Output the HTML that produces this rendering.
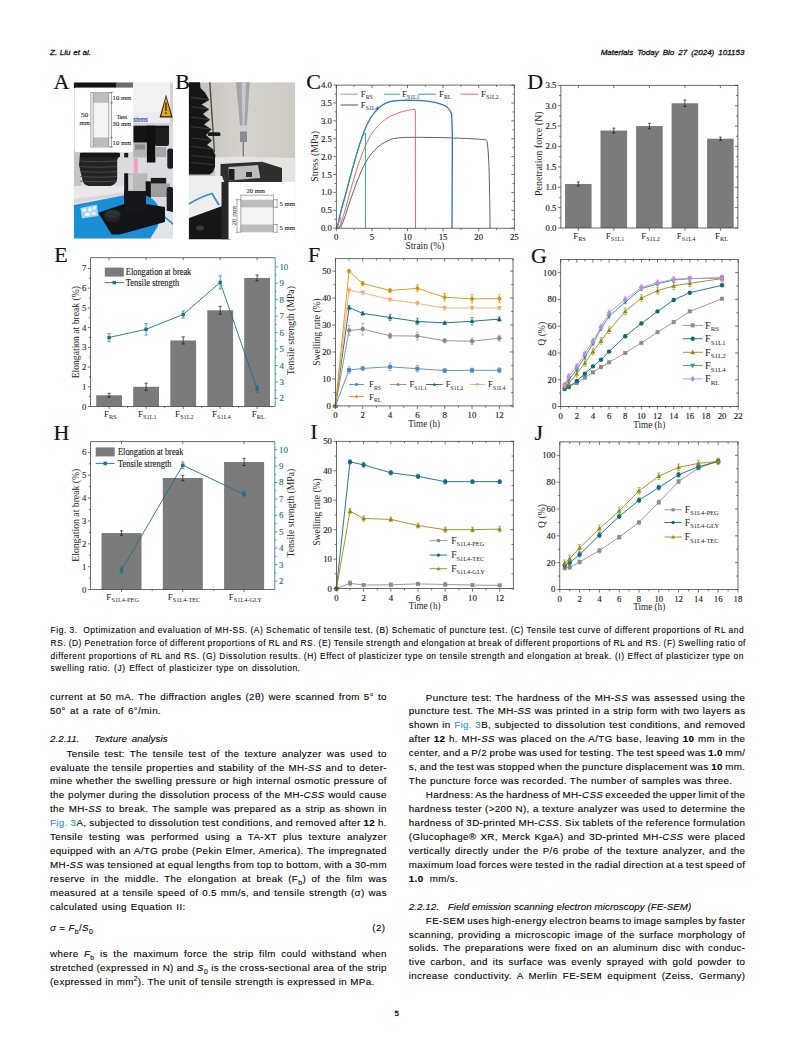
<!DOCTYPE html>
<html><head><meta charset="utf-8"><title>Materials Today Bio 27 (2024) 101153 - page 5</title>
<style>
html,body{margin:0;padding:0;background:#fff;}
body{width:794px;height:1058px;position:relative;overflow:hidden;}
.ln{position:absolute;white-space:nowrap;line-height:12.0px;font-family:"Liberation Sans", "DejaVu Sans", sans-serif;color:#000;-webkit-text-stroke-width:0.1px;}
.ln sub,.ln sup{font-size:70%;line-height:0;}
.ln b{font-weight:bold;}
.lk{color:#2f8fcf;}
.hd,.hdr,.pg{color:#111;-webkit-text-stroke-width:0.3px;}
.bt{letter-spacing:0.35px;}
.cap{letter-spacing:0.55px;}
.hh{letter-spacing:0.05px;}
svg.fig{position:absolute;left:0;top:0;}
</style></head><body>
<svg class="fig" width="794" height="615" viewBox="0 0 794 615">
<clipPath id="cpA"><rect x="73.9" y="82.5" width="99.1" height="155.9"/></clipPath>
<g clip-path="url(#cpA)">
<rect x="73.9" y="82.5" width="99.1" height="155.9" fill="#dcdbdf"/>
<rect x="73" y="150" width="8" height="40" fill="#c4c3c6"/>
<rect x="73" y="82" width="44" height="6" fill="#141414"/>
<rect x="116" y="82" width="18" height="6" fill="#6a6a6a"/>
<path d="M133 82 H173 V125 H133 Z" fill="#f2f0f3"/>
<path d="M133 112 H173 V125 H133 Z" fill="#eeebef"/>
<path d="M133 123 H173 V126 H133 Z" fill="#d4d0d6"/>
<path d="M170 82 H173 V125 H170 Z" fill="#d3d0d6"/>
<polygon points="166,94.5 159.6,117.5 172.6,117.5" fill="#222"/>
<polygon points="166,97 161.2,116.3 171,116.3" fill="#eaa816"/>
<rect x="165.35" y="102.5" width="1.3" height="8.5" fill="#222"/><rect x="165.35" y="112.3" width="1.3" height="1.6" fill="#222"/>
<text x="133.3" y="122.2" font-size="6.8" font-weight="bold" font-style="italic" fill="#2a4db0" font-family='"Liberation Sans", sans-serif' textLength="14.5" lengthAdjust="spacingAndGlyphs">stems</text>
<rect x="133.3" y="125.7" width="35.7" height="17" fill="#141414"/>
<rect x="155" y="128" width="14" height="18" rx="2" fill="#1e1e1e"/>
<rect x="133.3" y="142.7" width="13.6" height="14.7" fill="#b4b4b6"/>
<rect x="135" y="144.5" width="10" height="5" fill="#8c8c8e"/>
<rect x="146.9" y="125.7" width="8.5" height="36.8" fill="#101010"/>
<rect x="155.4" y="147" width="11" height="10" fill="#a6a6a8"/>
<rect x="167.3" y="148.4" width="6" height="20.4" rx="2.5" fill="#1c1c22"/>
<rect x="124.2" y="152.9" width="4" height="4.5" fill="#1a1a1a"/>
<path d="M80 154 Q80 152.8 83 152.8 H117 Q120 152.8 119 156 L117.2 160 V178 Q117 186.8 104 186.8 H95 Q83 186.8 82.5 180 L79 165 Z" fill="#242424"/>
<rect x="80" y="152.8" width="40" height="4.5" rx="1" fill="#161616"/>
<path d="M80.5 161 Q98 162.5 117 161" stroke="#4a4a4a" stroke-width="1.1" fill="none"/>
<path d="M80.5 166.5 Q98 168.0 117 166.5" stroke="#4a4a4a" stroke-width="1.1" fill="none"/>
<path d="M80.5 171.5 Q98 173.0 117 171.5" stroke="#4a4a4a" stroke-width="1.1" fill="none"/>
<path d="M80.5 176.5 Q98 178.0 117 176.5" stroke="#4a4a4a" stroke-width="1.1" fill="none"/>
<path d="M80.5 181 Q98 182.5 117 181" stroke="#4a4a4a" stroke-width="1.1" fill="none"/>
<polygon points="73,186 124,186 124,194.8 73,205.2" fill="#ebe7ea"/>
<polygon points="73,199 124,192.5 124,195 73,203.5" fill="#d9d6da"/>
<rect x="133.8" y="158" width="4" height="15.3" fill="#f0a0c0"/>
<rect x="124.2" y="173.3" width="4.2" height="37.5" fill="#141414"/>
<rect x="128.2" y="173.3" width="19.2" height="17.6" fill="#b9b9bb"/>
<rect x="129" y="175" width="4" height="15" fill="#cfcfd1"/>
<rect x="147" y="183.5" width="23" height="13.5" fill="#9d9d9f"/>
<rect x="145.7" y="181.3" width="5.1" height="31.7" fill="#121212"/>
<rect x="150.8" y="177.9" width="15.4" height="5.6" fill="#1a1a1a"/>
<rect x="166.7" y="187" width="6.3" height="27" rx="2" fill="#1c1c22"/>
<path d="M73 205.2 L127 194.8 L140 194 Q160 198 160 215 Q160 232 150 240 H73 Z" fill="#1b8fd6"/>
<polygon points="158,209 173,212 173,239 150,239 158,226" fill="#e2e4ea"/>
<path d="M157.6 210.8 L173.5 224.4" stroke="#1b8fd6" stroke-width="1.6"/>
<polygon points="80.4,208 97,204.5 98.3,216 82,218.4" fill="#a9d2ef"/>
<rect x="82.5" y="208.5" width="3.5" height="3" fill="#eef6fc"/><rect x="88.5" y="207.5" width="3" height="4" fill="#eef6fc"/><rect x="93" y="206.5" width="3" height="3" fill="#eef6fc"/><rect x="85" y="213" width="5" height="3" fill="#eef6fc"/><rect x="92" y="212" width="3.5" height="3" fill="#eef6fc"/>
<polygon points="98.3,212.7 124,204 146,204 165,207 165,222 120,234.5 111.6,234.5" fill="#121418"/>
<polygon points="124,190.9 146,190.9 146,212 124,212" fill="#15171b"/>
<ellipse cx="112.5" cy="216" rx="8.5" ry="6.2" fill="#202226"/>
<ellipse cx="112.5" cy="214" rx="7.5" ry="4.2" fill="#2e3034"/>
</g>
<rect x="75" y="87.6" width="58.2" height="64.5" fill="#ffffff"/>
<rect x="90.9" y="92.3" width="20.6" height="54.7" fill="#f4f4f6" stroke="#555" stroke-width="0.5"/>
<rect x="93.2" y="92.3" width="15.5" height="10.5" fill="#bdbdbd"/>
<rect x="93.2" y="137.4" width="15.5" height="9.6" fill="#bdbdbd"/>
<line x1="93.2" y1="92.3" x2="93.2" y2="147" stroke="#666" stroke-width="0.5"/><line x1="108.7" y1="92.3" x2="108.7" y2="147" stroke="#666" stroke-width="0.5"/>
<line x1="110" y1="92.3" x2="113" y2="92.3" stroke="#444" stroke-width="0.5"/>
<line x1="110" y1="102.8" x2="113" y2="102.8" stroke="#444" stroke-width="0.5"/>
<line x1="110" y1="137.4" x2="113" y2="137.4" stroke="#444" stroke-width="0.5"/>
<line x1="110" y1="147" x2="113" y2="147" stroke="#444" stroke-width="0.5"/>
<text x="112.6" y="99.8" font-size="6.6" fill="#333" stroke="#333" stroke-width="0.15" font-family='"Liberation Serif", "Times New Roman", serif' textLength="18.6" lengthAdjust="spacingAndGlyphs">10 mm</text>
<text x="116.4" y="118.8" font-size="6.6" fill="#333" stroke="#333" stroke-width="0.15" font-family='"Liberation Serif", "Times New Roman", serif' textLength="11" lengthAdjust="spacingAndGlyphs">Test</text>
<text x="112.6" y="126.4" font-size="6.6" fill="#333" stroke="#333" stroke-width="0.15" font-family='"Liberation Serif", "Times New Roman", serif' textLength="18.6" lengthAdjust="spacingAndGlyphs">30 mm</text>
<text x="112.6" y="145.4" font-size="6.6" fill="#333" stroke="#333" stroke-width="0.15" font-family='"Liberation Serif", "Times New Roman", serif' textLength="18.6" lengthAdjust="spacingAndGlyphs">10 mm</text>
<text x="80.8" y="116.7" font-size="6.6" fill="#333" stroke="#333" stroke-width="0.15" font-family='"Liberation Serif", "Times New Roman", serif' textLength="7.5" lengthAdjust="spacingAndGlyphs">50</text>
<text x="79.6" y="124.5" font-size="6.6" fill="#333" stroke="#333" stroke-width="0.15" font-family='"Liberation Serif", "Times New Roman", serif' textLength="10.2" lengthAdjust="spacingAndGlyphs">mm</text>
<text x="53.6" y="88.5" font-size="22" fill="#111" stroke="#111" stroke-width="0.15" font-family='"Liberation Serif", "Times New Roman", serif'>A</text>
<text x="175.2" y="88.5" font-size="22" fill="#111" stroke="#111" stroke-width="0.15" font-family='"Liberation Serif", "Times New Roman", serif'>B</text>
<clipPath id="cpB"><rect x="188.9" y="82.3" width="106.49999999999997" height="156.89999999999998"/></clipPath>
<g clip-path="url(#cpB)">
<linearGradient id="wallB" x1="0" y1="0" x2="1" y2="0"><stop offset="0" stop-color="#c2bfb8"/><stop offset="0.5" stop-color="#d6d3cd"/><stop offset="1" stop-color="#cdcac4"/></linearGradient>
<rect x="188.9" y="82.3" width="106.49999999999997" height="156.89999999999998" fill="url(#wallB)"/>
<line x1="209.8" y1="82" x2="214.4" y2="152" stroke="#4e4a45" stroke-width="1.4"/>
<polygon points="188,82 200,82 200.5,88 205,92.5 209.2,99.9 201.6,104.5 209.2,109.3 203,114 210,119.7 204,124.6 211.5,129.2 206,135 212,140.5 207,145 213,149 215.3,155 215.3,166 213,172 209.6,174.6 188,174.6" fill="#161616"/>
<path d="M191 97.4 Q200.1 98.4 207.7 99.6" stroke="#3a3a3a" stroke-width="1.1" fill="none"/>
<path d="M191 106.8 Q200.1 107.8 207.7 109" stroke="#3a3a3a" stroke-width="1.1" fill="none"/>
<path d="M191 117.2 Q200.5 118.2 208.5 119.4" stroke="#3a3a3a" stroke-width="1.1" fill="none"/>
<path d="M191 126.7 Q201.25 127.7 210 128.9" stroke="#3a3a3a" stroke-width="1.1" fill="none"/>
<path d="M191 138 Q201.5 139 210.5 140.2" stroke="#3a3a3a" stroke-width="1.1" fill="none"/>
<path d="M191 146.5 Q202 147.5 211.5 148.7" stroke="#3a3a3a" stroke-width="1.1" fill="none"/>
<path d="M191 155.5 Q203 156.5 213.5 157.7" stroke="#3a3a3a" stroke-width="1.1" fill="none"/>
<path d="M191 162.5 Q203 163.5 213.5 164.7" stroke="#3a3a3a" stroke-width="1.1" fill="none"/>
<rect x="207.7" y="132.3" width="12.8" height="3.6" rx="1.5" fill="#1a1a1a"/>
<polygon points="236,82 249.8,82 246.8,126 240,126" fill="#a3a3a8"/>
<polygon points="241.5,82 246,82 244.6,126 242.4,126" fill="#c6c6cb"/>
<rect x="238" y="125.5" width="11.5" height="6.5" rx="2.5" fill="#d0d0d4"/>
<rect x="240" y="131.5" width="7" height="10.5" fill="#8c8c90"/>
<rect x="242.6" y="142" width="1.3" height="20" fill="#77777b"/>
<polygon points="215,157.5 240,156.5 295,158 295,182 215,182" fill="#e6e4e0"/>
<polygon points="220.5,164 262,161.7 282,168 282,182 220.5,182" fill="#2e2e2e"/>
<polygon points="228.5,167 258,165 260.3,178 229,180.6" fill="#bdbdbf"/>
<rect x="229" y="169" width="5.5" height="11" fill="#1e1e1e"/>
<rect x="246" y="172" width="6" height="5" fill="#333"/>
<polygon points="188,176 222,176 225,184 225,206 188,218" fill="#efeded"/>
<path d="M188 204.5 Q200 197 212 193.5 L219 205" fill="none" stroke="#2a8ed0" stroke-width="1.8"/>
<polygon points="188,218.5 225,205 231,206 231,240 188,240" fill="#161616"/>
<rect x="221.5" y="182" width="8" height="58" fill="#262626"/>
<ellipse cx="200" cy="228" rx="4" ry="2.5" fill="#3a3a3a"/>
</g>
<rect x="228.5" y="182" width="66.9" height="57.2" fill="#ffffff"/>
<rect x="240.8" y="199.7" width="32.6" height="32.6" fill="#f4f4f6"/>
<rect x="240.8" y="199.7" width="32.6" height="7.7" fill="#bdbdbd"/>
<rect x="240.8" y="224.5" width="32.6" height="7.8" fill="#bdbdbd"/>
<line x1="240.8" y1="194.5" x2="240.8" y2="232.3" stroke="#555" stroke-width="0.5"/>
<line x1="273.4" y1="194.5" x2="273.4" y2="232.3" stroke="#555" stroke-width="0.5"/>
<line x1="240.8" y1="195.2" x2="273.4" y2="195.2" stroke="#555" stroke-width="0.5"/>
<line x1="237" y1="199.7" x2="237" y2="232.3" stroke="#555" stroke-width="0.5"/>
<line x1="235.5" y1="199.7" x2="240.8" y2="199.7" stroke="#555" stroke-width="0.5"/><line x1="235.5" y1="232.3" x2="240.8" y2="232.3" stroke="#555" stroke-width="0.5"/>
<line x1="273.4" y1="199.7" x2="278" y2="199.7" stroke="#555" stroke-width="0.5"/>
<line x1="273.4" y1="207.4" x2="278" y2="207.4" stroke="#555" stroke-width="0.5"/>
<line x1="273.4" y1="224.5" x2="278" y2="224.5" stroke="#555" stroke-width="0.5"/>
<line x1="273.4" y1="232.3" x2="278" y2="232.3" stroke="#555" stroke-width="0.5"/>
<line x1="277" y1="199.7" x2="277" y2="207.4" stroke="#555" stroke-width="0.5"/><line x1="277" y1="224.5" x2="277" y2="232.3" stroke="#555" stroke-width="0.5"/>
<text x="246.5" y="193.3" font-size="6.8" fill="#333" stroke="#333" stroke-width="0.15" font-family='"Liberation Serif", "Times New Roman", serif' textLength="18.5" lengthAdjust="spacingAndGlyphs">20 mm</text>
<text x="279.5" y="206.2" font-size="6.8" fill="#333" stroke="#333" stroke-width="0.15" font-family='"Liberation Serif", "Times New Roman", serif' textLength="15.5" lengthAdjust="spacingAndGlyphs">5 mm</text>
<text x="279.5" y="230.2" font-size="6.8" fill="#333" stroke="#333" stroke-width="0.15" font-family='"Liberation Serif", "Times New Roman", serif' textLength="15.5" lengthAdjust="spacingAndGlyphs">5 mm</text>
<text x="0" y="0" font-size="6.8" fill="#333" font-family='"Liberation Serif", "Times New Roman", serif' transform="translate(235.8,225.5) rotate(-90)" textLength="19.5" lengthAdjust="spacingAndGlyphs">20 mm</text>
<text x="306.2" y="88.9" font-size="22" fill="#111" stroke="#111" stroke-width="0.15" font-family='"Liberation Serif", "Times New Roman", serif'>C</text>
<polyline points="336.3,228.2 339.15,227.84 342,224.62 345.56,214.61 349.12,203.87 352.68,193.5 356.24,183.48 359.8,174.54 363.36,166.67 366.92,160.23 370.48,154.86 374.18,150.57 377.88,146.99 381.58,144.13 385.29,141.98 388.99,140.19 392.69,138.76 400.1,137.69 407.5,137.33 421.74,137.33 435.98,137.51 450.22,137.87 464.46,138.4 478.7,139.12 485.82,139.84 487.24,141.62 488.31,153.07 489.02,167.38 489.74,199.58 490.09,228.2" fill="none" stroke="#3c3c3c" stroke-width="0.8" stroke-linejoin="round"/>
<polyline points="336.3,228.2 339.15,227.13 340.86,224.62 343.42,215.68 346.27,206.02 349.12,195.29 352.68,182.77 356.24,170.96 359.8,160.23 363.36,150.57 366.92,142.34 370.48,135.54 374.18,130.18 377.88,125.88 381.58,122.31 385.29,119.44 388.99,116.94 392.69,115.15 396.39,113.72 400.1,112.29 403.8,111.22 407.5,110.5 411.06,109.78 414.98,109.43 415.33,110.14 415.47,228.2" fill="none" stroke="#e8574f" stroke-width="0.9" stroke-linejoin="round"/>
<polyline points="336.3,228.2 337.9,224.62 339.5,217.47 341.64,208.52 345.2,196 348.76,182.41 352.32,169.17 355.88,156.65 359.44,144.84 363,134.47 366.56,125.53 370.32,118.37 374.08,113 377.83,108.71 381.59,105.49 385.35,103.35 389.11,101.91 392.86,101.02 400.38,100.3 407.5,100.13 414.62,100.3 421.74,100.66 428.86,101.38 435.98,102.63 443.1,104.78 447.37,107.28 450.22,110.86 451.64,114.44 452.36,135.19 452,228.2" fill="none" stroke="#2b78c8" stroke-width="1.3" stroke-linejoin="round"/>
<polyline points="336.3,228.2 337.9,224.62 339.5,217.47 341.64,208.52 345.2,196 348.76,182.41 352.32,169.17 355.88,156.65 359.44,144.84 363,135.19 365.63,133.04 365.35,145.92 365.49,228.2" fill="none" stroke="#27a07e" stroke-width="0.9" stroke-linejoin="round"/>
<polyline points="336.3,228.2 337.72,226.41 339.15,221.04 340.57,216.75 341.28,224.62 341.64,228.2" fill="none" stroke="#b27ad8" stroke-width="0.9" stroke-linejoin="round"/>
<rect x="336.3" y="85.1" width="178" height="143.1" fill="none" stroke="#3a3a3a" stroke-width="0.75"/>
<line x1="336.3" y1="228.2" x2="333.3" y2="228.2" stroke="#3a3a3a" stroke-width="0.7"/>
<text x="331.9" y="231.19" font-size="8.8" fill="#222" stroke="#222" stroke-width="0.15" font-family='"Liberation Serif", "Times New Roman", serif' text-anchor="end">0.0</text>
<line x1="336.3" y1="210.31" x2="333.3" y2="210.31" stroke="#3a3a3a" stroke-width="0.7"/>
<text x="331.9" y="213.3" font-size="8.8" fill="#222" stroke="#222" stroke-width="0.15" font-family='"Liberation Serif", "Times New Roman", serif' text-anchor="end">0.5</text>
<line x1="336.3" y1="192.42" x2="333.3" y2="192.42" stroke="#3a3a3a" stroke-width="0.7"/>
<text x="331.9" y="195.42" font-size="8.8" fill="#222" stroke="#222" stroke-width="0.15" font-family='"Liberation Serif", "Times New Roman", serif' text-anchor="end">1.0</text>
<line x1="336.3" y1="174.54" x2="333.3" y2="174.54" stroke="#3a3a3a" stroke-width="0.7"/>
<text x="331.9" y="177.53" font-size="8.8" fill="#222" stroke="#222" stroke-width="0.15" font-family='"Liberation Serif", "Times New Roman", serif' text-anchor="end">1.5</text>
<line x1="336.3" y1="156.65" x2="333.3" y2="156.65" stroke="#3a3a3a" stroke-width="0.7"/>
<text x="331.9" y="159.64" font-size="8.8" fill="#222" stroke="#222" stroke-width="0.15" font-family='"Liberation Serif", "Times New Roman", serif' text-anchor="end">2.0</text>
<line x1="336.3" y1="138.76" x2="333.3" y2="138.76" stroke="#3a3a3a" stroke-width="0.7"/>
<text x="331.9" y="141.75" font-size="8.8" fill="#222" stroke="#222" stroke-width="0.15" font-family='"Liberation Serif", "Times New Roman", serif' text-anchor="end">2.5</text>
<line x1="336.3" y1="120.88" x2="333.3" y2="120.88" stroke="#3a3a3a" stroke-width="0.7"/>
<text x="331.9" y="123.87" font-size="8.8" fill="#222" stroke="#222" stroke-width="0.15" font-family='"Liberation Serif", "Times New Roman", serif' text-anchor="end">3.0</text>
<line x1="336.3" y1="102.99" x2="333.3" y2="102.99" stroke="#3a3a3a" stroke-width="0.7"/>
<text x="331.9" y="105.98" font-size="8.8" fill="#222" stroke="#222" stroke-width="0.15" font-family='"Liberation Serif", "Times New Roman", serif' text-anchor="end">3.5</text>
<line x1="336.3" y1="85.1" x2="333.3" y2="85.1" stroke="#3a3a3a" stroke-width="0.7"/>
<text x="331.9" y="88.09" font-size="8.8" fill="#222" stroke="#222" stroke-width="0.15" font-family='"Liberation Serif", "Times New Roman", serif' text-anchor="end">4.0</text>
<line x1="336.3" y1="219.26" x2="334.5" y2="219.26" stroke="#3a3a3a" stroke-width="0.7"/>
<line x1="336.3" y1="201.37" x2="334.5" y2="201.37" stroke="#3a3a3a" stroke-width="0.7"/>
<line x1="336.3" y1="183.48" x2="334.5" y2="183.48" stroke="#3a3a3a" stroke-width="0.7"/>
<line x1="336.3" y1="165.59" x2="334.5" y2="165.59" stroke="#3a3a3a" stroke-width="0.7"/>
<line x1="336.3" y1="147.71" x2="334.5" y2="147.71" stroke="#3a3a3a" stroke-width="0.7"/>
<line x1="336.3" y1="129.82" x2="334.5" y2="129.82" stroke="#3a3a3a" stroke-width="0.7"/>
<line x1="336.3" y1="111.93" x2="334.5" y2="111.93" stroke="#3a3a3a" stroke-width="0.7"/>
<line x1="336.3" y1="94.04" x2="334.5" y2="94.04" stroke="#3a3a3a" stroke-width="0.7"/>
<line x1="514.3" y1="228.2" x2="511.3" y2="228.2" stroke="#3a3a3a" stroke-width="0.7"/>
<line x1="514.3" y1="210.31" x2="511.3" y2="210.31" stroke="#3a3a3a" stroke-width="0.7"/>
<line x1="514.3" y1="192.42" x2="511.3" y2="192.42" stroke="#3a3a3a" stroke-width="0.7"/>
<line x1="514.3" y1="174.54" x2="511.3" y2="174.54" stroke="#3a3a3a" stroke-width="0.7"/>
<line x1="514.3" y1="156.65" x2="511.3" y2="156.65" stroke="#3a3a3a" stroke-width="0.7"/>
<line x1="514.3" y1="138.76" x2="511.3" y2="138.76" stroke="#3a3a3a" stroke-width="0.7"/>
<line x1="514.3" y1="120.88" x2="511.3" y2="120.88" stroke="#3a3a3a" stroke-width="0.7"/>
<line x1="514.3" y1="102.99" x2="511.3" y2="102.99" stroke="#3a3a3a" stroke-width="0.7"/>
<line x1="514.3" y1="85.1" x2="511.3" y2="85.1" stroke="#3a3a3a" stroke-width="0.7"/>
<line x1="514.3" y1="219.26" x2="512.5" y2="219.26" stroke="#3a3a3a" stroke-width="0.7"/>
<line x1="514.3" y1="201.37" x2="512.5" y2="201.37" stroke="#3a3a3a" stroke-width="0.7"/>
<line x1="514.3" y1="183.48" x2="512.5" y2="183.48" stroke="#3a3a3a" stroke-width="0.7"/>
<line x1="514.3" y1="165.59" x2="512.5" y2="165.59" stroke="#3a3a3a" stroke-width="0.7"/>
<line x1="514.3" y1="147.71" x2="512.5" y2="147.71" stroke="#3a3a3a" stroke-width="0.7"/>
<line x1="514.3" y1="129.82" x2="512.5" y2="129.82" stroke="#3a3a3a" stroke-width="0.7"/>
<line x1="514.3" y1="111.93" x2="512.5" y2="111.93" stroke="#3a3a3a" stroke-width="0.7"/>
<line x1="514.3" y1="94.04" x2="512.5" y2="94.04" stroke="#3a3a3a" stroke-width="0.7"/>
<line x1="336.3" y1="228.2" x2="336.3" y2="231.2" stroke="#3a3a3a" stroke-width="0.7"/>
<text x="336.3" y="239.8" font-size="8.8" fill="#222" stroke="#222" stroke-width="0.15" font-family='"Liberation Serif", "Times New Roman", serif' text-anchor="middle">0</text>
<line x1="371.9" y1="228.2" x2="371.9" y2="231.2" stroke="#3a3a3a" stroke-width="0.7"/>
<text x="371.9" y="239.8" font-size="8.8" fill="#222" stroke="#222" stroke-width="0.15" font-family='"Liberation Serif", "Times New Roman", serif' text-anchor="middle">5</text>
<line x1="407.5" y1="228.2" x2="407.5" y2="231.2" stroke="#3a3a3a" stroke-width="0.7"/>
<text x="407.5" y="239.8" font-size="8.8" fill="#222" stroke="#222" stroke-width="0.15" font-family='"Liberation Serif", "Times New Roman", serif' text-anchor="middle">10</text>
<line x1="443.1" y1="228.2" x2="443.1" y2="231.2" stroke="#3a3a3a" stroke-width="0.7"/>
<text x="443.1" y="239.8" font-size="8.8" fill="#222" stroke="#222" stroke-width="0.15" font-family='"Liberation Serif", "Times New Roman", serif' text-anchor="middle">15</text>
<line x1="478.7" y1="228.2" x2="478.7" y2="231.2" stroke="#3a3a3a" stroke-width="0.7"/>
<text x="478.7" y="239.8" font-size="8.8" fill="#222" stroke="#222" stroke-width="0.15" font-family='"Liberation Serif", "Times New Roman", serif' text-anchor="middle">20</text>
<line x1="514.3" y1="228.2" x2="514.3" y2="231.2" stroke="#3a3a3a" stroke-width="0.7"/>
<text x="514.3" y="239.8" font-size="8.8" fill="#222" stroke="#222" stroke-width="0.15" font-family='"Liberation Serif", "Times New Roman", serif' text-anchor="middle">25</text>
<line x1="354.1" y1="228.2" x2="354.1" y2="230" stroke="#3a3a3a" stroke-width="0.7"/>
<line x1="389.7" y1="228.2" x2="389.7" y2="230" stroke="#3a3a3a" stroke-width="0.7"/>
<line x1="425.3" y1="228.2" x2="425.3" y2="230" stroke="#3a3a3a" stroke-width="0.7"/>
<line x1="460.9" y1="228.2" x2="460.9" y2="230" stroke="#3a3a3a" stroke-width="0.7"/>
<line x1="496.5" y1="228.2" x2="496.5" y2="230" stroke="#3a3a3a" stroke-width="0.7"/>
<line x1="336.3" y1="85.1" x2="336.3" y2="88.1" stroke="#3a3a3a" stroke-width="0.7"/>
<line x1="371.9" y1="85.1" x2="371.9" y2="88.1" stroke="#3a3a3a" stroke-width="0.7"/>
<line x1="407.5" y1="85.1" x2="407.5" y2="88.1" stroke="#3a3a3a" stroke-width="0.7"/>
<line x1="443.1" y1="85.1" x2="443.1" y2="88.1" stroke="#3a3a3a" stroke-width="0.7"/>
<line x1="478.7" y1="85.1" x2="478.7" y2="88.1" stroke="#3a3a3a" stroke-width="0.7"/>
<line x1="514.3" y1="85.1" x2="514.3" y2="88.1" stroke="#3a3a3a" stroke-width="0.7"/>
<line x1="354.1" y1="85.1" x2="354.1" y2="86.9" stroke="#3a3a3a" stroke-width="0.7"/>
<line x1="389.7" y1="85.1" x2="389.7" y2="86.9" stroke="#3a3a3a" stroke-width="0.7"/>
<line x1="425.3" y1="85.1" x2="425.3" y2="86.9" stroke="#3a3a3a" stroke-width="0.7"/>
<line x1="460.9" y1="85.1" x2="460.9" y2="86.9" stroke="#3a3a3a" stroke-width="0.7"/>
<line x1="496.5" y1="85.1" x2="496.5" y2="86.9" stroke="#3a3a3a" stroke-width="0.7"/>
<text x="424.9" y="248.8" font-size="9.6" fill="#222" font-family='"Liberation Serif", "Times New Roman", serif' text-anchor="middle" textLength="38.8" lengthAdjust="spacingAndGlyphs">Strain (%)</text>
<text x="0" y="0" font-size="9.6" fill="#222" font-family='"Liberation Serif", "Times New Roman", serif' text-anchor="middle" textLength="50.7" lengthAdjust="spacingAndGlyphs" transform="translate(318.2,156.4) rotate(-90)">Stress (MPa)</text>
<line x1="340.5" y1="94.2" x2="358" y2="94.2" stroke="#b27ad8" stroke-width="0.9"/><text x="360.8" y="97.1" font-size="8.8" fill="#222" font-family='"Liberation Serif", "Times New Roman", serif'>F<tspan font-size="5.81" dy="2.2">RS</tspan></text>
<line x1="384" y1="94.2" x2="400" y2="94.2" stroke="#27a07e" stroke-width="0.9"/><text x="402" y="97.1" font-size="8.8" fill="#222" font-family='"Liberation Serif", "Times New Roman", serif'>F<tspan font-size="5.81" dy="2.2">S1L1</tspan></text>
<line x1="418.5" y1="94.2" x2="436" y2="94.2" stroke="#2b78c8" stroke-width="0.9"/><text x="439" y="97.1" font-size="8.8" fill="#222" font-family='"Liberation Serif", "Times New Roman", serif'>F<tspan font-size="5.81" dy="2.2">RL</tspan></text>
<line x1="460.8" y1="94.2" x2="478" y2="94.2" stroke="#e8574f" stroke-width="0.9"/><text x="481" y="97.1" font-size="8.8" fill="#222" font-family='"Liberation Serif", "Times New Roman", serif'>F<tspan font-size="5.81" dy="2.2">S1L2</tspan></text>
<line x1="340.5" y1="105" x2="358" y2="105" stroke="#3c3c3c" stroke-width="0.9"/><text x="360.8" y="107.9" font-size="8.8" fill="#222" font-family='"Liberation Serif", "Times New Roman", serif'>F<tspan font-size="5.81" dy="2.2">S1L4</tspan></text>
<text x="527.2" y="88.7" font-size="22" fill="#111" stroke="#111" stroke-width="0.15" font-family='"Liberation Serif", "Times New Roman", serif'>D</text>
<rect x="565" y="183.97" width="26.6" height="44.03" fill="#7b7b7b"/>
<line x1="578.3" y1="181.93" x2="578.3" y2="186.01" stroke="#111" stroke-width="0.7"/><line x1="576.9" y1="181.93" x2="579.7" y2="181.93" stroke="#111" stroke-width="0.7"/><line x1="576.9" y1="186.01" x2="579.7" y2="186.01" stroke="#111" stroke-width="0.7"/>
<rect x="600.5" y="130.56" width="26.6" height="97.44" fill="#7b7b7b"/>
<line x1="613.8" y1="128.11" x2="613.8" y2="133" stroke="#111" stroke-width="0.7"/><line x1="612.4" y1="128.11" x2="615.2" y2="128.11" stroke="#111" stroke-width="0.7"/><line x1="612.4" y1="133" x2="615.2" y2="133" stroke="#111" stroke-width="0.7"/>
<rect x="636.1" y="126.07" width="26.6" height="101.93" fill="#7b7b7b"/>
<line x1="649.4" y1="123.22" x2="649.4" y2="128.93" stroke="#111" stroke-width="0.7"/><line x1="648" y1="123.22" x2="650.8" y2="123.22" stroke="#111" stroke-width="0.7"/><line x1="648" y1="128.93" x2="650.8" y2="128.93" stroke="#111" stroke-width="0.7"/>
<rect x="671.6" y="103.24" width="26.6" height="124.76" fill="#7b7b7b"/>
<line x1="684.9" y1="99.98" x2="684.9" y2="106.5" stroke="#111" stroke-width="0.7"/><line x1="683.5" y1="99.98" x2="686.3" y2="99.98" stroke="#111" stroke-width="0.7"/><line x1="683.5" y1="106.5" x2="686.3" y2="106.5" stroke="#111" stroke-width="0.7"/>
<rect x="707.1" y="138.71" width="26.6" height="89.29" fill="#7b7b7b"/>
<line x1="720.4" y1="137.08" x2="720.4" y2="140.34" stroke="#111" stroke-width="0.7"/><line x1="719" y1="137.08" x2="721.8" y2="137.08" stroke="#111" stroke-width="0.7"/><line x1="719" y1="140.34" x2="721.8" y2="140.34" stroke="#111" stroke-width="0.7"/>
<rect x="560.9" y="85.3" width="177" height="142.7" fill="none" stroke="#3a3a3a" stroke-width="0.75"/>
<line x1="560.9" y1="228" x2="557.9" y2="228" stroke="#3a3a3a" stroke-width="0.7"/>
<text x="556.5" y="230.99" font-size="8.8" fill="#222" stroke="#222" stroke-width="0.15" font-family='"Liberation Serif", "Times New Roman", serif' text-anchor="end">0.0</text>
<line x1="560.9" y1="207.61" x2="557.9" y2="207.61" stroke="#3a3a3a" stroke-width="0.7"/>
<text x="556.5" y="210.61" font-size="8.8" fill="#222" stroke="#222" stroke-width="0.15" font-family='"Liberation Serif", "Times New Roman", serif' text-anchor="end">0.5</text>
<line x1="560.9" y1="187.23" x2="557.9" y2="187.23" stroke="#3a3a3a" stroke-width="0.7"/>
<text x="556.5" y="190.22" font-size="8.8" fill="#222" stroke="#222" stroke-width="0.15" font-family='"Liberation Serif", "Times New Roman", serif' text-anchor="end">1.0</text>
<line x1="560.9" y1="166.84" x2="557.9" y2="166.84" stroke="#3a3a3a" stroke-width="0.7"/>
<text x="556.5" y="169.83" font-size="8.8" fill="#222" stroke="#222" stroke-width="0.15" font-family='"Liberation Serif", "Times New Roman", serif' text-anchor="end">1.5</text>
<line x1="560.9" y1="146.46" x2="557.9" y2="146.46" stroke="#3a3a3a" stroke-width="0.7"/>
<text x="556.5" y="149.45" font-size="8.8" fill="#222" stroke="#222" stroke-width="0.15" font-family='"Liberation Serif", "Times New Roman", serif' text-anchor="end">2.0</text>
<line x1="560.9" y1="126.07" x2="557.9" y2="126.07" stroke="#3a3a3a" stroke-width="0.7"/>
<text x="556.5" y="129.06" font-size="8.8" fill="#222" stroke="#222" stroke-width="0.15" font-family='"Liberation Serif", "Times New Roman", serif' text-anchor="end">2.5</text>
<line x1="560.9" y1="105.69" x2="557.9" y2="105.69" stroke="#3a3a3a" stroke-width="0.7"/>
<text x="556.5" y="108.68" font-size="8.8" fill="#222" stroke="#222" stroke-width="0.15" font-family='"Liberation Serif", "Times New Roman", serif' text-anchor="end">3.0</text>
<line x1="560.9" y1="85.3" x2="557.9" y2="85.3" stroke="#3a3a3a" stroke-width="0.7"/>
<text x="556.5" y="88.29" font-size="8.8" fill="#222" stroke="#222" stroke-width="0.15" font-family='"Liberation Serif", "Times New Roman", serif' text-anchor="end">3.5</text>
<line x1="560.9" y1="217.81" x2="559.1" y2="217.81" stroke="#3a3a3a" stroke-width="0.7"/>
<line x1="560.9" y1="197.42" x2="559.1" y2="197.42" stroke="#3a3a3a" stroke-width="0.7"/>
<line x1="560.9" y1="177.04" x2="559.1" y2="177.04" stroke="#3a3a3a" stroke-width="0.7"/>
<line x1="560.9" y1="156.65" x2="559.1" y2="156.65" stroke="#3a3a3a" stroke-width="0.7"/>
<line x1="560.9" y1="136.26" x2="559.1" y2="136.26" stroke="#3a3a3a" stroke-width="0.7"/>
<line x1="560.9" y1="115.88" x2="559.1" y2="115.88" stroke="#3a3a3a" stroke-width="0.7"/>
<line x1="560.9" y1="95.49" x2="559.1" y2="95.49" stroke="#3a3a3a" stroke-width="0.7"/>
<line x1="737.9" y1="228" x2="734.9" y2="228" stroke="#3a3a3a" stroke-width="0.7"/>
<line x1="737.9" y1="207.61" x2="734.9" y2="207.61" stroke="#3a3a3a" stroke-width="0.7"/>
<line x1="737.9" y1="187.23" x2="734.9" y2="187.23" stroke="#3a3a3a" stroke-width="0.7"/>
<line x1="737.9" y1="166.84" x2="734.9" y2="166.84" stroke="#3a3a3a" stroke-width="0.7"/>
<line x1="737.9" y1="146.46" x2="734.9" y2="146.46" stroke="#3a3a3a" stroke-width="0.7"/>
<line x1="737.9" y1="126.07" x2="734.9" y2="126.07" stroke="#3a3a3a" stroke-width="0.7"/>
<line x1="737.9" y1="105.69" x2="734.9" y2="105.69" stroke="#3a3a3a" stroke-width="0.7"/>
<line x1="737.9" y1="85.3" x2="734.9" y2="85.3" stroke="#3a3a3a" stroke-width="0.7"/>
<line x1="737.9" y1="217.81" x2="736.1" y2="217.81" stroke="#3a3a3a" stroke-width="0.7"/>
<line x1="737.9" y1="197.42" x2="736.1" y2="197.42" stroke="#3a3a3a" stroke-width="0.7"/>
<line x1="737.9" y1="177.04" x2="736.1" y2="177.04" stroke="#3a3a3a" stroke-width="0.7"/>
<line x1="737.9" y1="156.65" x2="736.1" y2="156.65" stroke="#3a3a3a" stroke-width="0.7"/>
<line x1="737.9" y1="136.26" x2="736.1" y2="136.26" stroke="#3a3a3a" stroke-width="0.7"/>
<line x1="737.9" y1="115.88" x2="736.1" y2="115.88" stroke="#3a3a3a" stroke-width="0.7"/>
<line x1="737.9" y1="95.49" x2="736.1" y2="95.49" stroke="#3a3a3a" stroke-width="0.7"/>
<line x1="578.3" y1="228" x2="578.3" y2="230.8" stroke="#3a3a3a" stroke-width="0.7"/>
<line x1="578.3" y1="85.3" x2="578.3" y2="88.1" stroke="#3a3a3a" stroke-width="0.7"/>
<line x1="613.8" y1="228" x2="613.8" y2="230.8" stroke="#3a3a3a" stroke-width="0.7"/>
<line x1="613.8" y1="85.3" x2="613.8" y2="88.1" stroke="#3a3a3a" stroke-width="0.7"/>
<line x1="649.4" y1="228" x2="649.4" y2="230.8" stroke="#3a3a3a" stroke-width="0.7"/>
<line x1="649.4" y1="85.3" x2="649.4" y2="88.1" stroke="#3a3a3a" stroke-width="0.7"/>
<line x1="684.9" y1="228" x2="684.9" y2="230.8" stroke="#3a3a3a" stroke-width="0.7"/>
<line x1="684.9" y1="85.3" x2="684.9" y2="88.1" stroke="#3a3a3a" stroke-width="0.7"/>
<line x1="720.4" y1="228" x2="720.4" y2="230.8" stroke="#3a3a3a" stroke-width="0.7"/>
<line x1="720.4" y1="85.3" x2="720.4" y2="88.1" stroke="#3a3a3a" stroke-width="0.7"/>
<text x="579.5" y="238.6" font-size="9" fill="#222" font-family='"Liberation Serif", "Times New Roman", serif' text-anchor="middle">F<tspan font-size="6.3" dy="2.3">RS</tspan></text>
<text x="615" y="238.6" font-size="9" fill="#222" font-family='"Liberation Serif", "Times New Roman", serif' text-anchor="middle">F<tspan font-size="6.3" dy="2.3">S1L1</tspan></text>
<text x="650.6" y="238.6" font-size="9" fill="#222" font-family='"Liberation Serif", "Times New Roman", serif' text-anchor="middle">F<tspan font-size="6.3" dy="2.3">S1L2</tspan></text>
<text x="686.1" y="238.6" font-size="9" fill="#222" font-family='"Liberation Serif", "Times New Roman", serif' text-anchor="middle">F<tspan font-size="6.3" dy="2.3">S1L4</tspan></text>
<text x="721.6" y="238.6" font-size="9" fill="#222" font-family='"Liberation Serif", "Times New Roman", serif' text-anchor="middle">F<tspan font-size="6.3" dy="2.3">RL</tspan></text>
<text x="0" y="0" font-size="9.6" fill="#222" font-family='"Liberation Serif", "Times New Roman", serif' text-anchor="middle" textLength="84.6" lengthAdjust="spacingAndGlyphs" transform="translate(542.3,153.7) rotate(-90)">Penetration force (N)</text>
<text x="54.2" y="262.3" font-size="22" fill="#111" stroke="#111" stroke-width="0.15" font-family='"Liberation Serif", "Times New Roman", serif'>E</text>
<rect x="96.2" y="395.26" width="25.8" height="11.24" fill="#7b7b7b"/>
<line x1="109.1" y1="393.29" x2="109.1" y2="397.23" stroke="#111" stroke-width="0.7"/><line x1="107.5" y1="393.29" x2="110.7" y2="393.29" stroke="#111" stroke-width="0.7"/><line x1="107.5" y1="397.23" x2="110.7" y2="397.23" stroke="#111" stroke-width="0.7"/>
<rect x="133.2" y="386.78" width="25.8" height="19.72" fill="#7b7b7b"/>
<line x1="146.1" y1="383.23" x2="146.1" y2="390.33" stroke="#111" stroke-width="0.7"/><line x1="144.5" y1="383.23" x2="147.7" y2="383.23" stroke="#111" stroke-width="0.7"/><line x1="144.5" y1="390.33" x2="147.7" y2="390.33" stroke="#111" stroke-width="0.7"/>
<rect x="170.3" y="340.44" width="25.8" height="66.06" fill="#7b7b7b"/>
<line x1="183.2" y1="336.89" x2="183.2" y2="343.99" stroke="#111" stroke-width="0.7"/><line x1="181.6" y1="336.89" x2="184.8" y2="336.89" stroke="#111" stroke-width="0.7"/><line x1="181.6" y1="343.99" x2="184.8" y2="343.99" stroke="#111" stroke-width="0.7"/>
<rect x="207.3" y="310.27" width="25.8" height="96.23" fill="#7b7b7b"/>
<line x1="220.2" y1="306.32" x2="220.2" y2="314.21" stroke="#111" stroke-width="0.7"/><line x1="218.6" y1="306.32" x2="221.8" y2="306.32" stroke="#111" stroke-width="0.7"/><line x1="218.6" y1="314.21" x2="221.8" y2="314.21" stroke="#111" stroke-width="0.7"/>
<rect x="244.2" y="277.93" width="25.8" height="128.57" fill="#7b7b7b"/>
<line x1="257.1" y1="274.97" x2="257.1" y2="280.88" stroke="#111" stroke-width="0.7"/><line x1="255.5" y1="274.97" x2="258.7" y2="274.97" stroke="#111" stroke-width="0.7"/><line x1="255.5" y1="280.88" x2="258.7" y2="280.88" stroke="#111" stroke-width="0.7"/>
<polyline points="109.1,337.53 146.1,329.31 183.2,314.5 220.2,282.43 257.1,389.02" fill="none" stroke="#17728a" stroke-width="0.9" stroke-linejoin="round"/>
<line x1="109.1" y1="333.42" x2="109.1" y2="341.65" stroke="#17728a" stroke-width="0.7"/><line x1="107.5" y1="333.42" x2="110.7" y2="333.42" stroke="#17728a" stroke-width="0.7"/><line x1="107.5" y1="341.65" x2="110.7" y2="341.65" stroke="#17728a" stroke-width="0.7"/>
<rect x="107.39" y="335.82" width="3.42" height="3.42" fill="#17728a"/>
<line x1="146.1" y1="323.55" x2="146.1" y2="335.07" stroke="#17728a" stroke-width="0.7"/><line x1="144.5" y1="323.55" x2="147.7" y2="323.55" stroke="#17728a" stroke-width="0.7"/><line x1="144.5" y1="335.07" x2="147.7" y2="335.07" stroke="#17728a" stroke-width="0.7"/>
<rect x="144.39" y="327.6" width="3.42" height="3.42" fill="#17728a"/>
<line x1="183.2" y1="310.89" x2="183.2" y2="318.12" stroke="#17728a" stroke-width="0.7"/><line x1="181.6" y1="310.89" x2="184.8" y2="310.89" stroke="#17728a" stroke-width="0.7"/><line x1="181.6" y1="318.12" x2="184.8" y2="318.12" stroke="#17728a" stroke-width="0.7"/>
<rect x="181.49" y="312.8" width="3.42" height="3.42" fill="#17728a"/>
<line x1="220.2" y1="275.85" x2="220.2" y2="289.01" stroke="#17728a" stroke-width="0.7"/><line x1="218.6" y1="275.85" x2="221.8" y2="275.85" stroke="#17728a" stroke-width="0.7"/><line x1="218.6" y1="289.01" x2="221.8" y2="289.01" stroke="#17728a" stroke-width="0.7"/>
<rect x="218.49" y="280.72" width="3.42" height="3.42" fill="#17728a"/>
<line x1="257.1" y1="385.73" x2="257.1" y2="392.31" stroke="#17728a" stroke-width="0.7"/><line x1="255.5" y1="385.73" x2="258.7" y2="385.73" stroke="#17728a" stroke-width="0.7"/><line x1="255.5" y1="392.31" x2="258.7" y2="392.31" stroke="#17728a" stroke-width="0.7"/>
<rect x="255.39" y="387.31" width="3.42" height="3.42" fill="#17728a"/>
<line x1="90.5" y1="257.7" x2="275.2" y2="257.7" stroke="#3a3a3a" stroke-width="0.75"/>
<line x1="90.5" y1="257.7" x2="90.5" y2="406.5" stroke="#3a3a3a" stroke-width="0.75"/>
<line x1="90.5" y1="406.5" x2="275.2" y2="406.5" stroke="#3a3a3a" stroke-width="0.75"/>
<line x1="275.2" y1="257.7" x2="275.2" y2="406.5" stroke="#17728a" stroke-width="0.75"/>
<line x1="87.9" y1="406.5" x2="90.5" y2="406.5" stroke="#3a3a3a" stroke-width="0.7"/>
<text x="86.5" y="409.5" font-size="8.8" fill="#333" stroke="#333" stroke-width="0.15" font-family='"Liberation Serif", "Times New Roman", serif' text-anchor="end">0</text>
<line x1="87.9" y1="386.78" x2="90.5" y2="386.78" stroke="#3a3a3a" stroke-width="0.7"/>
<text x="86.5" y="389.78" font-size="8.8" fill="#333" stroke="#333" stroke-width="0.15" font-family='"Liberation Serif", "Times New Roman", serif' text-anchor="end">1</text>
<line x1="87.9" y1="367.06" x2="90.5" y2="367.06" stroke="#3a3a3a" stroke-width="0.7"/>
<text x="86.5" y="370.06" font-size="8.8" fill="#333" stroke="#333" stroke-width="0.15" font-family='"Liberation Serif", "Times New Roman", serif' text-anchor="end">2</text>
<line x1="87.9" y1="347.34" x2="90.5" y2="347.34" stroke="#3a3a3a" stroke-width="0.7"/>
<text x="86.5" y="350.34" font-size="8.8" fill="#333" stroke="#333" stroke-width="0.15" font-family='"Liberation Serif", "Times New Roman", serif' text-anchor="end">3</text>
<line x1="87.9" y1="327.62" x2="90.5" y2="327.62" stroke="#3a3a3a" stroke-width="0.7"/>
<text x="86.5" y="330.62" font-size="8.8" fill="#333" stroke="#333" stroke-width="0.15" font-family='"Liberation Serif", "Times New Roman", serif' text-anchor="end">4</text>
<line x1="87.9" y1="307.9" x2="90.5" y2="307.9" stroke="#3a3a3a" stroke-width="0.7"/>
<text x="86.5" y="310.9" font-size="8.8" fill="#333" stroke="#333" stroke-width="0.15" font-family='"Liberation Serif", "Times New Roman", serif' text-anchor="end">5</text>
<line x1="87.9" y1="288.18" x2="90.5" y2="288.18" stroke="#3a3a3a" stroke-width="0.7"/>
<text x="86.5" y="291.18" font-size="8.8" fill="#333" stroke="#333" stroke-width="0.15" font-family='"Liberation Serif", "Times New Roman", serif' text-anchor="end">6</text>
<line x1="87.9" y1="268.46" x2="90.5" y2="268.46" stroke="#3a3a3a" stroke-width="0.7"/>
<text x="86.5" y="271.46" font-size="8.8" fill="#333" stroke="#333" stroke-width="0.15" font-family='"Liberation Serif", "Times New Roman", serif' text-anchor="end">7</text>
<line x1="89" y1="396.64" x2="90.5" y2="396.64" stroke="#3a3a3a" stroke-width="0.7"/>
<line x1="89" y1="376.92" x2="90.5" y2="376.92" stroke="#3a3a3a" stroke-width="0.7"/>
<line x1="89" y1="357.2" x2="90.5" y2="357.2" stroke="#3a3a3a" stroke-width="0.7"/>
<line x1="89" y1="337.48" x2="90.5" y2="337.48" stroke="#3a3a3a" stroke-width="0.7"/>
<line x1="89" y1="317.76" x2="90.5" y2="317.76" stroke="#3a3a3a" stroke-width="0.7"/>
<line x1="89" y1="298.04" x2="90.5" y2="298.04" stroke="#3a3a3a" stroke-width="0.7"/>
<line x1="89" y1="278.32" x2="90.5" y2="278.32" stroke="#3a3a3a" stroke-width="0.7"/>
<line x1="275.2" y1="398.4" x2="277.8" y2="398.4" stroke="#17728a" stroke-width="0.7"/>
<text x="279.4" y="401.4" font-size="8.8" fill="#17728a" stroke="#17728a" stroke-width="0.15" font-family='"Liberation Serif", "Times New Roman", serif'>2</text>
<line x1="275.2" y1="381.95" x2="277.8" y2="381.95" stroke="#17728a" stroke-width="0.7"/>
<text x="279.4" y="384.95" font-size="8.8" fill="#17728a" stroke="#17728a" stroke-width="0.15" font-family='"Liberation Serif", "Times New Roman", serif'>3</text>
<line x1="275.2" y1="365.5" x2="277.8" y2="365.5" stroke="#17728a" stroke-width="0.7"/>
<text x="279.4" y="368.5" font-size="8.8" fill="#17728a" stroke="#17728a" stroke-width="0.15" font-family='"Liberation Serif", "Times New Roman", serif'>4</text>
<line x1="275.2" y1="349.05" x2="277.8" y2="349.05" stroke="#17728a" stroke-width="0.7"/>
<text x="279.4" y="352.05" font-size="8.8" fill="#17728a" stroke="#17728a" stroke-width="0.15" font-family='"Liberation Serif", "Times New Roman", serif'>5</text>
<line x1="275.2" y1="332.6" x2="277.8" y2="332.6" stroke="#17728a" stroke-width="0.7"/>
<text x="279.4" y="335.6" font-size="8.8" fill="#17728a" stroke="#17728a" stroke-width="0.15" font-family='"Liberation Serif", "Times New Roman", serif'>6</text>
<line x1="275.2" y1="316.15" x2="277.8" y2="316.15" stroke="#17728a" stroke-width="0.7"/>
<text x="279.4" y="319.15" font-size="8.8" fill="#17728a" stroke="#17728a" stroke-width="0.15" font-family='"Liberation Serif", "Times New Roman", serif'>7</text>
<line x1="275.2" y1="299.7" x2="277.8" y2="299.7" stroke="#17728a" stroke-width="0.7"/>
<text x="279.4" y="302.7" font-size="8.8" fill="#17728a" stroke="#17728a" stroke-width="0.15" font-family='"Liberation Serif", "Times New Roman", serif'>8</text>
<line x1="275.2" y1="283.25" x2="277.8" y2="283.25" stroke="#17728a" stroke-width="0.7"/>
<text x="279.4" y="286.25" font-size="8.8" fill="#17728a" stroke="#17728a" stroke-width="0.15" font-family='"Liberation Serif", "Times New Roman", serif'>9</text>
<line x1="275.2" y1="266.8" x2="277.8" y2="266.8" stroke="#17728a" stroke-width="0.7"/>
<text x="279.4" y="269.8" font-size="8.8" fill="#17728a" stroke="#17728a" stroke-width="0.15" font-family='"Liberation Serif", "Times New Roman", serif'>10</text>
<line x1="275.2" y1="390.17" x2="276.7" y2="390.17" stroke="#17728a" stroke-width="0.7"/>
<line x1="275.2" y1="373.72" x2="276.7" y2="373.72" stroke="#17728a" stroke-width="0.7"/>
<line x1="275.2" y1="357.27" x2="276.7" y2="357.27" stroke="#17728a" stroke-width="0.7"/>
<line x1="275.2" y1="340.82" x2="276.7" y2="340.82" stroke="#17728a" stroke-width="0.7"/>
<line x1="275.2" y1="324.38" x2="276.7" y2="324.38" stroke="#17728a" stroke-width="0.7"/>
<line x1="275.2" y1="307.92" x2="276.7" y2="307.92" stroke="#17728a" stroke-width="0.7"/>
<line x1="275.2" y1="291.47" x2="276.7" y2="291.47" stroke="#17728a" stroke-width="0.7"/>
<line x1="275.2" y1="275.02" x2="276.7" y2="275.02" stroke="#17728a" stroke-width="0.7"/>
<line x1="109.1" y1="406.5" x2="109.1" y2="409.1" stroke="#3a3a3a" stroke-width="0.7"/>
<line x1="109.1" y1="257.7" x2="109.1" y2="260.3" stroke="#3a3a3a" stroke-width="0.7"/>
<line x1="146.1" y1="406.5" x2="146.1" y2="409.1" stroke="#3a3a3a" stroke-width="0.7"/>
<line x1="146.1" y1="257.7" x2="146.1" y2="260.3" stroke="#3a3a3a" stroke-width="0.7"/>
<line x1="183.2" y1="406.5" x2="183.2" y2="409.1" stroke="#3a3a3a" stroke-width="0.7"/>
<line x1="183.2" y1="257.7" x2="183.2" y2="260.3" stroke="#3a3a3a" stroke-width="0.7"/>
<line x1="220.2" y1="406.5" x2="220.2" y2="409.1" stroke="#3a3a3a" stroke-width="0.7"/>
<line x1="220.2" y1="257.7" x2="220.2" y2="260.3" stroke="#3a3a3a" stroke-width="0.7"/>
<line x1="257.1" y1="406.5" x2="257.1" y2="409.1" stroke="#3a3a3a" stroke-width="0.7"/>
<line x1="257.1" y1="257.7" x2="257.1" y2="260.3" stroke="#3a3a3a" stroke-width="0.7"/>
<line x1="127.6" y1="406.5" x2="127.6" y2="408" stroke="#3a3a3a" stroke-width="0.7"/>
<line x1="164.65" y1="406.5" x2="164.65" y2="408" stroke="#3a3a3a" stroke-width="0.7"/>
<line x1="201.7" y1="406.5" x2="201.7" y2="408" stroke="#3a3a3a" stroke-width="0.7"/>
<line x1="238.65" y1="406.5" x2="238.65" y2="408" stroke="#3a3a3a" stroke-width="0.7"/>
<text x="110.3" y="416.8" font-size="9" fill="#222" font-family='"Liberation Serif", "Times New Roman", serif' text-anchor="middle">F<tspan font-size="6.3" dy="2.3">RS</tspan></text>
<text x="147.3" y="416.8" font-size="9" fill="#222" font-family='"Liberation Serif", "Times New Roman", serif' text-anchor="middle">F<tspan font-size="6.3" dy="2.3">S1L1</tspan></text>
<text x="184.4" y="416.8" font-size="9" fill="#222" font-family='"Liberation Serif", "Times New Roman", serif' text-anchor="middle">F<tspan font-size="6.3" dy="2.3">S1L2</tspan></text>
<text x="221.4" y="416.8" font-size="9" fill="#222" font-family='"Liberation Serif", "Times New Roman", serif' text-anchor="middle">F<tspan font-size="6.3" dy="2.3">S1L4</tspan></text>
<text x="258.3" y="416.8" font-size="9" fill="#222" font-family='"Liberation Serif", "Times New Roman", serif' text-anchor="middle">F<tspan font-size="6.3" dy="2.3">RL</tspan></text>
<rect x="104.8" y="267.6" width="19" height="9" fill="#7b7b7b"/>
<text x="125.8" y="275.4" font-size="9.6" fill="#222" stroke="#222" stroke-width="0.15" font-family='"Liberation Serif", "Times New Roman", serif' textLength="65.5" lengthAdjust="spacingAndGlyphs">Elongation at break</text>
<line x1="104.8" y1="282.6" x2="123.8" y2="282.6" stroke="#17728a" stroke-width="0.9"/>
<rect x="112.59" y="280.89" width="3.42" height="3.42" fill="#17728a"/>
<text x="125.8" y="285.8" font-size="9.6" fill="#222" stroke="#222" stroke-width="0.15" font-family='"Liberation Serif", "Times New Roman", serif' textLength="53.5" lengthAdjust="spacingAndGlyphs">Tensile strength</text>
<text x="0" y="0" font-size="9.6" fill="#222" font-family='"Liberation Serif", "Times New Roman", serif' text-anchor="middle" textLength="92.3" lengthAdjust="spacingAndGlyphs" transform="translate(79,332.2) rotate(-90)">Elongation at break (%)</text>
<text x="0" y="0" font-size="9.6" fill="#222" font-family='"Liberation Serif", "Times New Roman", serif' text-anchor="middle" textLength="89.2" lengthAdjust="spacingAndGlyphs" transform="translate(294.3,330.7) rotate(-90)">Tensile strength (MPa)</text>
<text x="307.9" y="261.8" font-size="22" fill="#111" stroke="#111" stroke-width="0.15" font-family='"Liberation Serif", "Times New Roman", serif'>F</text>
<polyline points="335.4,405.9 349.06,370.04 362.72,368.43 390.05,366.81 417.37,368.7 444.69,370.58 472.02,370.31 499.34,370.31" fill="none" stroke="#4a8bcb" stroke-width="0.9" stroke-linejoin="round"/>
<line x1="349.06" y1="366.81" x2="349.06" y2="373.28" stroke="#4a8bcb" stroke-width="0.6"/><line x1="347.56" y1="366.81" x2="350.56" y2="366.81" stroke="#4a8bcb" stroke-width="0.6"/><line x1="347.56" y1="373.28" x2="350.56" y2="373.28" stroke="#4a8bcb" stroke-width="0.6"/>
<line x1="362.72" y1="366.81" x2="362.72" y2="370.04" stroke="#4a8bcb" stroke-width="0.6"/><line x1="361.22" y1="366.81" x2="364.22" y2="366.81" stroke="#4a8bcb" stroke-width="0.6"/><line x1="361.22" y1="370.04" x2="364.22" y2="370.04" stroke="#4a8bcb" stroke-width="0.6"/>
<line x1="390.05" y1="363.03" x2="390.05" y2="370.58" stroke="#4a8bcb" stroke-width="0.6"/><line x1="388.55" y1="363.03" x2="391.55" y2="363.03" stroke="#4a8bcb" stroke-width="0.6"/><line x1="388.55" y1="370.58" x2="391.55" y2="370.58" stroke="#4a8bcb" stroke-width="0.6"/>
<line x1="417.37" y1="365.46" x2="417.37" y2="371.93" stroke="#4a8bcb" stroke-width="0.6"/><line x1="415.87" y1="365.46" x2="418.87" y2="365.46" stroke="#4a8bcb" stroke-width="0.6"/><line x1="415.87" y1="371.93" x2="418.87" y2="371.93" stroke="#4a8bcb" stroke-width="0.6"/>
<line x1="444.69" y1="368.7" x2="444.69" y2="372.47" stroke="#4a8bcb" stroke-width="0.6"/><line x1="443.19" y1="368.7" x2="446.19" y2="368.7" stroke="#4a8bcb" stroke-width="0.6"/><line x1="443.19" y1="372.47" x2="446.19" y2="372.47" stroke="#4a8bcb" stroke-width="0.6"/>
<line x1="472.02" y1="368.16" x2="472.02" y2="372.47" stroke="#4a8bcb" stroke-width="0.6"/><line x1="470.52" y1="368.16" x2="473.52" y2="368.16" stroke="#4a8bcb" stroke-width="0.6"/><line x1="470.52" y1="372.47" x2="473.52" y2="372.47" stroke="#4a8bcb" stroke-width="0.6"/>
<line x1="499.34" y1="367.89" x2="499.34" y2="372.74" stroke="#4a8bcb" stroke-width="0.6"/><line x1="497.84" y1="367.89" x2="500.84" y2="367.89" stroke="#4a8bcb" stroke-width="0.6"/><line x1="497.84" y1="372.74" x2="500.84" y2="372.74" stroke="#4a8bcb" stroke-width="0.6"/>
<rect x="333.42" y="403.92" width="3.96" height="3.96" fill="#4a8bcb"/>
<rect x="347.08" y="368.06" width="3.96" height="3.96" fill="#4a8bcb"/>
<rect x="360.74" y="366.45" width="3.96" height="3.96" fill="#4a8bcb"/>
<rect x="388.07" y="364.83" width="3.96" height="3.96" fill="#4a8bcb"/>
<rect x="415.39" y="366.72" width="3.96" height="3.96" fill="#4a8bcb"/>
<rect x="442.71" y="368.6" width="3.96" height="3.96" fill="#4a8bcb"/>
<rect x="470.04" y="368.33" width="3.96" height="3.96" fill="#4a8bcb"/>
<rect x="497.36" y="368.33" width="3.96" height="3.96" fill="#4a8bcb"/>
<polyline points="335.4,405.9 349.06,330.41 362.72,329.06 390.05,335.8 417.37,336.07 444.69,340.66 472.02,341.2 499.34,338.23" fill="none" stroke="#8a8a8a" stroke-width="0.9" stroke-linejoin="round"/>
<line x1="349.06" y1="325.56" x2="349.06" y2="335.27" stroke="#8a8a8a" stroke-width="0.6"/><line x1="347.56" y1="325.56" x2="350.56" y2="325.56" stroke="#8a8a8a" stroke-width="0.6"/><line x1="347.56" y1="335.27" x2="350.56" y2="335.27" stroke="#8a8a8a" stroke-width="0.6"/>
<line x1="362.72" y1="323.13" x2="362.72" y2="335" stroke="#8a8a8a" stroke-width="0.6"/><line x1="361.22" y1="323.13" x2="364.22" y2="323.13" stroke="#8a8a8a" stroke-width="0.6"/><line x1="361.22" y1="335" x2="364.22" y2="335" stroke="#8a8a8a" stroke-width="0.6"/>
<line x1="390.05" y1="333.11" x2="390.05" y2="338.5" stroke="#8a8a8a" stroke-width="0.6"/><line x1="388.55" y1="333.11" x2="391.55" y2="333.11" stroke="#8a8a8a" stroke-width="0.6"/><line x1="388.55" y1="338.5" x2="391.55" y2="338.5" stroke="#8a8a8a" stroke-width="0.6"/>
<line x1="417.37" y1="332.3" x2="417.37" y2="339.85" stroke="#8a8a8a" stroke-width="0.6"/><line x1="415.87" y1="332.3" x2="418.87" y2="332.3" stroke="#8a8a8a" stroke-width="0.6"/><line x1="415.87" y1="339.85" x2="418.87" y2="339.85" stroke="#8a8a8a" stroke-width="0.6"/>
<line x1="444.69" y1="338.5" x2="444.69" y2="342.81" stroke="#8a8a8a" stroke-width="0.6"/><line x1="443.19" y1="338.5" x2="446.19" y2="338.5" stroke="#8a8a8a" stroke-width="0.6"/><line x1="443.19" y1="342.81" x2="446.19" y2="342.81" stroke="#8a8a8a" stroke-width="0.6"/>
<line x1="472.02" y1="337.96" x2="472.02" y2="344.43" stroke="#8a8a8a" stroke-width="0.6"/><line x1="470.52" y1="337.96" x2="473.52" y2="337.96" stroke="#8a8a8a" stroke-width="0.6"/><line x1="470.52" y1="344.43" x2="473.52" y2="344.43" stroke="#8a8a8a" stroke-width="0.6"/>
<line x1="499.34" y1="335.27" x2="499.34" y2="341.2" stroke="#8a8a8a" stroke-width="0.6"/><line x1="497.84" y1="335.27" x2="500.84" y2="335.27" stroke="#8a8a8a" stroke-width="0.6"/><line x1="497.84" y1="341.2" x2="500.84" y2="341.2" stroke="#8a8a8a" stroke-width="0.6"/>
<circle cx="335.4" cy="405.9" r="2.2" fill="#8a8a8a"/>
<circle cx="349.06" cy="330.41" r="2.2" fill="#8a8a8a"/>
<circle cx="362.72" cy="329.06" r="2.2" fill="#8a8a8a"/>
<circle cx="390.05" cy="335.8" r="2.2" fill="#8a8a8a"/>
<circle cx="417.37" cy="336.07" r="2.2" fill="#8a8a8a"/>
<circle cx="444.69" cy="340.66" r="2.2" fill="#8a8a8a"/>
<circle cx="472.02" cy="341.2" r="2.2" fill="#8a8a8a"/>
<circle cx="499.34" cy="338.23" r="2.2" fill="#8a8a8a"/>
<polyline points="335.4,405.9 349.06,307.5 362.72,313.43 390.05,317.47 417.37,321.52 444.69,322.86 472.02,321.25 499.34,319.09" fill="none" stroke="#0f6578" stroke-width="0.9" stroke-linejoin="round"/>
<line x1="349.06" y1="305.34" x2="349.06" y2="309.65" stroke="#0f6578" stroke-width="0.6"/><line x1="347.56" y1="305.34" x2="350.56" y2="305.34" stroke="#0f6578" stroke-width="0.6"/><line x1="347.56" y1="309.65" x2="350.56" y2="309.65" stroke="#0f6578" stroke-width="0.6"/>
<line x1="362.72" y1="311.81" x2="362.72" y2="315.05" stroke="#0f6578" stroke-width="0.6"/><line x1="361.22" y1="311.81" x2="364.22" y2="311.81" stroke="#0f6578" stroke-width="0.6"/><line x1="361.22" y1="315.05" x2="364.22" y2="315.05" stroke="#0f6578" stroke-width="0.6"/>
<line x1="390.05" y1="314.24" x2="390.05" y2="320.71" stroke="#0f6578" stroke-width="0.6"/><line x1="388.55" y1="314.24" x2="391.55" y2="314.24" stroke="#0f6578" stroke-width="0.6"/><line x1="388.55" y1="320.71" x2="391.55" y2="320.71" stroke="#0f6578" stroke-width="0.6"/>
<line x1="417.37" y1="318.28" x2="417.37" y2="324.75" stroke="#0f6578" stroke-width="0.6"/><line x1="415.87" y1="318.28" x2="418.87" y2="318.28" stroke="#0f6578" stroke-width="0.6"/><line x1="415.87" y1="324.75" x2="418.87" y2="324.75" stroke="#0f6578" stroke-width="0.6"/>
<line x1="444.69" y1="321.79" x2="444.69" y2="323.94" stroke="#0f6578" stroke-width="0.6"/><line x1="443.19" y1="321.79" x2="446.19" y2="321.79" stroke="#0f6578" stroke-width="0.6"/><line x1="443.19" y1="323.94" x2="446.19" y2="323.94" stroke="#0f6578" stroke-width="0.6"/>
<line x1="472.02" y1="317.47" x2="472.02" y2="325.02" stroke="#0f6578" stroke-width="0.6"/><line x1="470.52" y1="317.47" x2="473.52" y2="317.47" stroke="#0f6578" stroke-width="0.6"/><line x1="470.52" y1="325.02" x2="473.52" y2="325.02" stroke="#0f6578" stroke-width="0.6"/>
<line x1="499.34" y1="316.93" x2="499.34" y2="321.25" stroke="#0f6578" stroke-width="0.6"/><line x1="497.84" y1="316.93" x2="500.84" y2="316.93" stroke="#0f6578" stroke-width="0.6"/><line x1="497.84" y1="321.25" x2="500.84" y2="321.25" stroke="#0f6578" stroke-width="0.6"/>
<polygon points="335.4,403.37 332.98,407.77 337.82,407.77" fill="#0f6578"/>
<polygon points="349.06,304.97 346.64,309.37 351.48,309.37" fill="#0f6578"/>
<polygon points="362.72,310.9 360.3,315.3 365.14,315.3" fill="#0f6578"/>
<polygon points="390.05,314.94 387.63,319.34 392.47,319.34" fill="#0f6578"/>
<polygon points="417.37,318.99 414.95,323.39 419.79,323.39" fill="#0f6578"/>
<polygon points="444.69,320.33 442.27,324.73 447.11,324.73" fill="#0f6578"/>
<polygon points="472.02,318.72 469.6,323.12 474.44,323.12" fill="#0f6578"/>
<polygon points="499.34,316.56 496.92,320.96 501.76,320.96" fill="#0f6578"/>
<polyline points="335.4,405.9 349.06,290.51 362.72,292.67 390.05,299.68 417.37,303.45 444.69,308.04 472.02,308.04 499.34,308.04" fill="none" stroke="#f4a766" stroke-width="0.9" stroke-linejoin="round"/>
<line x1="349.06" y1="287.82" x2="349.06" y2="293.21" stroke="#f4a766" stroke-width="0.6"/><line x1="347.56" y1="287.82" x2="350.56" y2="287.82" stroke="#f4a766" stroke-width="0.6"/><line x1="347.56" y1="293.21" x2="350.56" y2="293.21" stroke="#f4a766" stroke-width="0.6"/>
<line x1="362.72" y1="291.05" x2="362.72" y2="294.29" stroke="#f4a766" stroke-width="0.6"/><line x1="361.22" y1="291.05" x2="364.22" y2="291.05" stroke="#f4a766" stroke-width="0.6"/><line x1="361.22" y1="294.29" x2="364.22" y2="294.29" stroke="#f4a766" stroke-width="0.6"/>
<line x1="390.05" y1="298.06" x2="390.05" y2="301.3" stroke="#f4a766" stroke-width="0.6"/><line x1="388.55" y1="298.06" x2="391.55" y2="298.06" stroke="#f4a766" stroke-width="0.6"/><line x1="388.55" y1="301.3" x2="391.55" y2="301.3" stroke="#f4a766" stroke-width="0.6"/>
<line x1="417.37" y1="301.84" x2="417.37" y2="305.07" stroke="#f4a766" stroke-width="0.6"/><line x1="415.87" y1="301.84" x2="418.87" y2="301.84" stroke="#f4a766" stroke-width="0.6"/><line x1="415.87" y1="305.07" x2="418.87" y2="305.07" stroke="#f4a766" stroke-width="0.6"/>
<line x1="444.69" y1="305.88" x2="444.69" y2="310.19" stroke="#f4a766" stroke-width="0.6"/><line x1="443.19" y1="305.88" x2="446.19" y2="305.88" stroke="#f4a766" stroke-width="0.6"/><line x1="443.19" y1="310.19" x2="446.19" y2="310.19" stroke="#f4a766" stroke-width="0.6"/>
<line x1="472.02" y1="306.15" x2="472.02" y2="309.92" stroke="#f4a766" stroke-width="0.6"/><line x1="470.52" y1="306.15" x2="473.52" y2="306.15" stroke="#f4a766" stroke-width="0.6"/><line x1="470.52" y1="309.92" x2="473.52" y2="309.92" stroke="#f4a766" stroke-width="0.6"/>
<line x1="499.34" y1="306.42" x2="499.34" y2="309.65" stroke="#f4a766" stroke-width="0.6"/><line x1="497.84" y1="306.42" x2="500.84" y2="306.42" stroke="#f4a766" stroke-width="0.6"/><line x1="497.84" y1="309.65" x2="500.84" y2="309.65" stroke="#f4a766" stroke-width="0.6"/>
<polygon points="335.4,408.43 332.98,404.03 337.82,404.03" fill="#f4a766"/>
<polygon points="349.06,293.04 346.64,288.64 351.48,288.64" fill="#f4a766"/>
<polygon points="362.72,295.2 360.3,290.8 365.14,290.8" fill="#f4a766"/>
<polygon points="390.05,302.21 387.63,297.81 392.47,297.81" fill="#f4a766"/>
<polygon points="417.37,305.98 414.95,301.58 419.79,301.58" fill="#f4a766"/>
<polygon points="444.69,310.57 442.27,306.17 447.11,306.17" fill="#f4a766"/>
<polygon points="472.02,310.57 469.6,306.17 474.44,306.17" fill="#f4a766"/>
<polygon points="499.34,310.57 496.92,306.17 501.76,306.17" fill="#f4a766"/>
<polyline points="335.4,405.9 349.06,271.1 362.72,283.5 390.05,290.51 417.37,288.36 444.69,297.25 472.02,298.87 499.34,298.6" fill="none" stroke="#d6940e" stroke-width="0.9" stroke-linejoin="round"/>
<line x1="349.06" y1="269.75" x2="349.06" y2="272.45" stroke="#d6940e" stroke-width="0.6"/><line x1="347.56" y1="269.75" x2="350.56" y2="269.75" stroke="#d6940e" stroke-width="0.6"/><line x1="347.56" y1="272.45" x2="350.56" y2="272.45" stroke="#d6940e" stroke-width="0.6"/>
<line x1="362.72" y1="281.62" x2="362.72" y2="285.39" stroke="#d6940e" stroke-width="0.6"/><line x1="361.22" y1="281.62" x2="364.22" y2="281.62" stroke="#d6940e" stroke-width="0.6"/><line x1="361.22" y1="285.39" x2="364.22" y2="285.39" stroke="#d6940e" stroke-width="0.6"/>
<line x1="390.05" y1="288.36" x2="390.05" y2="292.67" stroke="#d6940e" stroke-width="0.6"/><line x1="388.55" y1="288.36" x2="391.55" y2="288.36" stroke="#d6940e" stroke-width="0.6"/><line x1="388.55" y1="292.67" x2="391.55" y2="292.67" stroke="#d6940e" stroke-width="0.6"/>
<line x1="417.37" y1="284.85" x2="417.37" y2="291.86" stroke="#d6940e" stroke-width="0.6"/><line x1="415.87" y1="284.85" x2="418.87" y2="284.85" stroke="#d6940e" stroke-width="0.6"/><line x1="415.87" y1="291.86" x2="418.87" y2="291.86" stroke="#d6940e" stroke-width="0.6"/>
<line x1="444.69" y1="293.48" x2="444.69" y2="301.03" stroke="#d6940e" stroke-width="0.6"/><line x1="443.19" y1="293.48" x2="446.19" y2="293.48" stroke="#d6940e" stroke-width="0.6"/><line x1="443.19" y1="301.03" x2="446.19" y2="301.03" stroke="#d6940e" stroke-width="0.6"/>
<line x1="472.02" y1="294.56" x2="472.02" y2="303.18" stroke="#d6940e" stroke-width="0.6"/><line x1="470.52" y1="294.56" x2="473.52" y2="294.56" stroke="#d6940e" stroke-width="0.6"/><line x1="470.52" y1="303.18" x2="473.52" y2="303.18" stroke="#d6940e" stroke-width="0.6"/>
<line x1="499.34" y1="294.29" x2="499.34" y2="302.91" stroke="#d6940e" stroke-width="0.6"/><line x1="497.84" y1="294.29" x2="500.84" y2="294.29" stroke="#d6940e" stroke-width="0.6"/><line x1="497.84" y1="302.91" x2="500.84" y2="302.91" stroke="#d6940e" stroke-width="0.6"/>
<polygon points="335.4,403.04 337.82,405.9 335.4,408.76 332.98,405.9" fill="#d6940e"/>
<polygon points="349.06,268.24 351.48,271.1 349.06,273.96 346.64,271.1" fill="#d6940e"/>
<polygon points="362.72,280.64 365.14,283.5 362.72,286.36 360.3,283.5" fill="#d6940e"/>
<polygon points="390.05,287.65 392.47,290.51 390.05,293.37 387.63,290.51" fill="#d6940e"/>
<polygon points="417.37,285.5 419.79,288.36 417.37,291.22 414.95,288.36" fill="#d6940e"/>
<polygon points="444.69,294.39 447.11,297.25 444.69,300.11 442.27,297.25" fill="#d6940e"/>
<polygon points="472.02,296.01 474.44,298.87 472.02,301.73 469.6,298.87" fill="#d6940e"/>
<polygon points="499.34,295.74 501.76,298.6 499.34,301.46 496.92,298.6" fill="#d6940e"/>
<rect x="335.4" y="258.7" width="177.6" height="147.2" fill="none" stroke="#3a3a3a" stroke-width="0.75"/>
<line x1="335.4" y1="405.9" x2="332.4" y2="405.9" stroke="#3a3a3a" stroke-width="0.7"/>
<text x="331" y="408.89" font-size="8.8" fill="#222" stroke="#222" stroke-width="0.15" font-family='"Liberation Serif", "Times New Roman", serif' text-anchor="end">0</text>
<line x1="335.4" y1="378.94" x2="332.4" y2="378.94" stroke="#3a3a3a" stroke-width="0.7"/>
<text x="331" y="381.93" font-size="8.8" fill="#222" stroke="#222" stroke-width="0.15" font-family='"Liberation Serif", "Times New Roman", serif' text-anchor="end">10</text>
<line x1="335.4" y1="351.98" x2="332.4" y2="351.98" stroke="#3a3a3a" stroke-width="0.7"/>
<text x="331" y="354.97" font-size="8.8" fill="#222" stroke="#222" stroke-width="0.15" font-family='"Liberation Serif", "Times New Roman", serif' text-anchor="end">20</text>
<line x1="335.4" y1="325.02" x2="332.4" y2="325.02" stroke="#3a3a3a" stroke-width="0.7"/>
<text x="331" y="328.01" font-size="8.8" fill="#222" stroke="#222" stroke-width="0.15" font-family='"Liberation Serif", "Times New Roman", serif' text-anchor="end">30</text>
<line x1="335.4" y1="298.06" x2="332.4" y2="298.06" stroke="#3a3a3a" stroke-width="0.7"/>
<text x="331" y="301.05" font-size="8.8" fill="#222" stroke="#222" stroke-width="0.15" font-family='"Liberation Serif", "Times New Roman", serif' text-anchor="end">40</text>
<line x1="335.4" y1="271.1" x2="332.4" y2="271.1" stroke="#3a3a3a" stroke-width="0.7"/>
<text x="331" y="274.09" font-size="8.8" fill="#222" stroke="#222" stroke-width="0.15" font-family='"Liberation Serif", "Times New Roman", serif' text-anchor="end">50</text>
<line x1="335.4" y1="392.42" x2="333.6" y2="392.42" stroke="#3a3a3a" stroke-width="0.7"/>
<line x1="335.4" y1="365.46" x2="333.6" y2="365.46" stroke="#3a3a3a" stroke-width="0.7"/>
<line x1="335.4" y1="338.5" x2="333.6" y2="338.5" stroke="#3a3a3a" stroke-width="0.7"/>
<line x1="335.4" y1="311.54" x2="333.6" y2="311.54" stroke="#3a3a3a" stroke-width="0.7"/>
<line x1="335.4" y1="284.58" x2="333.6" y2="284.58" stroke="#3a3a3a" stroke-width="0.7"/>
<line x1="513" y1="405.9" x2="510" y2="405.9" stroke="#3a3a3a" stroke-width="0.7"/>
<line x1="513" y1="378.94" x2="510" y2="378.94" stroke="#3a3a3a" stroke-width="0.7"/>
<line x1="513" y1="351.98" x2="510" y2="351.98" stroke="#3a3a3a" stroke-width="0.7"/>
<line x1="513" y1="325.02" x2="510" y2="325.02" stroke="#3a3a3a" stroke-width="0.7"/>
<line x1="513" y1="298.06" x2="510" y2="298.06" stroke="#3a3a3a" stroke-width="0.7"/>
<line x1="513" y1="271.1" x2="510" y2="271.1" stroke="#3a3a3a" stroke-width="0.7"/>
<line x1="513" y1="392.42" x2="511.2" y2="392.42" stroke="#3a3a3a" stroke-width="0.7"/>
<line x1="513" y1="365.46" x2="511.2" y2="365.46" stroke="#3a3a3a" stroke-width="0.7"/>
<line x1="513" y1="338.5" x2="511.2" y2="338.5" stroke="#3a3a3a" stroke-width="0.7"/>
<line x1="513" y1="311.54" x2="511.2" y2="311.54" stroke="#3a3a3a" stroke-width="0.7"/>
<line x1="513" y1="284.58" x2="511.2" y2="284.58" stroke="#3a3a3a" stroke-width="0.7"/>
<line x1="335.4" y1="405.9" x2="335.4" y2="408.9" stroke="#3a3a3a" stroke-width="0.7"/>
<text x="335.4" y="418.1" font-size="8.8" fill="#222" stroke="#222" stroke-width="0.15" font-family='"Liberation Serif", "Times New Roman", serif' text-anchor="middle">0</text>
<line x1="362.72" y1="405.9" x2="362.72" y2="408.9" stroke="#3a3a3a" stroke-width="0.7"/>
<text x="362.72" y="418.1" font-size="8.8" fill="#222" stroke="#222" stroke-width="0.15" font-family='"Liberation Serif", "Times New Roman", serif' text-anchor="middle">2</text>
<line x1="390.05" y1="405.9" x2="390.05" y2="408.9" stroke="#3a3a3a" stroke-width="0.7"/>
<text x="390.05" y="418.1" font-size="8.8" fill="#222" stroke="#222" stroke-width="0.15" font-family='"Liberation Serif", "Times New Roman", serif' text-anchor="middle">4</text>
<line x1="417.37" y1="405.9" x2="417.37" y2="408.9" stroke="#3a3a3a" stroke-width="0.7"/>
<text x="417.37" y="418.1" font-size="8.8" fill="#222" stroke="#222" stroke-width="0.15" font-family='"Liberation Serif", "Times New Roman", serif' text-anchor="middle">6</text>
<line x1="444.69" y1="405.9" x2="444.69" y2="408.9" stroke="#3a3a3a" stroke-width="0.7"/>
<text x="444.69" y="418.1" font-size="8.8" fill="#222" stroke="#222" stroke-width="0.15" font-family='"Liberation Serif", "Times New Roman", serif' text-anchor="middle">8</text>
<line x1="472.02" y1="405.9" x2="472.02" y2="408.9" stroke="#3a3a3a" stroke-width="0.7"/>
<text x="472.02" y="418.1" font-size="8.8" fill="#222" stroke="#222" stroke-width="0.15" font-family='"Liberation Serif", "Times New Roman", serif' text-anchor="middle">10</text>
<line x1="499.34" y1="405.9" x2="499.34" y2="408.9" stroke="#3a3a3a" stroke-width="0.7"/>
<text x="499.34" y="418.1" font-size="8.8" fill="#222" stroke="#222" stroke-width="0.15" font-family='"Liberation Serif", "Times New Roman", serif' text-anchor="middle">12</text>
<line x1="349.06" y1="405.9" x2="349.06" y2="407.7" stroke="#3a3a3a" stroke-width="0.7"/>
<line x1="376.38" y1="405.9" x2="376.38" y2="407.7" stroke="#3a3a3a" stroke-width="0.7"/>
<line x1="403.71" y1="405.9" x2="403.71" y2="407.7" stroke="#3a3a3a" stroke-width="0.7"/>
<line x1="431.03" y1="405.9" x2="431.03" y2="407.7" stroke="#3a3a3a" stroke-width="0.7"/>
<line x1="458.35" y1="405.9" x2="458.35" y2="407.7" stroke="#3a3a3a" stroke-width="0.7"/>
<line x1="485.68" y1="405.9" x2="485.68" y2="407.7" stroke="#3a3a3a" stroke-width="0.7"/>
<line x1="513" y1="405.9" x2="513" y2="407.7" stroke="#3a3a3a" stroke-width="0.7"/>
<line x1="335.4" y1="258.7" x2="335.4" y2="261.7" stroke="#3a3a3a" stroke-width="0.7"/>
<line x1="362.72" y1="258.7" x2="362.72" y2="261.7" stroke="#3a3a3a" stroke-width="0.7"/>
<line x1="390.05" y1="258.7" x2="390.05" y2="261.7" stroke="#3a3a3a" stroke-width="0.7"/>
<line x1="417.37" y1="258.7" x2="417.37" y2="261.7" stroke="#3a3a3a" stroke-width="0.7"/>
<line x1="444.69" y1="258.7" x2="444.69" y2="261.7" stroke="#3a3a3a" stroke-width="0.7"/>
<line x1="472.02" y1="258.7" x2="472.02" y2="261.7" stroke="#3a3a3a" stroke-width="0.7"/>
<line x1="499.34" y1="258.7" x2="499.34" y2="261.7" stroke="#3a3a3a" stroke-width="0.7"/>
<line x1="349.06" y1="258.7" x2="349.06" y2="260.5" stroke="#3a3a3a" stroke-width="0.7"/>
<line x1="376.38" y1="258.7" x2="376.38" y2="260.5" stroke="#3a3a3a" stroke-width="0.7"/>
<line x1="403.71" y1="258.7" x2="403.71" y2="260.5" stroke="#3a3a3a" stroke-width="0.7"/>
<line x1="431.03" y1="258.7" x2="431.03" y2="260.5" stroke="#3a3a3a" stroke-width="0.7"/>
<line x1="458.35" y1="258.7" x2="458.35" y2="260.5" stroke="#3a3a3a" stroke-width="0.7"/>
<line x1="485.68" y1="258.7" x2="485.68" y2="260.5" stroke="#3a3a3a" stroke-width="0.7"/>
<line x1="513" y1="258.7" x2="513" y2="260.5" stroke="#3a3a3a" stroke-width="0.7"/>
<text x="424.2" y="426.5" font-size="9.6" fill="#222" font-family='"Liberation Serif", "Times New Roman", serif' text-anchor="middle" textLength="31.7" lengthAdjust="spacingAndGlyphs">Time (h)</text>
<text x="0" y="0" font-size="9.6" fill="#222" font-family='"Liberation Serif", "Times New Roman", serif' text-anchor="middle" textLength="67.5" lengthAdjust="spacingAndGlyphs" transform="translate(320,332) rotate(-90)">Swelling rate (%)</text>
<line x1="349" y1="384.5" x2="364" y2="384.5" stroke="#4a8bcb" stroke-width="0.9"/><rect x="355.15" y="383.15" width="2.7" height="2.7" fill="#4a8bcb"/><text x="369" y="387.4" font-size="8.8" fill="#222" font-family='"Liberation Serif", "Times New Roman", serif'>F<tspan font-size="5.81" dy="2.2">RS</tspan></text>
<line x1="389.8" y1="384.5" x2="406.4" y2="384.5" stroke="#8a8a8a" stroke-width="0.9"/><circle cx="398.1" cy="384.5" r="1.5" fill="#8a8a8a"/><text x="409.4" y="387.4" font-size="8.8" fill="#222" font-family='"Liberation Serif", "Times New Roman", serif'>F<tspan font-size="5.81" dy="2.2">S1L1</tspan></text>
<line x1="426" y1="384.5" x2="442.7" y2="384.5" stroke="#0f6578" stroke-width="0.9"/><polygon points="434.35,382.77 432.7,385.77 436,385.77" fill="#0f6578"/><text x="445.7" y="387.4" font-size="8.8" fill="#222" font-family='"Liberation Serif", "Times New Roman", serif'>F<tspan font-size="5.81" dy="2.2">S1L2</tspan></text>
<line x1="469.9" y1="384.5" x2="485" y2="384.5" stroke="#f4a766" stroke-width="0.9"/><polygon points="477.45,386.23 475.8,383.23 479.1,383.23" fill="#f4a766"/><text x="488" y="387.4" font-size="8.8" fill="#222" font-family='"Liberation Serif", "Times New Roman", serif'>F<tspan font-size="5.81" dy="2.2">S1L4</tspan></text>
<line x1="349" y1="396.6" x2="364" y2="396.6" stroke="#d6940e" stroke-width="0.9"/><polygon points="356.5,394.65 358.15,396.6 356.5,398.55 354.85,396.6" fill="#d6940e"/><text x="369" y="399.5" font-size="8.8" fill="#222" font-family='"Liberation Serif", "Times New Roman", serif'>F<tspan font-size="5.81" dy="2.2">RL</tspan></text>
<text x="531" y="262.7" font-size="22" fill="#111" stroke="#111" stroke-width="0.15" font-family='"Liberation Serif", "Times New Roman", serif'>G</text>
<polyline points="564.73,387.75 568.77,386.41 576.84,383.07 584.9,377.71 592.97,372.35 601.04,367 609.11,362.31 625.25,352.94 641.38,342.89 657.52,332.18 673.65,322.14 689.79,311.42 722.06,298.7" fill="none" stroke="#8c8c8c" stroke-width="0.9" stroke-linejoin="round"/>
<line x1="564.73" y1="386.68" x2="564.73" y2="388.82" stroke="#8c8c8c" stroke-width="0.6"/><line x1="563.23" y1="386.68" x2="566.23" y2="386.68" stroke="#8c8c8c" stroke-width="0.6"/><line x1="563.23" y1="388.82" x2="566.23" y2="388.82" stroke="#8c8c8c" stroke-width="0.6"/>
<line x1="568.77" y1="385.34" x2="568.77" y2="387.48" stroke="#8c8c8c" stroke-width="0.6"/><line x1="567.27" y1="385.34" x2="570.27" y2="385.34" stroke="#8c8c8c" stroke-width="0.6"/><line x1="567.27" y1="387.48" x2="570.27" y2="387.48" stroke="#8c8c8c" stroke-width="0.6"/>
<line x1="576.84" y1="381.99" x2="576.84" y2="384.14" stroke="#8c8c8c" stroke-width="0.6"/><line x1="575.34" y1="381.99" x2="578.34" y2="381.99" stroke="#8c8c8c" stroke-width="0.6"/><line x1="575.34" y1="384.14" x2="578.34" y2="384.14" stroke="#8c8c8c" stroke-width="0.6"/>
<line x1="584.9" y1="376.64" x2="584.9" y2="378.78" stroke="#8c8c8c" stroke-width="0.6"/><line x1="583.4" y1="376.64" x2="586.4" y2="376.64" stroke="#8c8c8c" stroke-width="0.6"/><line x1="583.4" y1="378.78" x2="586.4" y2="378.78" stroke="#8c8c8c" stroke-width="0.6"/>
<line x1="592.97" y1="371.28" x2="592.97" y2="373.42" stroke="#8c8c8c" stroke-width="0.6"/><line x1="591.47" y1="371.28" x2="594.47" y2="371.28" stroke="#8c8c8c" stroke-width="0.6"/><line x1="591.47" y1="373.42" x2="594.47" y2="373.42" stroke="#8c8c8c" stroke-width="0.6"/>
<line x1="601.04" y1="365.93" x2="601.04" y2="368.07" stroke="#8c8c8c" stroke-width="0.6"/><line x1="599.54" y1="365.93" x2="602.54" y2="365.93" stroke="#8c8c8c" stroke-width="0.6"/><line x1="599.54" y1="368.07" x2="602.54" y2="368.07" stroke="#8c8c8c" stroke-width="0.6"/>
<line x1="609.11" y1="361.24" x2="609.11" y2="363.38" stroke="#8c8c8c" stroke-width="0.6"/><line x1="607.61" y1="361.24" x2="610.61" y2="361.24" stroke="#8c8c8c" stroke-width="0.6"/><line x1="607.61" y1="363.38" x2="610.61" y2="363.38" stroke="#8c8c8c" stroke-width="0.6"/>
<line x1="625.25" y1="351.86" x2="625.25" y2="354.01" stroke="#8c8c8c" stroke-width="0.6"/><line x1="623.75" y1="351.86" x2="626.75" y2="351.86" stroke="#8c8c8c" stroke-width="0.6"/><line x1="623.75" y1="354.01" x2="626.75" y2="354.01" stroke="#8c8c8c" stroke-width="0.6"/>
<line x1="641.38" y1="341.82" x2="641.38" y2="343.96" stroke="#8c8c8c" stroke-width="0.6"/><line x1="639.88" y1="341.82" x2="642.88" y2="341.82" stroke="#8c8c8c" stroke-width="0.6"/><line x1="639.88" y1="343.96" x2="642.88" y2="343.96" stroke="#8c8c8c" stroke-width="0.6"/>
<line x1="657.52" y1="331.11" x2="657.52" y2="333.25" stroke="#8c8c8c" stroke-width="0.6"/><line x1="656.02" y1="331.11" x2="659.02" y2="331.11" stroke="#8c8c8c" stroke-width="0.6"/><line x1="656.02" y1="333.25" x2="659.02" y2="333.25" stroke="#8c8c8c" stroke-width="0.6"/>
<line x1="673.65" y1="321.06" x2="673.65" y2="323.21" stroke="#8c8c8c" stroke-width="0.6"/><line x1="672.15" y1="321.06" x2="675.15" y2="321.06" stroke="#8c8c8c" stroke-width="0.6"/><line x1="672.15" y1="323.21" x2="675.15" y2="323.21" stroke="#8c8c8c" stroke-width="0.6"/>
<line x1="689.79" y1="310.35" x2="689.79" y2="312.49" stroke="#8c8c8c" stroke-width="0.6"/><line x1="688.29" y1="310.35" x2="691.29" y2="310.35" stroke="#8c8c8c" stroke-width="0.6"/><line x1="688.29" y1="312.49" x2="691.29" y2="312.49" stroke="#8c8c8c" stroke-width="0.6"/>
<line x1="722.06" y1="297.63" x2="722.06" y2="299.77" stroke="#8c8c8c" stroke-width="0.6"/><line x1="720.56" y1="297.63" x2="723.56" y2="297.63" stroke="#8c8c8c" stroke-width="0.6"/><line x1="720.56" y1="299.77" x2="723.56" y2="299.77" stroke="#8c8c8c" stroke-width="0.6"/>
<rect x="562.75" y="385.77" width="3.96" height="3.96" fill="#8c8c8c"/>
<rect x="566.79" y="384.43" width="3.96" height="3.96" fill="#8c8c8c"/>
<rect x="574.86" y="381.09" width="3.96" height="3.96" fill="#8c8c8c"/>
<rect x="582.92" y="375.73" width="3.96" height="3.96" fill="#8c8c8c"/>
<rect x="590.99" y="370.37" width="3.96" height="3.96" fill="#8c8c8c"/>
<rect x="599.06" y="365.02" width="3.96" height="3.96" fill="#8c8c8c"/>
<rect x="607.13" y="360.33" width="3.96" height="3.96" fill="#8c8c8c"/>
<rect x="623.27" y="350.96" width="3.96" height="3.96" fill="#8c8c8c"/>
<rect x="639.4" y="340.91" width="3.96" height="3.96" fill="#8c8c8c"/>
<rect x="655.54" y="330.2" width="3.96" height="3.96" fill="#8c8c8c"/>
<rect x="671.67" y="320.16" width="3.96" height="3.96" fill="#8c8c8c"/>
<rect x="687.81" y="309.44" width="3.96" height="3.96" fill="#8c8c8c"/>
<rect x="720.08" y="296.72" width="3.96" height="3.96" fill="#8c8c8c"/>
<polyline points="564.73,389.09 568.77,387.08 576.84,381.06 584.9,373.69 592.97,366.33 601.04,359.63 609.11,351.6 625.25,336.2 641.38,323.48 657.52,311.42 673.65,300.04 689.79,292.68 722.06,285.31" fill="none" stroke="#0f6a7e" stroke-width="0.9" stroke-linejoin="round"/>
<line x1="564.73" y1="388.02" x2="564.73" y2="390.16" stroke="#0f6a7e" stroke-width="0.6"/><line x1="563.23" y1="388.02" x2="566.23" y2="388.02" stroke="#0f6a7e" stroke-width="0.6"/><line x1="563.23" y1="390.16" x2="566.23" y2="390.16" stroke="#0f6a7e" stroke-width="0.6"/>
<line x1="568.77" y1="386.01" x2="568.77" y2="388.15" stroke="#0f6a7e" stroke-width="0.6"/><line x1="567.27" y1="386.01" x2="570.27" y2="386.01" stroke="#0f6a7e" stroke-width="0.6"/><line x1="567.27" y1="388.15" x2="570.27" y2="388.15" stroke="#0f6a7e" stroke-width="0.6"/>
<line x1="576.84" y1="379.99" x2="576.84" y2="382.13" stroke="#0f6a7e" stroke-width="0.6"/><line x1="575.34" y1="379.99" x2="578.34" y2="379.99" stroke="#0f6a7e" stroke-width="0.6"/><line x1="575.34" y1="382.13" x2="578.34" y2="382.13" stroke="#0f6a7e" stroke-width="0.6"/>
<line x1="584.9" y1="372.62" x2="584.9" y2="374.76" stroke="#0f6a7e" stroke-width="0.6"/><line x1="583.4" y1="372.62" x2="586.4" y2="372.62" stroke="#0f6a7e" stroke-width="0.6"/><line x1="583.4" y1="374.76" x2="586.4" y2="374.76" stroke="#0f6a7e" stroke-width="0.6"/>
<line x1="592.97" y1="365.26" x2="592.97" y2="367.4" stroke="#0f6a7e" stroke-width="0.6"/><line x1="591.47" y1="365.26" x2="594.47" y2="365.26" stroke="#0f6a7e" stroke-width="0.6"/><line x1="591.47" y1="367.4" x2="594.47" y2="367.4" stroke="#0f6a7e" stroke-width="0.6"/>
<line x1="601.04" y1="358.56" x2="601.04" y2="360.7" stroke="#0f6a7e" stroke-width="0.6"/><line x1="599.54" y1="358.56" x2="602.54" y2="358.56" stroke="#0f6a7e" stroke-width="0.6"/><line x1="599.54" y1="360.7" x2="602.54" y2="360.7" stroke="#0f6a7e" stroke-width="0.6"/>
<line x1="609.11" y1="350.53" x2="609.11" y2="352.67" stroke="#0f6a7e" stroke-width="0.6"/><line x1="607.61" y1="350.53" x2="610.61" y2="350.53" stroke="#0f6a7e" stroke-width="0.6"/><line x1="607.61" y1="352.67" x2="610.61" y2="352.67" stroke="#0f6a7e" stroke-width="0.6"/>
<line x1="625.25" y1="335.13" x2="625.25" y2="337.27" stroke="#0f6a7e" stroke-width="0.6"/><line x1="623.75" y1="335.13" x2="626.75" y2="335.13" stroke="#0f6a7e" stroke-width="0.6"/><line x1="623.75" y1="337.27" x2="626.75" y2="337.27" stroke="#0f6a7e" stroke-width="0.6"/>
<line x1="641.38" y1="322.4" x2="641.38" y2="324.55" stroke="#0f6a7e" stroke-width="0.6"/><line x1="639.88" y1="322.4" x2="642.88" y2="322.4" stroke="#0f6a7e" stroke-width="0.6"/><line x1="639.88" y1="324.55" x2="642.88" y2="324.55" stroke="#0f6a7e" stroke-width="0.6"/>
<line x1="657.52" y1="310.35" x2="657.52" y2="312.49" stroke="#0f6a7e" stroke-width="0.6"/><line x1="656.02" y1="310.35" x2="659.02" y2="310.35" stroke="#0f6a7e" stroke-width="0.6"/><line x1="656.02" y1="312.49" x2="659.02" y2="312.49" stroke="#0f6a7e" stroke-width="0.6"/>
<line x1="673.65" y1="298.97" x2="673.65" y2="301.11" stroke="#0f6a7e" stroke-width="0.6"/><line x1="672.15" y1="298.97" x2="675.15" y2="298.97" stroke="#0f6a7e" stroke-width="0.6"/><line x1="672.15" y1="301.11" x2="675.15" y2="301.11" stroke="#0f6a7e" stroke-width="0.6"/>
<line x1="689.79" y1="291.6" x2="689.79" y2="293.75" stroke="#0f6a7e" stroke-width="0.6"/><line x1="688.29" y1="291.6" x2="691.29" y2="291.6" stroke="#0f6a7e" stroke-width="0.6"/><line x1="688.29" y1="293.75" x2="691.29" y2="293.75" stroke="#0f6a7e" stroke-width="0.6"/>
<line x1="722.06" y1="284.24" x2="722.06" y2="286.38" stroke="#0f6a7e" stroke-width="0.6"/><line x1="720.56" y1="284.24" x2="723.56" y2="284.24" stroke="#0f6a7e" stroke-width="0.6"/><line x1="720.56" y1="286.38" x2="723.56" y2="286.38" stroke="#0f6a7e" stroke-width="0.6"/>
<circle cx="564.73" cy="389.09" r="2.2" fill="#0f6a7e"/>
<circle cx="568.77" cy="387.08" r="2.2" fill="#0f6a7e"/>
<circle cx="576.84" cy="381.06" r="2.2" fill="#0f6a7e"/>
<circle cx="584.9" cy="373.69" r="2.2" fill="#0f6a7e"/>
<circle cx="592.97" cy="366.33" r="2.2" fill="#0f6a7e"/>
<circle cx="601.04" cy="359.63" r="2.2" fill="#0f6a7e"/>
<circle cx="609.11" cy="351.6" r="2.2" fill="#0f6a7e"/>
<circle cx="625.25" cy="336.2" r="2.2" fill="#0f6a7e"/>
<circle cx="641.38" cy="323.48" r="2.2" fill="#0f6a7e"/>
<circle cx="657.52" cy="311.42" r="2.2" fill="#0f6a7e"/>
<circle cx="673.65" cy="300.04" r="2.2" fill="#0f6a7e"/>
<circle cx="689.79" cy="292.68" r="2.2" fill="#0f6a7e"/>
<circle cx="722.06" cy="285.31" r="2.2" fill="#0f6a7e"/>
<polyline points="564.73,386.41 568.77,383.74 576.84,373.69 584.9,362.98 592.97,351.6 601.04,340.88 609.11,330.17 625.25,311.42 641.38,298.03 657.52,290.67 673.65,285.98 689.79,283.3 722.06,278.62" fill="none" stroke="#9a8712" stroke-width="0.9" stroke-linejoin="round"/>
<line x1="564.73" y1="383.07" x2="564.73" y2="389.76" stroke="#9a8712" stroke-width="0.6"/><line x1="563.23" y1="383.07" x2="566.23" y2="383.07" stroke="#9a8712" stroke-width="0.6"/><line x1="563.23" y1="389.76" x2="566.23" y2="389.76" stroke="#9a8712" stroke-width="0.6"/>
<line x1="568.77" y1="380.39" x2="568.77" y2="387.08" stroke="#9a8712" stroke-width="0.6"/><line x1="567.27" y1="380.39" x2="570.27" y2="380.39" stroke="#9a8712" stroke-width="0.6"/><line x1="567.27" y1="387.08" x2="570.27" y2="387.08" stroke="#9a8712" stroke-width="0.6"/>
<line x1="576.84" y1="370.34" x2="576.84" y2="377.04" stroke="#9a8712" stroke-width="0.6"/><line x1="575.34" y1="370.34" x2="578.34" y2="370.34" stroke="#9a8712" stroke-width="0.6"/><line x1="575.34" y1="377.04" x2="578.34" y2="377.04" stroke="#9a8712" stroke-width="0.6"/>
<line x1="584.9" y1="359.63" x2="584.9" y2="366.33" stroke="#9a8712" stroke-width="0.6"/><line x1="583.4" y1="359.63" x2="586.4" y2="359.63" stroke="#9a8712" stroke-width="0.6"/><line x1="583.4" y1="366.33" x2="586.4" y2="366.33" stroke="#9a8712" stroke-width="0.6"/>
<line x1="592.97" y1="348.25" x2="592.97" y2="354.94" stroke="#9a8712" stroke-width="0.6"/><line x1="591.47" y1="348.25" x2="594.47" y2="348.25" stroke="#9a8712" stroke-width="0.6"/><line x1="591.47" y1="354.94" x2="594.47" y2="354.94" stroke="#9a8712" stroke-width="0.6"/>
<line x1="601.04" y1="337.54" x2="601.04" y2="344.23" stroke="#9a8712" stroke-width="0.6"/><line x1="599.54" y1="337.54" x2="602.54" y2="337.54" stroke="#9a8712" stroke-width="0.6"/><line x1="599.54" y1="344.23" x2="602.54" y2="344.23" stroke="#9a8712" stroke-width="0.6"/>
<line x1="609.11" y1="326.82" x2="609.11" y2="333.52" stroke="#9a8712" stroke-width="0.6"/><line x1="607.61" y1="326.82" x2="610.61" y2="326.82" stroke="#9a8712" stroke-width="0.6"/><line x1="607.61" y1="333.52" x2="610.61" y2="333.52" stroke="#9a8712" stroke-width="0.6"/>
<line x1="625.25" y1="308.08" x2="625.25" y2="314.77" stroke="#9a8712" stroke-width="0.6"/><line x1="623.75" y1="308.08" x2="626.75" y2="308.08" stroke="#9a8712" stroke-width="0.6"/><line x1="623.75" y1="314.77" x2="626.75" y2="314.77" stroke="#9a8712" stroke-width="0.6"/>
<line x1="641.38" y1="294.68" x2="641.38" y2="301.38" stroke="#9a8712" stroke-width="0.6"/><line x1="639.88" y1="294.68" x2="642.88" y2="294.68" stroke="#9a8712" stroke-width="0.6"/><line x1="639.88" y1="301.38" x2="642.88" y2="301.38" stroke="#9a8712" stroke-width="0.6"/>
<line x1="657.52" y1="287.32" x2="657.52" y2="294.02" stroke="#9a8712" stroke-width="0.6"/><line x1="656.02" y1="287.32" x2="659.02" y2="287.32" stroke="#9a8712" stroke-width="0.6"/><line x1="656.02" y1="294.02" x2="659.02" y2="294.02" stroke="#9a8712" stroke-width="0.6"/>
<line x1="673.65" y1="282.63" x2="673.65" y2="289.33" stroke="#9a8712" stroke-width="0.6"/><line x1="672.15" y1="282.63" x2="675.15" y2="282.63" stroke="#9a8712" stroke-width="0.6"/><line x1="672.15" y1="289.33" x2="675.15" y2="289.33" stroke="#9a8712" stroke-width="0.6"/>
<line x1="689.79" y1="279.95" x2="689.79" y2="286.65" stroke="#9a8712" stroke-width="0.6"/><line x1="688.29" y1="279.95" x2="691.29" y2="279.95" stroke="#9a8712" stroke-width="0.6"/><line x1="688.29" y1="286.65" x2="691.29" y2="286.65" stroke="#9a8712" stroke-width="0.6"/>
<line x1="722.06" y1="275.27" x2="722.06" y2="281.96" stroke="#9a8712" stroke-width="0.6"/><line x1="720.56" y1="275.27" x2="723.56" y2="275.27" stroke="#9a8712" stroke-width="0.6"/><line x1="720.56" y1="281.96" x2="723.56" y2="281.96" stroke="#9a8712" stroke-width="0.6"/>
<polygon points="564.73,383.88 562.31,388.28 567.15,388.28" fill="#9a8712"/>
<polygon points="568.77,381.21 566.35,385.61 571.19,385.61" fill="#9a8712"/>
<polygon points="576.84,371.16 574.42,375.56 579.26,375.56" fill="#9a8712"/>
<polygon points="584.9,360.45 582.48,364.85 587.32,364.85" fill="#9a8712"/>
<polygon points="592.97,349.07 590.55,353.47 595.39,353.47" fill="#9a8712"/>
<polygon points="601.04,338.35 598.62,342.75 603.46,342.75" fill="#9a8712"/>
<polygon points="609.11,327.64 606.69,332.04 611.53,332.04" fill="#9a8712"/>
<polygon points="625.25,308.89 622.83,313.29 627.67,313.29" fill="#9a8712"/>
<polygon points="641.38,295.5 638.96,299.9 643.8,299.9" fill="#9a8712"/>
<polygon points="657.52,288.14 655.1,292.54 659.94,292.54" fill="#9a8712"/>
<polygon points="673.65,283.45 671.23,287.85 676.07,287.85" fill="#9a8712"/>
<polygon points="689.79,280.77 687.37,285.17 692.21,285.17" fill="#9a8712"/>
<polygon points="722.06,276.09 719.64,280.49 724.48,280.49" fill="#9a8712"/>
<polyline points="564.73,385.74 568.77,379.72 576.84,369.67 584.9,356.95 592.97,343.56 601.04,328.83 609.11,316.11 625.25,302.05 641.38,288.66 657.52,283.97 673.65,279.95 689.79,278.62 722.06,277.95" fill="none" stroke="#1f9c7c" stroke-width="0.9" stroke-linejoin="round"/>
<line x1="564.73" y1="384.14" x2="564.73" y2="387.35" stroke="#1f9c7c" stroke-width="0.6"/><line x1="563.23" y1="384.14" x2="566.23" y2="384.14" stroke="#1f9c7c" stroke-width="0.6"/><line x1="563.23" y1="387.35" x2="566.23" y2="387.35" stroke="#1f9c7c" stroke-width="0.6"/>
<line x1="568.77" y1="378.11" x2="568.77" y2="381.32" stroke="#1f9c7c" stroke-width="0.6"/><line x1="567.27" y1="378.11" x2="570.27" y2="378.11" stroke="#1f9c7c" stroke-width="0.6"/><line x1="567.27" y1="381.32" x2="570.27" y2="381.32" stroke="#1f9c7c" stroke-width="0.6"/>
<line x1="576.84" y1="368.07" x2="576.84" y2="371.28" stroke="#1f9c7c" stroke-width="0.6"/><line x1="575.34" y1="368.07" x2="578.34" y2="368.07" stroke="#1f9c7c" stroke-width="0.6"/><line x1="575.34" y1="371.28" x2="578.34" y2="371.28" stroke="#1f9c7c" stroke-width="0.6"/>
<line x1="584.9" y1="355.35" x2="584.9" y2="358.56" stroke="#1f9c7c" stroke-width="0.6"/><line x1="583.4" y1="355.35" x2="586.4" y2="355.35" stroke="#1f9c7c" stroke-width="0.6"/><line x1="583.4" y1="358.56" x2="586.4" y2="358.56" stroke="#1f9c7c" stroke-width="0.6"/>
<line x1="592.97" y1="341.96" x2="592.97" y2="345.17" stroke="#1f9c7c" stroke-width="0.6"/><line x1="591.47" y1="341.96" x2="594.47" y2="341.96" stroke="#1f9c7c" stroke-width="0.6"/><line x1="591.47" y1="345.17" x2="594.47" y2="345.17" stroke="#1f9c7c" stroke-width="0.6"/>
<line x1="601.04" y1="327.22" x2="601.04" y2="330.44" stroke="#1f9c7c" stroke-width="0.6"/><line x1="599.54" y1="327.22" x2="602.54" y2="327.22" stroke="#1f9c7c" stroke-width="0.6"/><line x1="599.54" y1="330.44" x2="602.54" y2="330.44" stroke="#1f9c7c" stroke-width="0.6"/>
<line x1="609.11" y1="314.5" x2="609.11" y2="317.72" stroke="#1f9c7c" stroke-width="0.6"/><line x1="607.61" y1="314.5" x2="610.61" y2="314.5" stroke="#1f9c7c" stroke-width="0.6"/><line x1="607.61" y1="317.72" x2="610.61" y2="317.72" stroke="#1f9c7c" stroke-width="0.6"/>
<line x1="625.25" y1="300.44" x2="625.25" y2="303.66" stroke="#1f9c7c" stroke-width="0.6"/><line x1="623.75" y1="300.44" x2="626.75" y2="300.44" stroke="#1f9c7c" stroke-width="0.6"/><line x1="623.75" y1="303.66" x2="626.75" y2="303.66" stroke="#1f9c7c" stroke-width="0.6"/>
<line x1="641.38" y1="287.05" x2="641.38" y2="290.27" stroke="#1f9c7c" stroke-width="0.6"/><line x1="639.88" y1="287.05" x2="642.88" y2="287.05" stroke="#1f9c7c" stroke-width="0.6"/><line x1="639.88" y1="290.27" x2="642.88" y2="290.27" stroke="#1f9c7c" stroke-width="0.6"/>
<line x1="657.52" y1="282.36" x2="657.52" y2="285.58" stroke="#1f9c7c" stroke-width="0.6"/><line x1="656.02" y1="282.36" x2="659.02" y2="282.36" stroke="#1f9c7c" stroke-width="0.6"/><line x1="656.02" y1="285.58" x2="659.02" y2="285.58" stroke="#1f9c7c" stroke-width="0.6"/>
<line x1="673.65" y1="278.35" x2="673.65" y2="281.56" stroke="#1f9c7c" stroke-width="0.6"/><line x1="672.15" y1="278.35" x2="675.15" y2="278.35" stroke="#1f9c7c" stroke-width="0.6"/><line x1="672.15" y1="281.56" x2="675.15" y2="281.56" stroke="#1f9c7c" stroke-width="0.6"/>
<line x1="689.79" y1="277.01" x2="689.79" y2="280.22" stroke="#1f9c7c" stroke-width="0.6"/><line x1="688.29" y1="277.01" x2="691.29" y2="277.01" stroke="#1f9c7c" stroke-width="0.6"/><line x1="688.29" y1="280.22" x2="691.29" y2="280.22" stroke="#1f9c7c" stroke-width="0.6"/>
<line x1="722.06" y1="276.34" x2="722.06" y2="279.55" stroke="#1f9c7c" stroke-width="0.6"/><line x1="720.56" y1="276.34" x2="723.56" y2="276.34" stroke="#1f9c7c" stroke-width="0.6"/><line x1="720.56" y1="279.55" x2="723.56" y2="279.55" stroke="#1f9c7c" stroke-width="0.6"/>
<polygon points="564.73,388.27 562.31,383.87 567.15,383.87" fill="#1f9c7c"/>
<polygon points="568.77,382.25 566.35,377.85 571.19,377.85" fill="#1f9c7c"/>
<polygon points="576.84,372.2 574.42,367.8 579.26,367.8" fill="#1f9c7c"/>
<polygon points="584.9,359.48 582.48,355.08 587.32,355.08" fill="#1f9c7c"/>
<polygon points="592.97,346.09 590.55,341.69 595.39,341.69" fill="#1f9c7c"/>
<polygon points="601.04,331.36 598.62,326.96 603.46,326.96" fill="#1f9c7c"/>
<polygon points="609.11,318.64 606.69,314.24 611.53,314.24" fill="#1f9c7c"/>
<polygon points="625.25,304.58 622.83,300.18 627.67,300.18" fill="#1f9c7c"/>
<polygon points="641.38,291.19 638.96,286.79 643.8,286.79" fill="#1f9c7c"/>
<polygon points="657.52,286.5 655.1,282.1 659.94,282.1" fill="#1f9c7c"/>
<polygon points="673.65,282.48 671.23,278.08 676.07,278.08" fill="#1f9c7c"/>
<polygon points="689.79,281.15 687.37,276.75 692.21,276.75" fill="#1f9c7c"/>
<polygon points="722.06,280.48 719.64,276.08 724.48,276.08" fill="#1f9c7c"/>
<polyline points="564.73,385.07 568.77,376.37 576.84,366.33 584.9,353.61 592.97,340.88 601.04,326.82 609.11,312.76 625.25,299.37 641.38,287.32 657.52,282.63 673.65,279.28 689.79,278.62 722.06,277.95" fill="none" stroke="#c588ea" stroke-width="0.9" stroke-linejoin="round"/>
<line x1="564.73" y1="382.4" x2="564.73" y2="387.75" stroke="#c588ea" stroke-width="0.6"/><line x1="563.23" y1="382.4" x2="566.23" y2="382.4" stroke="#c588ea" stroke-width="0.6"/><line x1="563.23" y1="387.75" x2="566.23" y2="387.75" stroke="#c588ea" stroke-width="0.6"/>
<line x1="568.77" y1="373.69" x2="568.77" y2="379.05" stroke="#c588ea" stroke-width="0.6"/><line x1="567.27" y1="373.69" x2="570.27" y2="373.69" stroke="#c588ea" stroke-width="0.6"/><line x1="567.27" y1="379.05" x2="570.27" y2="379.05" stroke="#c588ea" stroke-width="0.6"/>
<line x1="576.84" y1="363.65" x2="576.84" y2="369.01" stroke="#c588ea" stroke-width="0.6"/><line x1="575.34" y1="363.65" x2="578.34" y2="363.65" stroke="#c588ea" stroke-width="0.6"/><line x1="575.34" y1="369.01" x2="578.34" y2="369.01" stroke="#c588ea" stroke-width="0.6"/>
<line x1="584.9" y1="350.93" x2="584.9" y2="356.28" stroke="#c588ea" stroke-width="0.6"/><line x1="583.4" y1="350.93" x2="586.4" y2="350.93" stroke="#c588ea" stroke-width="0.6"/><line x1="583.4" y1="356.28" x2="586.4" y2="356.28" stroke="#c588ea" stroke-width="0.6"/>
<line x1="592.97" y1="338.21" x2="592.97" y2="343.56" stroke="#c588ea" stroke-width="0.6"/><line x1="591.47" y1="338.21" x2="594.47" y2="338.21" stroke="#c588ea" stroke-width="0.6"/><line x1="591.47" y1="343.56" x2="594.47" y2="343.56" stroke="#c588ea" stroke-width="0.6"/>
<line x1="601.04" y1="324.14" x2="601.04" y2="329.5" stroke="#c588ea" stroke-width="0.6"/><line x1="599.54" y1="324.14" x2="602.54" y2="324.14" stroke="#c588ea" stroke-width="0.6"/><line x1="599.54" y1="329.5" x2="602.54" y2="329.5" stroke="#c588ea" stroke-width="0.6"/>
<line x1="609.11" y1="310.08" x2="609.11" y2="315.44" stroke="#c588ea" stroke-width="0.6"/><line x1="607.61" y1="310.08" x2="610.61" y2="310.08" stroke="#c588ea" stroke-width="0.6"/><line x1="607.61" y1="315.44" x2="610.61" y2="315.44" stroke="#c588ea" stroke-width="0.6"/>
<line x1="625.25" y1="296.69" x2="625.25" y2="302.05" stroke="#c588ea" stroke-width="0.6"/><line x1="623.75" y1="296.69" x2="626.75" y2="296.69" stroke="#c588ea" stroke-width="0.6"/><line x1="623.75" y1="302.05" x2="626.75" y2="302.05" stroke="#c588ea" stroke-width="0.6"/>
<line x1="641.38" y1="284.64" x2="641.38" y2="290" stroke="#c588ea" stroke-width="0.6"/><line x1="639.88" y1="284.64" x2="642.88" y2="284.64" stroke="#c588ea" stroke-width="0.6"/><line x1="639.88" y1="290" x2="642.88" y2="290" stroke="#c588ea" stroke-width="0.6"/>
<line x1="657.52" y1="279.95" x2="657.52" y2="285.31" stroke="#c588ea" stroke-width="0.6"/><line x1="656.02" y1="279.95" x2="659.02" y2="279.95" stroke="#c588ea" stroke-width="0.6"/><line x1="656.02" y1="285.31" x2="659.02" y2="285.31" stroke="#c588ea" stroke-width="0.6"/>
<line x1="673.65" y1="276.61" x2="673.65" y2="281.96" stroke="#c588ea" stroke-width="0.6"/><line x1="672.15" y1="276.61" x2="675.15" y2="276.61" stroke="#c588ea" stroke-width="0.6"/><line x1="672.15" y1="281.96" x2="675.15" y2="281.96" stroke="#c588ea" stroke-width="0.6"/>
<line x1="689.79" y1="275.94" x2="689.79" y2="281.29" stroke="#c588ea" stroke-width="0.6"/><line x1="688.29" y1="275.94" x2="691.29" y2="275.94" stroke="#c588ea" stroke-width="0.6"/><line x1="688.29" y1="281.29" x2="691.29" y2="281.29" stroke="#c588ea" stroke-width="0.6"/>
<line x1="722.06" y1="275.27" x2="722.06" y2="280.62" stroke="#c588ea" stroke-width="0.6"/><line x1="720.56" y1="275.27" x2="723.56" y2="275.27" stroke="#c588ea" stroke-width="0.6"/><line x1="720.56" y1="280.62" x2="723.56" y2="280.62" stroke="#c588ea" stroke-width="0.6"/>
<polygon points="564.73,382.21 567.15,385.07 564.73,387.93 562.31,385.07" fill="#c588ea"/>
<polygon points="568.77,373.51 571.19,376.37 568.77,379.23 566.35,376.37" fill="#c588ea"/>
<polygon points="576.84,363.47 579.26,366.33 576.84,369.19 574.42,366.33" fill="#c588ea"/>
<polygon points="584.9,350.75 587.32,353.61 584.9,356.47 582.48,353.61" fill="#c588ea"/>
<polygon points="592.97,338.02 595.39,340.88 592.97,343.74 590.55,340.88" fill="#c588ea"/>
<polygon points="601.04,323.96 603.46,326.82 601.04,329.68 598.62,326.82" fill="#c588ea"/>
<polygon points="609.11,309.9 611.53,312.76 609.11,315.62 606.69,312.76" fill="#c588ea"/>
<polygon points="625.25,296.51 627.67,299.37 625.25,302.23 622.83,299.37" fill="#c588ea"/>
<polygon points="641.38,284.46 643.8,287.32 641.38,290.18 638.96,287.32" fill="#c588ea"/>
<polygon points="657.52,279.77 659.94,282.63 657.52,285.49 655.1,282.63" fill="#c588ea"/>
<polygon points="673.65,276.42 676.07,279.28 673.65,282.14 671.23,279.28" fill="#c588ea"/>
<polygon points="689.79,275.76 692.21,278.62 689.79,281.48 687.37,278.62" fill="#c588ea"/>
<polygon points="722.06,275.09 724.48,277.95 722.06,280.81 719.64,277.95" fill="#c588ea"/>
<rect x="560.7" y="259.6" width="177.5" height="146.9" fill="none" stroke="#3a3a3a" stroke-width="0.75"/>
<line x1="560.7" y1="406.5" x2="557.7" y2="406.5" stroke="#3a3a3a" stroke-width="0.7"/>
<text x="556.3" y="409.49" font-size="8.8" fill="#222" stroke="#222" stroke-width="0.15" font-family='"Liberation Serif", "Times New Roman", serif' text-anchor="end">0</text>
<line x1="560.7" y1="379.72" x2="557.7" y2="379.72" stroke="#3a3a3a" stroke-width="0.7"/>
<text x="556.3" y="382.71" font-size="8.8" fill="#222" stroke="#222" stroke-width="0.15" font-family='"Liberation Serif", "Times New Roman", serif' text-anchor="end">20</text>
<line x1="560.7" y1="352.94" x2="557.7" y2="352.94" stroke="#3a3a3a" stroke-width="0.7"/>
<text x="556.3" y="355.93" font-size="8.8" fill="#222" stroke="#222" stroke-width="0.15" font-family='"Liberation Serif", "Times New Roman", serif' text-anchor="end">40</text>
<line x1="560.7" y1="326.15" x2="557.7" y2="326.15" stroke="#3a3a3a" stroke-width="0.7"/>
<text x="556.3" y="329.15" font-size="8.8" fill="#222" stroke="#222" stroke-width="0.15" font-family='"Liberation Serif", "Times New Roman", serif' text-anchor="end">60</text>
<line x1="560.7" y1="299.37" x2="557.7" y2="299.37" stroke="#3a3a3a" stroke-width="0.7"/>
<text x="556.3" y="302.36" font-size="8.8" fill="#222" stroke="#222" stroke-width="0.15" font-family='"Liberation Serif", "Times New Roman", serif' text-anchor="end">80</text>
<line x1="560.7" y1="272.59" x2="557.7" y2="272.59" stroke="#3a3a3a" stroke-width="0.7"/>
<text x="556.3" y="275.58" font-size="8.8" fill="#222" stroke="#222" stroke-width="0.15" font-family='"Liberation Serif", "Times New Roman", serif' text-anchor="end">100</text>
<line x1="560.7" y1="393.11" x2="558.9" y2="393.11" stroke="#3a3a3a" stroke-width="0.7"/>
<line x1="560.7" y1="366.33" x2="558.9" y2="366.33" stroke="#3a3a3a" stroke-width="0.7"/>
<line x1="560.7" y1="339.54" x2="558.9" y2="339.54" stroke="#3a3a3a" stroke-width="0.7"/>
<line x1="560.7" y1="312.76" x2="558.9" y2="312.76" stroke="#3a3a3a" stroke-width="0.7"/>
<line x1="560.7" y1="285.98" x2="558.9" y2="285.98" stroke="#3a3a3a" stroke-width="0.7"/>
<line x1="738.2" y1="406.5" x2="735.2" y2="406.5" stroke="#3a3a3a" stroke-width="0.7"/>
<line x1="738.2" y1="379.72" x2="735.2" y2="379.72" stroke="#3a3a3a" stroke-width="0.7"/>
<line x1="738.2" y1="352.94" x2="735.2" y2="352.94" stroke="#3a3a3a" stroke-width="0.7"/>
<line x1="738.2" y1="326.15" x2="735.2" y2="326.15" stroke="#3a3a3a" stroke-width="0.7"/>
<line x1="738.2" y1="299.37" x2="735.2" y2="299.37" stroke="#3a3a3a" stroke-width="0.7"/>
<line x1="738.2" y1="272.59" x2="735.2" y2="272.59" stroke="#3a3a3a" stroke-width="0.7"/>
<line x1="738.2" y1="393.11" x2="736.4" y2="393.11" stroke="#3a3a3a" stroke-width="0.7"/>
<line x1="738.2" y1="366.33" x2="736.4" y2="366.33" stroke="#3a3a3a" stroke-width="0.7"/>
<line x1="738.2" y1="339.54" x2="736.4" y2="339.54" stroke="#3a3a3a" stroke-width="0.7"/>
<line x1="738.2" y1="312.76" x2="736.4" y2="312.76" stroke="#3a3a3a" stroke-width="0.7"/>
<line x1="738.2" y1="285.98" x2="736.4" y2="285.98" stroke="#3a3a3a" stroke-width="0.7"/>
<line x1="560.7" y1="406.5" x2="560.7" y2="409.5" stroke="#3a3a3a" stroke-width="0.7"/>
<text x="560.7" y="418.7" font-size="8.8" fill="#222" stroke="#222" stroke-width="0.15" font-family='"Liberation Serif", "Times New Roman", serif' text-anchor="middle">0</text>
<line x1="576.84" y1="406.5" x2="576.84" y2="409.5" stroke="#3a3a3a" stroke-width="0.7"/>
<text x="576.84" y="418.7" font-size="8.8" fill="#222" stroke="#222" stroke-width="0.15" font-family='"Liberation Serif", "Times New Roman", serif' text-anchor="middle">2</text>
<line x1="592.97" y1="406.5" x2="592.97" y2="409.5" stroke="#3a3a3a" stroke-width="0.7"/>
<text x="592.97" y="418.7" font-size="8.8" fill="#222" stroke="#222" stroke-width="0.15" font-family='"Liberation Serif", "Times New Roman", serif' text-anchor="middle">4</text>
<line x1="609.11" y1="406.5" x2="609.11" y2="409.5" stroke="#3a3a3a" stroke-width="0.7"/>
<text x="609.11" y="418.7" font-size="8.8" fill="#222" stroke="#222" stroke-width="0.15" font-family='"Liberation Serif", "Times New Roman", serif' text-anchor="middle">6</text>
<line x1="625.25" y1="406.5" x2="625.25" y2="409.5" stroke="#3a3a3a" stroke-width="0.7"/>
<text x="625.25" y="418.7" font-size="8.8" fill="#222" stroke="#222" stroke-width="0.15" font-family='"Liberation Serif", "Times New Roman", serif' text-anchor="middle">8</text>
<line x1="641.38" y1="406.5" x2="641.38" y2="409.5" stroke="#3a3a3a" stroke-width="0.7"/>
<text x="641.38" y="418.7" font-size="8.8" fill="#222" stroke="#222" stroke-width="0.15" font-family='"Liberation Serif", "Times New Roman", serif' text-anchor="middle">10</text>
<line x1="657.52" y1="406.5" x2="657.52" y2="409.5" stroke="#3a3a3a" stroke-width="0.7"/>
<text x="657.52" y="418.7" font-size="8.8" fill="#222" stroke="#222" stroke-width="0.15" font-family='"Liberation Serif", "Times New Roman", serif' text-anchor="middle">12</text>
<line x1="673.65" y1="406.5" x2="673.65" y2="409.5" stroke="#3a3a3a" stroke-width="0.7"/>
<text x="673.65" y="418.7" font-size="8.8" fill="#222" stroke="#222" stroke-width="0.15" font-family='"Liberation Serif", "Times New Roman", serif' text-anchor="middle">14</text>
<line x1="689.79" y1="406.5" x2="689.79" y2="409.5" stroke="#3a3a3a" stroke-width="0.7"/>
<text x="689.79" y="418.7" font-size="8.8" fill="#222" stroke="#222" stroke-width="0.15" font-family='"Liberation Serif", "Times New Roman", serif' text-anchor="middle">16</text>
<line x1="705.93" y1="406.5" x2="705.93" y2="409.5" stroke="#3a3a3a" stroke-width="0.7"/>
<text x="705.93" y="418.7" font-size="8.8" fill="#222" stroke="#222" stroke-width="0.15" font-family='"Liberation Serif", "Times New Roman", serif' text-anchor="middle">18</text>
<line x1="722.06" y1="406.5" x2="722.06" y2="409.5" stroke="#3a3a3a" stroke-width="0.7"/>
<text x="722.06" y="418.7" font-size="8.8" fill="#222" stroke="#222" stroke-width="0.15" font-family='"Liberation Serif", "Times New Roman", serif' text-anchor="middle">20</text>
<line x1="738.2" y1="406.5" x2="738.2" y2="409.5" stroke="#3a3a3a" stroke-width="0.7"/>
<text x="738.2" y="418.7" font-size="8.8" fill="#222" stroke="#222" stroke-width="0.15" font-family='"Liberation Serif", "Times New Roman", serif' text-anchor="middle">22</text>
<line x1="568.77" y1="406.5" x2="568.77" y2="408.3" stroke="#3a3a3a" stroke-width="0.7"/>
<line x1="584.9" y1="406.5" x2="584.9" y2="408.3" stroke="#3a3a3a" stroke-width="0.7"/>
<line x1="601.04" y1="406.5" x2="601.04" y2="408.3" stroke="#3a3a3a" stroke-width="0.7"/>
<line x1="617.18" y1="406.5" x2="617.18" y2="408.3" stroke="#3a3a3a" stroke-width="0.7"/>
<line x1="633.31" y1="406.5" x2="633.31" y2="408.3" stroke="#3a3a3a" stroke-width="0.7"/>
<line x1="649.45" y1="406.5" x2="649.45" y2="408.3" stroke="#3a3a3a" stroke-width="0.7"/>
<line x1="665.59" y1="406.5" x2="665.59" y2="408.3" stroke="#3a3a3a" stroke-width="0.7"/>
<line x1="681.72" y1="406.5" x2="681.72" y2="408.3" stroke="#3a3a3a" stroke-width="0.7"/>
<line x1="697.86" y1="406.5" x2="697.86" y2="408.3" stroke="#3a3a3a" stroke-width="0.7"/>
<line x1="714" y1="406.5" x2="714" y2="408.3" stroke="#3a3a3a" stroke-width="0.7"/>
<line x1="730.13" y1="406.5" x2="730.13" y2="408.3" stroke="#3a3a3a" stroke-width="0.7"/>
<line x1="560.7" y1="259.6" x2="560.7" y2="262.6" stroke="#3a3a3a" stroke-width="0.7"/>
<line x1="576.84" y1="259.6" x2="576.84" y2="262.6" stroke="#3a3a3a" stroke-width="0.7"/>
<line x1="592.97" y1="259.6" x2="592.97" y2="262.6" stroke="#3a3a3a" stroke-width="0.7"/>
<line x1="609.11" y1="259.6" x2="609.11" y2="262.6" stroke="#3a3a3a" stroke-width="0.7"/>
<line x1="625.25" y1="259.6" x2="625.25" y2="262.6" stroke="#3a3a3a" stroke-width="0.7"/>
<line x1="641.38" y1="259.6" x2="641.38" y2="262.6" stroke="#3a3a3a" stroke-width="0.7"/>
<line x1="657.52" y1="259.6" x2="657.52" y2="262.6" stroke="#3a3a3a" stroke-width="0.7"/>
<line x1="673.65" y1="259.6" x2="673.65" y2="262.6" stroke="#3a3a3a" stroke-width="0.7"/>
<line x1="689.79" y1="259.6" x2="689.79" y2="262.6" stroke="#3a3a3a" stroke-width="0.7"/>
<line x1="705.93" y1="259.6" x2="705.93" y2="262.6" stroke="#3a3a3a" stroke-width="0.7"/>
<line x1="722.06" y1="259.6" x2="722.06" y2="262.6" stroke="#3a3a3a" stroke-width="0.7"/>
<line x1="738.2" y1="259.6" x2="738.2" y2="262.6" stroke="#3a3a3a" stroke-width="0.7"/>
<line x1="568.77" y1="259.6" x2="568.77" y2="261.4" stroke="#3a3a3a" stroke-width="0.7"/>
<line x1="584.9" y1="259.6" x2="584.9" y2="261.4" stroke="#3a3a3a" stroke-width="0.7"/>
<line x1="601.04" y1="259.6" x2="601.04" y2="261.4" stroke="#3a3a3a" stroke-width="0.7"/>
<line x1="617.18" y1="259.6" x2="617.18" y2="261.4" stroke="#3a3a3a" stroke-width="0.7"/>
<line x1="633.31" y1="259.6" x2="633.31" y2="261.4" stroke="#3a3a3a" stroke-width="0.7"/>
<line x1="649.45" y1="259.6" x2="649.45" y2="261.4" stroke="#3a3a3a" stroke-width="0.7"/>
<line x1="665.59" y1="259.6" x2="665.59" y2="261.4" stroke="#3a3a3a" stroke-width="0.7"/>
<line x1="681.72" y1="259.6" x2="681.72" y2="261.4" stroke="#3a3a3a" stroke-width="0.7"/>
<line x1="697.86" y1="259.6" x2="697.86" y2="261.4" stroke="#3a3a3a" stroke-width="0.7"/>
<line x1="714" y1="259.6" x2="714" y2="261.4" stroke="#3a3a3a" stroke-width="0.7"/>
<line x1="730.13" y1="259.6" x2="730.13" y2="261.4" stroke="#3a3a3a" stroke-width="0.7"/>
<text x="649.2" y="427.8" font-size="9.6" fill="#222" font-family='"Liberation Serif", "Times New Roman", serif' text-anchor="middle" textLength="32.1" lengthAdjust="spacingAndGlyphs">Time (h)</text>
<text x="0" y="0" font-size="9.6" fill="#222" font-family='"Liberation Serif", "Times New Roman", serif' text-anchor="middle" textLength="23.8" lengthAdjust="spacingAndGlyphs" transform="translate(545.2,333.8) rotate(-90)">Q (%)</text>
<line x1="682.8" y1="325.4" x2="702.6" y2="325.4" stroke="#8c8c8c" stroke-width="0.9"/><rect x="690.72" y="323.42" width="3.96" height="3.96" fill="#8c8c8c"/><text x="705" y="328.83" font-size="10.4" fill="#222" font-family='"Liberation Serif", "Times New Roman", serif'>F<tspan font-size="6.86" dy="2.6">RS</tspan></text>
<line x1="682.8" y1="338.7" x2="702.6" y2="338.7" stroke="#0f6a7e" stroke-width="0.9"/><circle cx="692.7" cy="338.7" r="2.2" fill="#0f6a7e"/><text x="705" y="342.13" font-size="10.4" fill="#222" font-family='"Liberation Serif", "Times New Roman", serif'>F<tspan font-size="6.86" dy="2.6">S1L1</tspan></text>
<line x1="682.8" y1="352.3" x2="702.6" y2="352.3" stroke="#9a8712" stroke-width="0.9"/><polygon points="692.7,349.77 690.28,354.17 695.12,354.17" fill="#9a8712"/><text x="705" y="355.73" font-size="10.4" fill="#222" font-family='"Liberation Serif", "Times New Roman", serif'>F<tspan font-size="6.86" dy="2.6">S1L2</tspan></text>
<line x1="682.8" y1="365.6" x2="702.6" y2="365.6" stroke="#1f9c7c" stroke-width="0.9"/><polygon points="692.7,368.13 690.28,363.73 695.12,363.73" fill="#1f9c7c"/><text x="705" y="369.03" font-size="10.4" fill="#222" font-family='"Liberation Serif", "Times New Roman", serif'>F<tspan font-size="6.86" dy="2.6">S1L4</tspan></text>
<line x1="682.8" y1="378.9" x2="702.6" y2="378.9" stroke="#c588ea" stroke-width="0.9"/><polygon points="692.7,376.04 695.12,378.9 692.7,381.76 690.28,378.9" fill="#c588ea"/><text x="705" y="382.33" font-size="10.4" fill="#222" font-family='"Liberation Serif", "Times New Roman", serif'>F<tspan font-size="6.86" dy="2.6">RL</tspan></text>
<text x="53.4" y="439.5" font-size="22" fill="#111" stroke="#111" stroke-width="0.15" font-family='"Liberation Serif", "Times New Roman", serif'>H</text>
<rect x="101.5" y="533.06" width="40" height="56.44" fill="#7b7b7b"/>
<line x1="121.5" y1="530.78" x2="121.5" y2="535.35" stroke="#111" stroke-width="0.7"/><line x1="119.9" y1="530.78" x2="123.1" y2="530.78" stroke="#111" stroke-width="0.7"/><line x1="119.9" y1="535.35" x2="123.1" y2="535.35" stroke="#111" stroke-width="0.7"/>
<rect x="162.8" y="477.99" width="40" height="111.51" fill="#7b7b7b"/>
<line x1="182.8" y1="475.25" x2="182.8" y2="480.73" stroke="#111" stroke-width="0.7"/><line x1="181.2" y1="475.25" x2="184.4" y2="475.25" stroke="#111" stroke-width="0.7"/><line x1="181.2" y1="480.73" x2="184.4" y2="480.73" stroke="#111" stroke-width="0.7"/>
<rect x="224.1" y="462" width="40" height="127.5" fill="#7b7b7b"/>
<line x1="244.1" y1="458.34" x2="244.1" y2="465.65" stroke="#111" stroke-width="0.7"/><line x1="242.5" y1="458.34" x2="245.7" y2="458.34" stroke="#111" stroke-width="0.7"/><line x1="242.5" y1="465.65" x2="245.7" y2="465.65" stroke="#111" stroke-width="0.7"/>
<polyline points="121.5,570.16 182.8,465.24 244.1,494.3" fill="none" stroke="#17728a" stroke-width="0.9" stroke-linejoin="round"/>
<line x1="121.5" y1="566.88" x2="121.5" y2="573.45" stroke="#17728a" stroke-width="0.7"/><line x1="119.9" y1="566.88" x2="123.1" y2="566.88" stroke="#17728a" stroke-width="0.7"/><line x1="119.9" y1="573.45" x2="123.1" y2="573.45" stroke="#17728a" stroke-width="0.7"/>
<rect x="119.79" y="568.45" width="3.42" height="3.42" fill="#17728a"/>
<line x1="182.8" y1="461.95" x2="182.8" y2="468.52" stroke="#17728a" stroke-width="0.7"/><line x1="181.2" y1="461.95" x2="184.4" y2="461.95" stroke="#17728a" stroke-width="0.7"/><line x1="181.2" y1="468.52" x2="184.4" y2="468.52" stroke="#17728a" stroke-width="0.7"/>
<rect x="181.09" y="463.53" width="3.42" height="3.42" fill="#17728a"/>
<line x1="244.1" y1="491.02" x2="244.1" y2="497.59" stroke="#17728a" stroke-width="0.7"/><line x1="242.5" y1="491.02" x2="245.7" y2="491.02" stroke="#17728a" stroke-width="0.7"/><line x1="242.5" y1="497.59" x2="245.7" y2="497.59" stroke="#17728a" stroke-width="0.7"/>
<rect x="242.39" y="492.59" width="3.42" height="3.42" fill="#17728a"/>
<line x1="90.5" y1="441.6" x2="274.8" y2="441.6" stroke="#3a3a3a" stroke-width="0.75"/>
<line x1="90.5" y1="441.6" x2="90.5" y2="589.5" stroke="#3a3a3a" stroke-width="0.75"/>
<line x1="90.5" y1="589.5" x2="274.8" y2="589.5" stroke="#3a3a3a" stroke-width="0.75"/>
<line x1="274.8" y1="441.6" x2="274.8" y2="589.5" stroke="#17728a" stroke-width="0.75"/>
<line x1="87.9" y1="589.5" x2="90.5" y2="589.5" stroke="#3a3a3a" stroke-width="0.7"/>
<text x="86.5" y="592.5" font-size="8.8" fill="#333" stroke="#333" stroke-width="0.15" font-family='"Liberation Serif", "Times New Roman", serif' text-anchor="end">0</text>
<line x1="87.9" y1="566.65" x2="90.5" y2="566.65" stroke="#3a3a3a" stroke-width="0.7"/>
<text x="86.5" y="569.65" font-size="8.8" fill="#333" stroke="#333" stroke-width="0.15" font-family='"Liberation Serif", "Times New Roman", serif' text-anchor="end">1</text>
<line x1="87.9" y1="543.8" x2="90.5" y2="543.8" stroke="#3a3a3a" stroke-width="0.7"/>
<text x="86.5" y="546.8" font-size="8.8" fill="#333" stroke="#333" stroke-width="0.15" font-family='"Liberation Serif", "Times New Roman", serif' text-anchor="end">2</text>
<line x1="87.9" y1="520.95" x2="90.5" y2="520.95" stroke="#3a3a3a" stroke-width="0.7"/>
<text x="86.5" y="523.95" font-size="8.8" fill="#333" stroke="#333" stroke-width="0.15" font-family='"Liberation Serif", "Times New Roman", serif' text-anchor="end">3</text>
<line x1="87.9" y1="498.1" x2="90.5" y2="498.1" stroke="#3a3a3a" stroke-width="0.7"/>
<text x="86.5" y="501.1" font-size="8.8" fill="#333" stroke="#333" stroke-width="0.15" font-family='"Liberation Serif", "Times New Roman", serif' text-anchor="end">4</text>
<line x1="87.9" y1="475.25" x2="90.5" y2="475.25" stroke="#3a3a3a" stroke-width="0.7"/>
<text x="86.5" y="478.25" font-size="8.8" fill="#333" stroke="#333" stroke-width="0.15" font-family='"Liberation Serif", "Times New Roman", serif' text-anchor="end">5</text>
<line x1="87.9" y1="452.4" x2="90.5" y2="452.4" stroke="#3a3a3a" stroke-width="0.7"/>
<text x="86.5" y="455.4" font-size="8.8" fill="#333" stroke="#333" stroke-width="0.15" font-family='"Liberation Serif", "Times New Roman", serif' text-anchor="end">6</text>
<line x1="89" y1="578.08" x2="90.5" y2="578.08" stroke="#3a3a3a" stroke-width="0.7"/>
<line x1="89" y1="555.23" x2="90.5" y2="555.23" stroke="#3a3a3a" stroke-width="0.7"/>
<line x1="89" y1="532.38" x2="90.5" y2="532.38" stroke="#3a3a3a" stroke-width="0.7"/>
<line x1="89" y1="509.52" x2="90.5" y2="509.52" stroke="#3a3a3a" stroke-width="0.7"/>
<line x1="89" y1="486.68" x2="90.5" y2="486.68" stroke="#3a3a3a" stroke-width="0.7"/>
<line x1="89" y1="463.82" x2="90.5" y2="463.82" stroke="#3a3a3a" stroke-width="0.7"/>
<line x1="274.8" y1="581" x2="277.4" y2="581" stroke="#17728a" stroke-width="0.7"/>
<text x="279" y="584" font-size="8.8" fill="#17728a" stroke="#17728a" stroke-width="0.15" font-family='"Liberation Serif", "Times New Roman", serif'>2</text>
<line x1="274.8" y1="564.58" x2="277.4" y2="564.58" stroke="#17728a" stroke-width="0.7"/>
<text x="279" y="567.58" font-size="8.8" fill="#17728a" stroke="#17728a" stroke-width="0.15" font-family='"Liberation Serif", "Times New Roman", serif'>3</text>
<line x1="274.8" y1="548.16" x2="277.4" y2="548.16" stroke="#17728a" stroke-width="0.7"/>
<text x="279" y="551.16" font-size="8.8" fill="#17728a" stroke="#17728a" stroke-width="0.15" font-family='"Liberation Serif", "Times New Roman", serif'>4</text>
<line x1="274.8" y1="531.74" x2="277.4" y2="531.74" stroke="#17728a" stroke-width="0.7"/>
<text x="279" y="534.74" font-size="8.8" fill="#17728a" stroke="#17728a" stroke-width="0.15" font-family='"Liberation Serif", "Times New Roman", serif'>5</text>
<line x1="274.8" y1="515.32" x2="277.4" y2="515.32" stroke="#17728a" stroke-width="0.7"/>
<text x="279" y="518.32" font-size="8.8" fill="#17728a" stroke="#17728a" stroke-width="0.15" font-family='"Liberation Serif", "Times New Roman", serif'>6</text>
<line x1="274.8" y1="498.9" x2="277.4" y2="498.9" stroke="#17728a" stroke-width="0.7"/>
<text x="279" y="501.9" font-size="8.8" fill="#17728a" stroke="#17728a" stroke-width="0.15" font-family='"Liberation Serif", "Times New Roman", serif'>7</text>
<line x1="274.8" y1="482.48" x2="277.4" y2="482.48" stroke="#17728a" stroke-width="0.7"/>
<text x="279" y="485.48" font-size="8.8" fill="#17728a" stroke="#17728a" stroke-width="0.15" font-family='"Liberation Serif", "Times New Roman", serif'>8</text>
<line x1="274.8" y1="466.06" x2="277.4" y2="466.06" stroke="#17728a" stroke-width="0.7"/>
<text x="279" y="469.06" font-size="8.8" fill="#17728a" stroke="#17728a" stroke-width="0.15" font-family='"Liberation Serif", "Times New Roman", serif'>9</text>
<line x1="274.8" y1="449.64" x2="277.4" y2="449.64" stroke="#17728a" stroke-width="0.7"/>
<text x="279" y="452.64" font-size="8.8" fill="#17728a" stroke="#17728a" stroke-width="0.15" font-family='"Liberation Serif", "Times New Roman", serif'>10</text>
<line x1="274.8" y1="572.79" x2="276.3" y2="572.79" stroke="#17728a" stroke-width="0.7"/>
<line x1="274.8" y1="556.37" x2="276.3" y2="556.37" stroke="#17728a" stroke-width="0.7"/>
<line x1="274.8" y1="539.95" x2="276.3" y2="539.95" stroke="#17728a" stroke-width="0.7"/>
<line x1="274.8" y1="523.53" x2="276.3" y2="523.53" stroke="#17728a" stroke-width="0.7"/>
<line x1="274.8" y1="507.11" x2="276.3" y2="507.11" stroke="#17728a" stroke-width="0.7"/>
<line x1="274.8" y1="490.69" x2="276.3" y2="490.69" stroke="#17728a" stroke-width="0.7"/>
<line x1="274.8" y1="474.27" x2="276.3" y2="474.27" stroke="#17728a" stroke-width="0.7"/>
<line x1="274.8" y1="457.85" x2="276.3" y2="457.85" stroke="#17728a" stroke-width="0.7"/>
<line x1="121.5" y1="589.5" x2="121.5" y2="592.1" stroke="#3a3a3a" stroke-width="0.7"/>
<line x1="121.5" y1="441.6" x2="121.5" y2="444.2" stroke="#3a3a3a" stroke-width="0.7"/>
<line x1="182.8" y1="589.5" x2="182.8" y2="592.1" stroke="#3a3a3a" stroke-width="0.7"/>
<line x1="182.8" y1="441.6" x2="182.8" y2="444.2" stroke="#3a3a3a" stroke-width="0.7"/>
<line x1="244.1" y1="589.5" x2="244.1" y2="592.1" stroke="#3a3a3a" stroke-width="0.7"/>
<line x1="244.1" y1="441.6" x2="244.1" y2="444.2" stroke="#3a3a3a" stroke-width="0.7"/>
<line x1="152.15" y1="589.5" x2="152.15" y2="591" stroke="#3a3a3a" stroke-width="0.7"/>
<line x1="213.45" y1="589.5" x2="213.45" y2="591" stroke="#3a3a3a" stroke-width="0.7"/>
<text x="122.7" y="599.8" font-size="9" fill="#222" font-family='"Liberation Serif", "Times New Roman", serif' text-anchor="middle">F<tspan font-size="6.3" dy="2.3">S1L4-PEG</tspan></text>
<text x="184" y="599.8" font-size="9" fill="#222" font-family='"Liberation Serif", "Times New Roman", serif' text-anchor="middle">F<tspan font-size="6.3" dy="2.3">S1L4-TEC</tspan></text>
<text x="245.3" y="599.8" font-size="9" fill="#222" font-family='"Liberation Serif", "Times New Roman", serif' text-anchor="middle">F<tspan font-size="6.3" dy="2.3">S1L4-GLY</tspan></text>
<rect x="95.7" y="447.4" width="19" height="9" fill="#7b7b7b"/>
<text x="118" y="455.2" font-size="9.6" fill="#222" stroke="#222" stroke-width="0.15" font-family='"Liberation Serif", "Times New Roman", serif' textLength="65.5" lengthAdjust="spacingAndGlyphs">Elongation at break</text>
<line x1="95.7" y1="463.4" x2="114.7" y2="463.4" stroke="#17728a" stroke-width="0.9"/>
<rect x="103.49" y="461.69" width="3.42" height="3.42" fill="#17728a"/>
<text x="118" y="466.6" font-size="9.6" fill="#222" stroke="#222" stroke-width="0.15" font-family='"Liberation Serif", "Times New Roman", serif' textLength="53.5" lengthAdjust="spacingAndGlyphs">Tensile strength</text>
<text x="0" y="0" font-size="9.6" fill="#222" font-family='"Liberation Serif", "Times New Roman", serif' text-anchor="middle" textLength="93.1" lengthAdjust="spacingAndGlyphs" transform="translate(79,515.2) rotate(-90)">Elongation at break (%)</text>
<text x="0" y="0" font-size="9.6" fill="#222" font-family='"Liberation Serif", "Times New Roman", serif' text-anchor="middle" textLength="88.8" lengthAdjust="spacingAndGlyphs" transform="translate(294,513.2) rotate(-90)">Tensile strength (MPa)</text>
<text x="310.2" y="438.7" font-size="22" fill="#111" stroke="#111" stroke-width="0.15" font-family='"Liberation Serif", "Times New Roman", serif'>I</text>
<polyline points="336.4,588.6 350.01,583.3 363.62,585.06 390.83,584.77 418.05,583.89 445.26,584.48 472.48,585.06 499.69,585.36" fill="none" stroke="#8c8c8c" stroke-width="0.9" stroke-linejoin="round"/>
<line x1="350.01" y1="580.65" x2="350.01" y2="585.95" stroke="#8c8c8c" stroke-width="0.6"/><line x1="348.51" y1="580.65" x2="351.51" y2="580.65" stroke="#8c8c8c" stroke-width="0.6"/><line x1="348.51" y1="585.95" x2="351.51" y2="585.95" stroke="#8c8c8c" stroke-width="0.6"/>
<line x1="363.62" y1="583.59" x2="363.62" y2="586.54" stroke="#8c8c8c" stroke-width="0.6"/><line x1="362.12" y1="583.59" x2="365.12" y2="583.59" stroke="#8c8c8c" stroke-width="0.6"/><line x1="362.12" y1="586.54" x2="365.12" y2="586.54" stroke="#8c8c8c" stroke-width="0.6"/>
<line x1="390.83" y1="583" x2="390.83" y2="586.54" stroke="#8c8c8c" stroke-width="0.6"/><line x1="389.33" y1="583" x2="392.33" y2="583" stroke="#8c8c8c" stroke-width="0.6"/><line x1="389.33" y1="586.54" x2="392.33" y2="586.54" stroke="#8c8c8c" stroke-width="0.6"/>
<line x1="418.05" y1="582.41" x2="418.05" y2="585.36" stroke="#8c8c8c" stroke-width="0.6"/><line x1="416.55" y1="582.41" x2="419.55" y2="582.41" stroke="#8c8c8c" stroke-width="0.6"/><line x1="416.55" y1="585.36" x2="419.55" y2="585.36" stroke="#8c8c8c" stroke-width="0.6"/>
<line x1="445.26" y1="582.41" x2="445.26" y2="586.54" stroke="#8c8c8c" stroke-width="0.6"/><line x1="443.76" y1="582.41" x2="446.76" y2="582.41" stroke="#8c8c8c" stroke-width="0.6"/><line x1="443.76" y1="586.54" x2="446.76" y2="586.54" stroke="#8c8c8c" stroke-width="0.6"/>
<line x1="472.48" y1="583.59" x2="472.48" y2="586.54" stroke="#8c8c8c" stroke-width="0.6"/><line x1="470.98" y1="583.59" x2="473.98" y2="583.59" stroke="#8c8c8c" stroke-width="0.6"/><line x1="470.98" y1="586.54" x2="473.98" y2="586.54" stroke="#8c8c8c" stroke-width="0.6"/>
<line x1="499.69" y1="584.18" x2="499.69" y2="586.54" stroke="#8c8c8c" stroke-width="0.6"/><line x1="498.19" y1="584.18" x2="501.19" y2="584.18" stroke="#8c8c8c" stroke-width="0.6"/><line x1="498.19" y1="586.54" x2="501.19" y2="586.54" stroke="#8c8c8c" stroke-width="0.6"/>
<rect x="334.42" y="586.62" width="3.96" height="3.96" fill="#8c8c8c"/>
<rect x="348.03" y="581.32" width="3.96" height="3.96" fill="#8c8c8c"/>
<rect x="361.64" y="583.08" width="3.96" height="3.96" fill="#8c8c8c"/>
<rect x="388.85" y="582.79" width="3.96" height="3.96" fill="#8c8c8c"/>
<rect x="416.07" y="581.91" width="3.96" height="3.96" fill="#8c8c8c"/>
<rect x="443.28" y="582.5" width="3.96" height="3.96" fill="#8c8c8c"/>
<rect x="470.5" y="583.08" width="3.96" height="3.96" fill="#8c8c8c"/>
<rect x="497.71" y="583.38" width="3.96" height="3.96" fill="#8c8c8c"/>
<polyline points="336.4,588.6 350.01,461.92 363.62,464.87 390.83,472.82 418.05,476.36 445.26,481.66 472.48,481.66 499.69,481.66" fill="none" stroke="#0f6a7e" stroke-width="0.9" stroke-linejoin="round"/>
<line x1="350.01" y1="459.86" x2="350.01" y2="463.98" stroke="#0f6a7e" stroke-width="0.6"/><line x1="348.51" y1="459.86" x2="351.51" y2="459.86" stroke="#0f6a7e" stroke-width="0.6"/><line x1="348.51" y1="463.98" x2="351.51" y2="463.98" stroke="#0f6a7e" stroke-width="0.6"/>
<line x1="363.62" y1="462.51" x2="363.62" y2="467.22" stroke="#0f6a7e" stroke-width="0.6"/><line x1="362.12" y1="462.51" x2="365.12" y2="462.51" stroke="#0f6a7e" stroke-width="0.6"/><line x1="362.12" y1="467.22" x2="365.12" y2="467.22" stroke="#0f6a7e" stroke-width="0.6"/>
<line x1="390.83" y1="470.76" x2="390.83" y2="474.88" stroke="#0f6a7e" stroke-width="0.6"/><line x1="389.33" y1="470.76" x2="392.33" y2="470.76" stroke="#0f6a7e" stroke-width="0.6"/><line x1="389.33" y1="474.88" x2="392.33" y2="474.88" stroke="#0f6a7e" stroke-width="0.6"/>
<line x1="418.05" y1="474.3" x2="418.05" y2="478.42" stroke="#0f6a7e" stroke-width="0.6"/><line x1="416.55" y1="474.3" x2="419.55" y2="474.3" stroke="#0f6a7e" stroke-width="0.6"/><line x1="416.55" y1="478.42" x2="419.55" y2="478.42" stroke="#0f6a7e" stroke-width="0.6"/>
<line x1="445.26" y1="479.3" x2="445.26" y2="484.02" stroke="#0f6a7e" stroke-width="0.6"/><line x1="443.76" y1="479.3" x2="446.76" y2="479.3" stroke="#0f6a7e" stroke-width="0.6"/><line x1="443.76" y1="484.02" x2="446.76" y2="484.02" stroke="#0f6a7e" stroke-width="0.6"/>
<line x1="472.48" y1="479.89" x2="472.48" y2="483.43" stroke="#0f6a7e" stroke-width="0.6"/><line x1="470.98" y1="479.89" x2="473.98" y2="479.89" stroke="#0f6a7e" stroke-width="0.6"/><line x1="470.98" y1="483.43" x2="473.98" y2="483.43" stroke="#0f6a7e" stroke-width="0.6"/>
<line x1="499.69" y1="479.89" x2="499.69" y2="483.43" stroke="#0f6a7e" stroke-width="0.6"/><line x1="498.19" y1="479.89" x2="501.19" y2="479.89" stroke="#0f6a7e" stroke-width="0.6"/><line x1="498.19" y1="483.43" x2="501.19" y2="483.43" stroke="#0f6a7e" stroke-width="0.6"/>
<circle cx="336.4" cy="588.6" r="2.2" fill="#0f6a7e"/>
<circle cx="350.01" cy="461.92" r="2.2" fill="#0f6a7e"/>
<circle cx="363.62" cy="464.87" r="2.2" fill="#0f6a7e"/>
<circle cx="390.83" cy="472.82" r="2.2" fill="#0f6a7e"/>
<circle cx="418.05" cy="476.36" r="2.2" fill="#0f6a7e"/>
<circle cx="445.26" cy="481.66" r="2.2" fill="#0f6a7e"/>
<circle cx="472.48" cy="481.66" r="2.2" fill="#0f6a7e"/>
<circle cx="499.69" cy="481.66" r="2.2" fill="#0f6a7e"/>
<polyline points="336.4,588.6 350.01,511.12 363.62,518.49 390.83,519.37 418.05,525.56 445.26,529.68 472.48,529.68 499.69,529.09" fill="none" stroke="#9a8712" stroke-width="0.9" stroke-linejoin="round"/>
<line x1="350.01" y1="508.47" x2="350.01" y2="513.77" stroke="#9a8712" stroke-width="0.6"/><line x1="348.51" y1="508.47" x2="351.51" y2="508.47" stroke="#9a8712" stroke-width="0.6"/><line x1="348.51" y1="513.77" x2="351.51" y2="513.77" stroke="#9a8712" stroke-width="0.6"/>
<line x1="363.62" y1="515.83" x2="363.62" y2="521.14" stroke="#9a8712" stroke-width="0.6"/><line x1="362.12" y1="515.83" x2="365.12" y2="515.83" stroke="#9a8712" stroke-width="0.6"/><line x1="362.12" y1="521.14" x2="365.12" y2="521.14" stroke="#9a8712" stroke-width="0.6"/>
<line x1="390.83" y1="517.01" x2="390.83" y2="521.73" stroke="#9a8712" stroke-width="0.6"/><line x1="389.33" y1="517.01" x2="392.33" y2="517.01" stroke="#9a8712" stroke-width="0.6"/><line x1="389.33" y1="521.73" x2="392.33" y2="521.73" stroke="#9a8712" stroke-width="0.6"/>
<line x1="418.05" y1="523.2" x2="418.05" y2="527.91" stroke="#9a8712" stroke-width="0.6"/><line x1="416.55" y1="523.2" x2="419.55" y2="523.2" stroke="#9a8712" stroke-width="0.6"/><line x1="416.55" y1="527.91" x2="419.55" y2="527.91" stroke="#9a8712" stroke-width="0.6"/>
<line x1="445.26" y1="527.03" x2="445.26" y2="532.33" stroke="#9a8712" stroke-width="0.6"/><line x1="443.76" y1="527.03" x2="446.76" y2="527.03" stroke="#9a8712" stroke-width="0.6"/><line x1="443.76" y1="532.33" x2="446.76" y2="532.33" stroke="#9a8712" stroke-width="0.6"/>
<line x1="472.48" y1="527.32" x2="472.48" y2="532.04" stroke="#9a8712" stroke-width="0.6"/><line x1="470.98" y1="527.32" x2="473.98" y2="527.32" stroke="#9a8712" stroke-width="0.6"/><line x1="470.98" y1="532.04" x2="473.98" y2="532.04" stroke="#9a8712" stroke-width="0.6"/>
<line x1="499.69" y1="526.14" x2="499.69" y2="532.04" stroke="#9a8712" stroke-width="0.6"/><line x1="498.19" y1="526.14" x2="501.19" y2="526.14" stroke="#9a8712" stroke-width="0.6"/><line x1="498.19" y1="532.04" x2="501.19" y2="532.04" stroke="#9a8712" stroke-width="0.6"/>
<polygon points="336.4,586.07 333.98,590.47 338.82,590.47" fill="#9a8712"/>
<polygon points="350.01,508.59 347.59,512.99 352.43,512.99" fill="#9a8712"/>
<polygon points="363.62,515.96 361.2,520.36 366.04,520.36" fill="#9a8712"/>
<polygon points="390.83,516.84 388.41,521.24 393.25,521.24" fill="#9a8712"/>
<polygon points="418.05,523.03 415.63,527.43 420.47,527.43" fill="#9a8712"/>
<polygon points="445.26,527.15 442.84,531.55 447.68,531.55" fill="#9a8712"/>
<polygon points="472.48,527.15 470.06,531.55 474.9,531.55" fill="#9a8712"/>
<polygon points="499.69,526.56 497.27,530.96 502.11,530.96" fill="#9a8712"/>
<rect x="336.4" y="441.3" width="176.9" height="147.3" fill="none" stroke="#3a3a3a" stroke-width="0.75"/>
<line x1="336.4" y1="588.6" x2="333.4" y2="588.6" stroke="#3a3a3a" stroke-width="0.7"/>
<text x="332" y="591.59" font-size="8.8" fill="#222" stroke="#222" stroke-width="0.15" font-family='"Liberation Serif", "Times New Roman", serif' text-anchor="end">0</text>
<line x1="336.4" y1="559.14" x2="333.4" y2="559.14" stroke="#3a3a3a" stroke-width="0.7"/>
<text x="332" y="562.13" font-size="8.8" fill="#222" stroke="#222" stroke-width="0.15" font-family='"Liberation Serif", "Times New Roman", serif' text-anchor="end">10</text>
<line x1="336.4" y1="529.68" x2="333.4" y2="529.68" stroke="#3a3a3a" stroke-width="0.7"/>
<text x="332" y="532.67" font-size="8.8" fill="#222" stroke="#222" stroke-width="0.15" font-family='"Liberation Serif", "Times New Roman", serif' text-anchor="end">20</text>
<line x1="336.4" y1="500.22" x2="333.4" y2="500.22" stroke="#3a3a3a" stroke-width="0.7"/>
<text x="332" y="503.21" font-size="8.8" fill="#222" stroke="#222" stroke-width="0.15" font-family='"Liberation Serif", "Times New Roman", serif' text-anchor="end">30</text>
<line x1="336.4" y1="470.76" x2="333.4" y2="470.76" stroke="#3a3a3a" stroke-width="0.7"/>
<text x="332" y="473.75" font-size="8.8" fill="#222" stroke="#222" stroke-width="0.15" font-family='"Liberation Serif", "Times New Roman", serif' text-anchor="end">40</text>
<line x1="336.4" y1="441.3" x2="333.4" y2="441.3" stroke="#3a3a3a" stroke-width="0.7"/>
<text x="332" y="444.29" font-size="8.8" fill="#222" stroke="#222" stroke-width="0.15" font-family='"Liberation Serif", "Times New Roman", serif' text-anchor="end">50</text>
<line x1="336.4" y1="573.87" x2="334.6" y2="573.87" stroke="#3a3a3a" stroke-width="0.7"/>
<line x1="336.4" y1="544.41" x2="334.6" y2="544.41" stroke="#3a3a3a" stroke-width="0.7"/>
<line x1="336.4" y1="514.95" x2="334.6" y2="514.95" stroke="#3a3a3a" stroke-width="0.7"/>
<line x1="336.4" y1="485.49" x2="334.6" y2="485.49" stroke="#3a3a3a" stroke-width="0.7"/>
<line x1="336.4" y1="456.03" x2="334.6" y2="456.03" stroke="#3a3a3a" stroke-width="0.7"/>
<line x1="513.3" y1="588.6" x2="510.3" y2="588.6" stroke="#3a3a3a" stroke-width="0.7"/>
<line x1="513.3" y1="559.14" x2="510.3" y2="559.14" stroke="#3a3a3a" stroke-width="0.7"/>
<line x1="513.3" y1="529.68" x2="510.3" y2="529.68" stroke="#3a3a3a" stroke-width="0.7"/>
<line x1="513.3" y1="500.22" x2="510.3" y2="500.22" stroke="#3a3a3a" stroke-width="0.7"/>
<line x1="513.3" y1="470.76" x2="510.3" y2="470.76" stroke="#3a3a3a" stroke-width="0.7"/>
<line x1="513.3" y1="441.3" x2="510.3" y2="441.3" stroke="#3a3a3a" stroke-width="0.7"/>
<line x1="513.3" y1="573.87" x2="511.5" y2="573.87" stroke="#3a3a3a" stroke-width="0.7"/>
<line x1="513.3" y1="544.41" x2="511.5" y2="544.41" stroke="#3a3a3a" stroke-width="0.7"/>
<line x1="513.3" y1="514.95" x2="511.5" y2="514.95" stroke="#3a3a3a" stroke-width="0.7"/>
<line x1="513.3" y1="485.49" x2="511.5" y2="485.49" stroke="#3a3a3a" stroke-width="0.7"/>
<line x1="513.3" y1="456.03" x2="511.5" y2="456.03" stroke="#3a3a3a" stroke-width="0.7"/>
<line x1="336.4" y1="588.6" x2="336.4" y2="591.6" stroke="#3a3a3a" stroke-width="0.7"/>
<text x="336.4" y="600.8" font-size="8.8" fill="#222" stroke="#222" stroke-width="0.15" font-family='"Liberation Serif", "Times New Roman", serif' text-anchor="middle">0</text>
<line x1="363.62" y1="588.6" x2="363.62" y2="591.6" stroke="#3a3a3a" stroke-width="0.7"/>
<text x="363.62" y="600.8" font-size="8.8" fill="#222" stroke="#222" stroke-width="0.15" font-family='"Liberation Serif", "Times New Roman", serif' text-anchor="middle">2</text>
<line x1="390.83" y1="588.6" x2="390.83" y2="591.6" stroke="#3a3a3a" stroke-width="0.7"/>
<text x="390.83" y="600.8" font-size="8.8" fill="#222" stroke="#222" stroke-width="0.15" font-family='"Liberation Serif", "Times New Roman", serif' text-anchor="middle">4</text>
<line x1="418.05" y1="588.6" x2="418.05" y2="591.6" stroke="#3a3a3a" stroke-width="0.7"/>
<text x="418.05" y="600.8" font-size="8.8" fill="#222" stroke="#222" stroke-width="0.15" font-family='"Liberation Serif", "Times New Roman", serif' text-anchor="middle">6</text>
<line x1="445.26" y1="588.6" x2="445.26" y2="591.6" stroke="#3a3a3a" stroke-width="0.7"/>
<text x="445.26" y="600.8" font-size="8.8" fill="#222" stroke="#222" stroke-width="0.15" font-family='"Liberation Serif", "Times New Roman", serif' text-anchor="middle">8</text>
<line x1="472.48" y1="588.6" x2="472.48" y2="591.6" stroke="#3a3a3a" stroke-width="0.7"/>
<text x="472.48" y="600.8" font-size="8.8" fill="#222" stroke="#222" stroke-width="0.15" font-family='"Liberation Serif", "Times New Roman", serif' text-anchor="middle">10</text>
<line x1="499.69" y1="588.6" x2="499.69" y2="591.6" stroke="#3a3a3a" stroke-width="0.7"/>
<text x="499.69" y="600.8" font-size="8.8" fill="#222" stroke="#222" stroke-width="0.15" font-family='"Liberation Serif", "Times New Roman", serif' text-anchor="middle">12</text>
<line x1="350.01" y1="588.6" x2="350.01" y2="590.4" stroke="#3a3a3a" stroke-width="0.7"/>
<line x1="377.22" y1="588.6" x2="377.22" y2="590.4" stroke="#3a3a3a" stroke-width="0.7"/>
<line x1="404.44" y1="588.6" x2="404.44" y2="590.4" stroke="#3a3a3a" stroke-width="0.7"/>
<line x1="431.65" y1="588.6" x2="431.65" y2="590.4" stroke="#3a3a3a" stroke-width="0.7"/>
<line x1="458.87" y1="588.6" x2="458.87" y2="590.4" stroke="#3a3a3a" stroke-width="0.7"/>
<line x1="486.08" y1="588.6" x2="486.08" y2="590.4" stroke="#3a3a3a" stroke-width="0.7"/>
<line x1="513.3" y1="588.6" x2="513.3" y2="590.4" stroke="#3a3a3a" stroke-width="0.7"/>
<line x1="336.4" y1="441.3" x2="336.4" y2="444.3" stroke="#3a3a3a" stroke-width="0.7"/>
<line x1="363.62" y1="441.3" x2="363.62" y2="444.3" stroke="#3a3a3a" stroke-width="0.7"/>
<line x1="390.83" y1="441.3" x2="390.83" y2="444.3" stroke="#3a3a3a" stroke-width="0.7"/>
<line x1="418.05" y1="441.3" x2="418.05" y2="444.3" stroke="#3a3a3a" stroke-width="0.7"/>
<line x1="445.26" y1="441.3" x2="445.26" y2="444.3" stroke="#3a3a3a" stroke-width="0.7"/>
<line x1="472.48" y1="441.3" x2="472.48" y2="444.3" stroke="#3a3a3a" stroke-width="0.7"/>
<line x1="499.69" y1="441.3" x2="499.69" y2="444.3" stroke="#3a3a3a" stroke-width="0.7"/>
<line x1="350.01" y1="441.3" x2="350.01" y2="443.1" stroke="#3a3a3a" stroke-width="0.7"/>
<line x1="377.22" y1="441.3" x2="377.22" y2="443.1" stroke="#3a3a3a" stroke-width="0.7"/>
<line x1="404.44" y1="441.3" x2="404.44" y2="443.1" stroke="#3a3a3a" stroke-width="0.7"/>
<line x1="431.65" y1="441.3" x2="431.65" y2="443.1" stroke="#3a3a3a" stroke-width="0.7"/>
<line x1="458.87" y1="441.3" x2="458.87" y2="443.1" stroke="#3a3a3a" stroke-width="0.7"/>
<line x1="486.08" y1="441.3" x2="486.08" y2="443.1" stroke="#3a3a3a" stroke-width="0.7"/>
<line x1="513.3" y1="441.3" x2="513.3" y2="443.1" stroke="#3a3a3a" stroke-width="0.7"/>
<text x="424.6" y="609" font-size="9.6" fill="#222" font-family='"Liberation Serif", "Times New Roman", serif' text-anchor="middle" textLength="31.7" lengthAdjust="spacingAndGlyphs">Time (h)</text>
<text x="0" y="0" font-size="9.6" fill="#222" font-family='"Liberation Serif", "Times New Roman", serif' text-anchor="middle" textLength="67.5" lengthAdjust="spacingAndGlyphs" transform="translate(320,512) rotate(-90)">Swelling rate (%)</text>
<line x1="429.7" y1="540.6" x2="447.2" y2="540.6" stroke="#8c8c8c" stroke-width="0.9"/><rect x="436.92" y="539.07" width="3.06" height="3.06" fill="#8c8c8c"/><text x="451.2" y="543.77" font-size="9.6" fill="#222" font-family='"Liberation Serif", "Times New Roman", serif'>F<tspan font-size="6.34" dy="2.4">S1L4-PEG</tspan></text>
<line x1="429.7" y1="555.1" x2="447.2" y2="555.1" stroke="#0f6a7e" stroke-width="0.9"/><circle cx="438.45" cy="555.1" r="1.7" fill="#0f6a7e"/><text x="451.2" y="558.27" font-size="9.6" fill="#222" font-family='"Liberation Serif", "Times New Roman", serif'>F<tspan font-size="6.34" dy="2.4">S1L4-TEC</tspan></text>
<line x1="429.7" y1="568.7" x2="447.2" y2="568.7" stroke="#9a8712" stroke-width="0.9"/><polygon points="438.45,566.75 436.58,570.15 440.32,570.15" fill="#9a8712"/><text x="451.2" y="571.87" font-size="9.6" fill="#222" font-family='"Liberation Serif", "Times New Roman", serif'>F<tspan font-size="6.34" dy="2.4">S1L4-GLY</tspan></text>
<text x="534.6" y="440" font-size="22" fill="#111" stroke="#111" stroke-width="0.15" font-family='"Liberation Serif", "Times New Roman", serif'>J</text>
<polyline points="564.75,568.03 569.7,567.36 579.6,561.99 599.4,550.59 619.2,537.17 639,522.41 658.8,502.28 678.6,481.48 698.4,468.07 718.2,461.36" fill="none" stroke="#8c8c8c" stroke-width="0.9" stroke-linejoin="round"/>
<line x1="564.75" y1="566.02" x2="564.75" y2="570.04" stroke="#8c8c8c" stroke-width="0.6"/><line x1="563.25" y1="566.02" x2="566.25" y2="566.02" stroke="#8c8c8c" stroke-width="0.6"/><line x1="563.25" y1="570.04" x2="566.25" y2="570.04" stroke="#8c8c8c" stroke-width="0.6"/>
<line x1="569.7" y1="565.35" x2="569.7" y2="569.37" stroke="#8c8c8c" stroke-width="0.6"/><line x1="568.2" y1="565.35" x2="571.2" y2="565.35" stroke="#8c8c8c" stroke-width="0.6"/><line x1="568.2" y1="569.37" x2="571.2" y2="569.37" stroke="#8c8c8c" stroke-width="0.6"/>
<line x1="579.6" y1="559.98" x2="579.6" y2="564.01" stroke="#8c8c8c" stroke-width="0.6"/><line x1="578.1" y1="559.98" x2="581.1" y2="559.98" stroke="#8c8c8c" stroke-width="0.6"/><line x1="578.1" y1="564.01" x2="581.1" y2="564.01" stroke="#8c8c8c" stroke-width="0.6"/>
<line x1="599.4" y1="548.57" x2="599.4" y2="552.6" stroke="#8c8c8c" stroke-width="0.6"/><line x1="597.9" y1="548.57" x2="600.9" y2="548.57" stroke="#8c8c8c" stroke-width="0.6"/><line x1="597.9" y1="552.6" x2="600.9" y2="552.6" stroke="#8c8c8c" stroke-width="0.6"/>
<line x1="619.2" y1="535.16" x2="619.2" y2="539.18" stroke="#8c8c8c" stroke-width="0.6"/><line x1="617.7" y1="535.16" x2="620.7" y2="535.16" stroke="#8c8c8c" stroke-width="0.6"/><line x1="617.7" y1="539.18" x2="620.7" y2="539.18" stroke="#8c8c8c" stroke-width="0.6"/>
<line x1="639" y1="520.4" x2="639" y2="524.42" stroke="#8c8c8c" stroke-width="0.6"/><line x1="637.5" y1="520.4" x2="640.5" y2="520.4" stroke="#8c8c8c" stroke-width="0.6"/><line x1="637.5" y1="524.42" x2="640.5" y2="524.42" stroke="#8c8c8c" stroke-width="0.6"/>
<line x1="658.8" y1="500.27" x2="658.8" y2="504.29" stroke="#8c8c8c" stroke-width="0.6"/><line x1="657.3" y1="500.27" x2="660.3" y2="500.27" stroke="#8c8c8c" stroke-width="0.6"/><line x1="657.3" y1="504.29" x2="660.3" y2="504.29" stroke="#8c8c8c" stroke-width="0.6"/>
<line x1="678.6" y1="479.47" x2="678.6" y2="483.5" stroke="#8c8c8c" stroke-width="0.6"/><line x1="677.1" y1="479.47" x2="680.1" y2="479.47" stroke="#8c8c8c" stroke-width="0.6"/><line x1="677.1" y1="483.5" x2="680.1" y2="483.5" stroke="#8c8c8c" stroke-width="0.6"/>
<line x1="698.4" y1="466.05" x2="698.4" y2="470.08" stroke="#8c8c8c" stroke-width="0.6"/><line x1="696.9" y1="466.05" x2="699.9" y2="466.05" stroke="#8c8c8c" stroke-width="0.6"/><line x1="696.9" y1="470.08" x2="699.9" y2="470.08" stroke="#8c8c8c" stroke-width="0.6"/>
<line x1="718.2" y1="459.34" x2="718.2" y2="463.37" stroke="#8c8c8c" stroke-width="0.6"/><line x1="716.7" y1="459.34" x2="719.7" y2="459.34" stroke="#8c8c8c" stroke-width="0.6"/><line x1="716.7" y1="463.37" x2="719.7" y2="463.37" stroke="#8c8c8c" stroke-width="0.6"/>
<rect x="562.77" y="566.05" width="3.96" height="3.96" fill="#8c8c8c"/>
<rect x="567.72" y="565.38" width="3.96" height="3.96" fill="#8c8c8c"/>
<rect x="577.62" y="560.01" width="3.96" height="3.96" fill="#8c8c8c"/>
<rect x="597.42" y="548.61" width="3.96" height="3.96" fill="#8c8c8c"/>
<rect x="617.22" y="535.19" width="3.96" height="3.96" fill="#8c8c8c"/>
<rect x="637.02" y="520.43" width="3.96" height="3.96" fill="#8c8c8c"/>
<rect x="656.82" y="500.3" width="3.96" height="3.96" fill="#8c8c8c"/>
<rect x="676.62" y="479.5" width="3.96" height="3.96" fill="#8c8c8c"/>
<rect x="696.42" y="466.09" width="3.96" height="3.96" fill="#8c8c8c"/>
<rect x="716.22" y="459.38" width="3.96" height="3.96" fill="#8c8c8c"/>
<polyline points="564.75,565.35 569.7,562.66 579.6,554.61 599.4,535.16 619.2,516.37 639,500.27 658.8,487.52 678.6,474.77 698.4,466.72 718.2,461.36" fill="none" stroke="#0f6a7e" stroke-width="0.9" stroke-linejoin="round"/>
<line x1="564.75" y1="562.93" x2="564.75" y2="567.76" stroke="#0f6a7e" stroke-width="0.6"/><line x1="563.25" y1="562.93" x2="566.25" y2="562.93" stroke="#0f6a7e" stroke-width="0.6"/><line x1="563.25" y1="567.76" x2="566.25" y2="567.76" stroke="#0f6a7e" stroke-width="0.6"/>
<line x1="569.7" y1="560.25" x2="569.7" y2="565.08" stroke="#0f6a7e" stroke-width="0.6"/><line x1="568.2" y1="560.25" x2="571.2" y2="560.25" stroke="#0f6a7e" stroke-width="0.6"/><line x1="568.2" y1="565.08" x2="571.2" y2="565.08" stroke="#0f6a7e" stroke-width="0.6"/>
<line x1="579.6" y1="552.2" x2="579.6" y2="557.03" stroke="#0f6a7e" stroke-width="0.6"/><line x1="578.1" y1="552.2" x2="581.1" y2="552.2" stroke="#0f6a7e" stroke-width="0.6"/><line x1="578.1" y1="557.03" x2="581.1" y2="557.03" stroke="#0f6a7e" stroke-width="0.6"/>
<line x1="599.4" y1="532.74" x2="599.4" y2="537.57" stroke="#0f6a7e" stroke-width="0.6"/><line x1="597.9" y1="532.74" x2="600.9" y2="532.74" stroke="#0f6a7e" stroke-width="0.6"/><line x1="597.9" y1="537.57" x2="600.9" y2="537.57" stroke="#0f6a7e" stroke-width="0.6"/>
<line x1="619.2" y1="513.96" x2="619.2" y2="518.79" stroke="#0f6a7e" stroke-width="0.6"/><line x1="617.7" y1="513.96" x2="620.7" y2="513.96" stroke="#0f6a7e" stroke-width="0.6"/><line x1="617.7" y1="518.79" x2="620.7" y2="518.79" stroke="#0f6a7e" stroke-width="0.6"/>
<line x1="639" y1="497.85" x2="639" y2="502.68" stroke="#0f6a7e" stroke-width="0.6"/><line x1="637.5" y1="497.85" x2="640.5" y2="497.85" stroke="#0f6a7e" stroke-width="0.6"/><line x1="637.5" y1="502.68" x2="640.5" y2="502.68" stroke="#0f6a7e" stroke-width="0.6"/>
<line x1="658.8" y1="485.11" x2="658.8" y2="489.94" stroke="#0f6a7e" stroke-width="0.6"/><line x1="657.3" y1="485.11" x2="660.3" y2="485.11" stroke="#0f6a7e" stroke-width="0.6"/><line x1="657.3" y1="489.94" x2="660.3" y2="489.94" stroke="#0f6a7e" stroke-width="0.6"/>
<line x1="678.6" y1="472.36" x2="678.6" y2="477.19" stroke="#0f6a7e" stroke-width="0.6"/><line x1="677.1" y1="472.36" x2="680.1" y2="472.36" stroke="#0f6a7e" stroke-width="0.6"/><line x1="677.1" y1="477.19" x2="680.1" y2="477.19" stroke="#0f6a7e" stroke-width="0.6"/>
<line x1="698.4" y1="464.31" x2="698.4" y2="469.14" stroke="#0f6a7e" stroke-width="0.6"/><line x1="696.9" y1="464.31" x2="699.9" y2="464.31" stroke="#0f6a7e" stroke-width="0.6"/><line x1="696.9" y1="469.14" x2="699.9" y2="469.14" stroke="#0f6a7e" stroke-width="0.6"/>
<line x1="718.2" y1="458.94" x2="718.2" y2="463.77" stroke="#0f6a7e" stroke-width="0.6"/><line x1="716.7" y1="458.94" x2="719.7" y2="458.94" stroke="#0f6a7e" stroke-width="0.6"/><line x1="716.7" y1="463.77" x2="719.7" y2="463.77" stroke="#0f6a7e" stroke-width="0.6"/>
<circle cx="564.75" cy="565.35" r="2.2" fill="#0f6a7e"/>
<circle cx="569.7" cy="562.66" r="2.2" fill="#0f6a7e"/>
<circle cx="579.6" cy="554.61" r="2.2" fill="#0f6a7e"/>
<circle cx="599.4" cy="535.16" r="2.2" fill="#0f6a7e"/>
<circle cx="619.2" cy="516.37" r="2.2" fill="#0f6a7e"/>
<circle cx="639" cy="500.27" r="2.2" fill="#0f6a7e"/>
<circle cx="658.8" cy="487.52" r="2.2" fill="#0f6a7e"/>
<circle cx="678.6" cy="474.77" r="2.2" fill="#0f6a7e"/>
<circle cx="698.4" cy="466.72" r="2.2" fill="#0f6a7e"/>
<circle cx="718.2" cy="461.36" r="2.2" fill="#0f6a7e"/>
<polyline points="564.75,563.33 569.7,558.64 579.6,547.9 599.4,528.45 619.2,511 639,490.88 658.8,476.12 678.6,467.39 698.4,463.37 718.2,461.36" fill="none" stroke="#9a8712" stroke-width="0.9" stroke-linejoin="round"/>
<line x1="564.75" y1="559.98" x2="564.75" y2="566.69" stroke="#9a8712" stroke-width="0.6"/><line x1="563.25" y1="559.98" x2="566.25" y2="559.98" stroke="#9a8712" stroke-width="0.6"/><line x1="563.25" y1="566.69" x2="566.25" y2="566.69" stroke="#9a8712" stroke-width="0.6"/>
<line x1="569.7" y1="555.28" x2="569.7" y2="561.99" stroke="#9a8712" stroke-width="0.6"/><line x1="568.2" y1="555.28" x2="571.2" y2="555.28" stroke="#9a8712" stroke-width="0.6"/><line x1="568.2" y1="561.99" x2="571.2" y2="561.99" stroke="#9a8712" stroke-width="0.6"/>
<line x1="579.6" y1="544.55" x2="579.6" y2="551.26" stroke="#9a8712" stroke-width="0.6"/><line x1="578.1" y1="544.55" x2="581.1" y2="544.55" stroke="#9a8712" stroke-width="0.6"/><line x1="578.1" y1="551.26" x2="581.1" y2="551.26" stroke="#9a8712" stroke-width="0.6"/>
<line x1="599.4" y1="525.09" x2="599.4" y2="531.8" stroke="#9a8712" stroke-width="0.6"/><line x1="597.9" y1="525.09" x2="600.9" y2="525.09" stroke="#9a8712" stroke-width="0.6"/><line x1="597.9" y1="531.8" x2="600.9" y2="531.8" stroke="#9a8712" stroke-width="0.6"/>
<line x1="619.2" y1="507.65" x2="619.2" y2="514.36" stroke="#9a8712" stroke-width="0.6"/><line x1="617.7" y1="507.65" x2="620.7" y2="507.65" stroke="#9a8712" stroke-width="0.6"/><line x1="617.7" y1="514.36" x2="620.7" y2="514.36" stroke="#9a8712" stroke-width="0.6"/>
<line x1="639" y1="487.52" x2="639" y2="494.23" stroke="#9a8712" stroke-width="0.6"/><line x1="637.5" y1="487.52" x2="640.5" y2="487.52" stroke="#9a8712" stroke-width="0.6"/><line x1="637.5" y1="494.23" x2="640.5" y2="494.23" stroke="#9a8712" stroke-width="0.6"/>
<line x1="658.8" y1="472.76" x2="658.8" y2="479.47" stroke="#9a8712" stroke-width="0.6"/><line x1="657.3" y1="472.76" x2="660.3" y2="472.76" stroke="#9a8712" stroke-width="0.6"/><line x1="657.3" y1="479.47" x2="660.3" y2="479.47" stroke="#9a8712" stroke-width="0.6"/>
<line x1="678.6" y1="464.04" x2="678.6" y2="470.75" stroke="#9a8712" stroke-width="0.6"/><line x1="677.1" y1="464.04" x2="680.1" y2="464.04" stroke="#9a8712" stroke-width="0.6"/><line x1="677.1" y1="470.75" x2="680.1" y2="470.75" stroke="#9a8712" stroke-width="0.6"/>
<line x1="698.4" y1="460.01" x2="698.4" y2="466.72" stroke="#9a8712" stroke-width="0.6"/><line x1="696.9" y1="460.01" x2="699.9" y2="460.01" stroke="#9a8712" stroke-width="0.6"/><line x1="696.9" y1="466.72" x2="699.9" y2="466.72" stroke="#9a8712" stroke-width="0.6"/>
<line x1="718.2" y1="458" x2="718.2" y2="464.71" stroke="#9a8712" stroke-width="0.6"/><line x1="716.7" y1="458" x2="719.7" y2="458" stroke="#9a8712" stroke-width="0.6"/><line x1="716.7" y1="464.71" x2="719.7" y2="464.71" stroke="#9a8712" stroke-width="0.6"/>
<polygon points="564.75,560.8 562.33,565.2 567.17,565.2" fill="#9a8712"/>
<polygon points="569.7,556.11 567.28,560.51 572.12,560.51" fill="#9a8712"/>
<polygon points="579.6,545.37 577.18,549.77 582.02,549.77" fill="#9a8712"/>
<polygon points="599.4,525.92 596.98,530.32 601.82,530.32" fill="#9a8712"/>
<polygon points="619.2,508.47 616.78,512.87 621.62,512.87" fill="#9a8712"/>
<polygon points="639,488.35 636.58,492.75 641.42,492.75" fill="#9a8712"/>
<polygon points="658.8,473.59 656.38,477.99 661.22,477.99" fill="#9a8712"/>
<polygon points="678.6,464.86 676.18,469.26 681.02,469.26" fill="#9a8712"/>
<polygon points="698.4,460.84 695.98,465.24 700.82,465.24" fill="#9a8712"/>
<polygon points="718.2,458.83 715.78,463.23 720.62,463.23" fill="#9a8712"/>
<rect x="559.8" y="441.9" width="178.2" height="147.6" fill="none" stroke="#3a3a3a" stroke-width="0.75"/>
<line x1="559.8" y1="589.5" x2="556.8" y2="589.5" stroke="#3a3a3a" stroke-width="0.7"/>
<text x="555.4" y="592.49" font-size="8.8" fill="#222" stroke="#222" stroke-width="0.15" font-family='"Liberation Serif", "Times New Roman", serif' text-anchor="end">0</text>
<line x1="559.8" y1="562.66" x2="556.8" y2="562.66" stroke="#3a3a3a" stroke-width="0.7"/>
<text x="555.4" y="565.66" font-size="8.8" fill="#222" stroke="#222" stroke-width="0.15" font-family='"Liberation Serif", "Times New Roman", serif' text-anchor="end">20</text>
<line x1="559.8" y1="535.83" x2="556.8" y2="535.83" stroke="#3a3a3a" stroke-width="0.7"/>
<text x="555.4" y="538.82" font-size="8.8" fill="#222" stroke="#222" stroke-width="0.15" font-family='"Liberation Serif", "Times New Roman", serif' text-anchor="end">40</text>
<line x1="559.8" y1="508.99" x2="556.8" y2="508.99" stroke="#3a3a3a" stroke-width="0.7"/>
<text x="555.4" y="511.98" font-size="8.8" fill="#222" stroke="#222" stroke-width="0.15" font-family='"Liberation Serif", "Times New Roman", serif' text-anchor="end">60</text>
<line x1="559.8" y1="482.15" x2="556.8" y2="482.15" stroke="#3a3a3a" stroke-width="0.7"/>
<text x="555.4" y="485.15" font-size="8.8" fill="#222" stroke="#222" stroke-width="0.15" font-family='"Liberation Serif", "Times New Roman", serif' text-anchor="end">80</text>
<line x1="559.8" y1="455.32" x2="556.8" y2="455.32" stroke="#3a3a3a" stroke-width="0.7"/>
<text x="555.4" y="458.31" font-size="8.8" fill="#222" stroke="#222" stroke-width="0.15" font-family='"Liberation Serif", "Times New Roman", serif' text-anchor="end">100</text>
<line x1="559.8" y1="576.08" x2="558" y2="576.08" stroke="#3a3a3a" stroke-width="0.7"/>
<line x1="559.8" y1="549.25" x2="558" y2="549.25" stroke="#3a3a3a" stroke-width="0.7"/>
<line x1="559.8" y1="522.41" x2="558" y2="522.41" stroke="#3a3a3a" stroke-width="0.7"/>
<line x1="559.8" y1="495.57" x2="558" y2="495.57" stroke="#3a3a3a" stroke-width="0.7"/>
<line x1="559.8" y1="468.74" x2="558" y2="468.74" stroke="#3a3a3a" stroke-width="0.7"/>
<line x1="738" y1="589.5" x2="735" y2="589.5" stroke="#3a3a3a" stroke-width="0.7"/>
<line x1="738" y1="562.66" x2="735" y2="562.66" stroke="#3a3a3a" stroke-width="0.7"/>
<line x1="738" y1="535.83" x2="735" y2="535.83" stroke="#3a3a3a" stroke-width="0.7"/>
<line x1="738" y1="508.99" x2="735" y2="508.99" stroke="#3a3a3a" stroke-width="0.7"/>
<line x1="738" y1="482.15" x2="735" y2="482.15" stroke="#3a3a3a" stroke-width="0.7"/>
<line x1="738" y1="455.32" x2="735" y2="455.32" stroke="#3a3a3a" stroke-width="0.7"/>
<line x1="738" y1="576.08" x2="736.2" y2="576.08" stroke="#3a3a3a" stroke-width="0.7"/>
<line x1="738" y1="549.25" x2="736.2" y2="549.25" stroke="#3a3a3a" stroke-width="0.7"/>
<line x1="738" y1="522.41" x2="736.2" y2="522.41" stroke="#3a3a3a" stroke-width="0.7"/>
<line x1="738" y1="495.57" x2="736.2" y2="495.57" stroke="#3a3a3a" stroke-width="0.7"/>
<line x1="738" y1="468.74" x2="736.2" y2="468.74" stroke="#3a3a3a" stroke-width="0.7"/>
<line x1="559.8" y1="589.5" x2="559.8" y2="592.5" stroke="#3a3a3a" stroke-width="0.7"/>
<text x="559.8" y="601.7" font-size="8.8" fill="#222" stroke="#222" stroke-width="0.15" font-family='"Liberation Serif", "Times New Roman", serif' text-anchor="middle">0</text>
<line x1="579.6" y1="589.5" x2="579.6" y2="592.5" stroke="#3a3a3a" stroke-width="0.7"/>
<text x="579.6" y="601.7" font-size="8.8" fill="#222" stroke="#222" stroke-width="0.15" font-family='"Liberation Serif", "Times New Roman", serif' text-anchor="middle">2</text>
<line x1="599.4" y1="589.5" x2="599.4" y2="592.5" stroke="#3a3a3a" stroke-width="0.7"/>
<text x="599.4" y="601.7" font-size="8.8" fill="#222" stroke="#222" stroke-width="0.15" font-family='"Liberation Serif", "Times New Roman", serif' text-anchor="middle">4</text>
<line x1="619.2" y1="589.5" x2="619.2" y2="592.5" stroke="#3a3a3a" stroke-width="0.7"/>
<text x="619.2" y="601.7" font-size="8.8" fill="#222" stroke="#222" stroke-width="0.15" font-family='"Liberation Serif", "Times New Roman", serif' text-anchor="middle">6</text>
<line x1="639" y1="589.5" x2="639" y2="592.5" stroke="#3a3a3a" stroke-width="0.7"/>
<text x="639" y="601.7" font-size="8.8" fill="#222" stroke="#222" stroke-width="0.15" font-family='"Liberation Serif", "Times New Roman", serif' text-anchor="middle">8</text>
<line x1="658.8" y1="589.5" x2="658.8" y2="592.5" stroke="#3a3a3a" stroke-width="0.7"/>
<text x="658.8" y="601.7" font-size="8.8" fill="#222" stroke="#222" stroke-width="0.15" font-family='"Liberation Serif", "Times New Roman", serif' text-anchor="middle">10</text>
<line x1="678.6" y1="589.5" x2="678.6" y2="592.5" stroke="#3a3a3a" stroke-width="0.7"/>
<text x="678.6" y="601.7" font-size="8.8" fill="#222" stroke="#222" stroke-width="0.15" font-family='"Liberation Serif", "Times New Roman", serif' text-anchor="middle">12</text>
<line x1="698.4" y1="589.5" x2="698.4" y2="592.5" stroke="#3a3a3a" stroke-width="0.7"/>
<text x="698.4" y="601.7" font-size="8.8" fill="#222" stroke="#222" stroke-width="0.15" font-family='"Liberation Serif", "Times New Roman", serif' text-anchor="middle">14</text>
<line x1="718.2" y1="589.5" x2="718.2" y2="592.5" stroke="#3a3a3a" stroke-width="0.7"/>
<text x="718.2" y="601.7" font-size="8.8" fill="#222" stroke="#222" stroke-width="0.15" font-family='"Liberation Serif", "Times New Roman", serif' text-anchor="middle">16</text>
<line x1="738" y1="589.5" x2="738" y2="592.5" stroke="#3a3a3a" stroke-width="0.7"/>
<text x="738" y="601.7" font-size="8.8" fill="#222" stroke="#222" stroke-width="0.15" font-family='"Liberation Serif", "Times New Roman", serif' text-anchor="middle">18</text>
<line x1="569.7" y1="589.5" x2="569.7" y2="591.3" stroke="#3a3a3a" stroke-width="0.7"/>
<line x1="589.5" y1="589.5" x2="589.5" y2="591.3" stroke="#3a3a3a" stroke-width="0.7"/>
<line x1="609.3" y1="589.5" x2="609.3" y2="591.3" stroke="#3a3a3a" stroke-width="0.7"/>
<line x1="629.1" y1="589.5" x2="629.1" y2="591.3" stroke="#3a3a3a" stroke-width="0.7"/>
<line x1="648.9" y1="589.5" x2="648.9" y2="591.3" stroke="#3a3a3a" stroke-width="0.7"/>
<line x1="668.7" y1="589.5" x2="668.7" y2="591.3" stroke="#3a3a3a" stroke-width="0.7"/>
<line x1="688.5" y1="589.5" x2="688.5" y2="591.3" stroke="#3a3a3a" stroke-width="0.7"/>
<line x1="708.3" y1="589.5" x2="708.3" y2="591.3" stroke="#3a3a3a" stroke-width="0.7"/>
<line x1="728.1" y1="589.5" x2="728.1" y2="591.3" stroke="#3a3a3a" stroke-width="0.7"/>
<line x1="559.8" y1="441.9" x2="559.8" y2="444.9" stroke="#3a3a3a" stroke-width="0.7"/>
<line x1="579.6" y1="441.9" x2="579.6" y2="444.9" stroke="#3a3a3a" stroke-width="0.7"/>
<line x1="599.4" y1="441.9" x2="599.4" y2="444.9" stroke="#3a3a3a" stroke-width="0.7"/>
<line x1="619.2" y1="441.9" x2="619.2" y2="444.9" stroke="#3a3a3a" stroke-width="0.7"/>
<line x1="639" y1="441.9" x2="639" y2="444.9" stroke="#3a3a3a" stroke-width="0.7"/>
<line x1="658.8" y1="441.9" x2="658.8" y2="444.9" stroke="#3a3a3a" stroke-width="0.7"/>
<line x1="678.6" y1="441.9" x2="678.6" y2="444.9" stroke="#3a3a3a" stroke-width="0.7"/>
<line x1="698.4" y1="441.9" x2="698.4" y2="444.9" stroke="#3a3a3a" stroke-width="0.7"/>
<line x1="718.2" y1="441.9" x2="718.2" y2="444.9" stroke="#3a3a3a" stroke-width="0.7"/>
<line x1="738" y1="441.9" x2="738" y2="444.9" stroke="#3a3a3a" stroke-width="0.7"/>
<line x1="569.7" y1="441.9" x2="569.7" y2="443.7" stroke="#3a3a3a" stroke-width="0.7"/>
<line x1="589.5" y1="441.9" x2="589.5" y2="443.7" stroke="#3a3a3a" stroke-width="0.7"/>
<line x1="609.3" y1="441.9" x2="609.3" y2="443.7" stroke="#3a3a3a" stroke-width="0.7"/>
<line x1="629.1" y1="441.9" x2="629.1" y2="443.7" stroke="#3a3a3a" stroke-width="0.7"/>
<line x1="648.9" y1="441.9" x2="648.9" y2="443.7" stroke="#3a3a3a" stroke-width="0.7"/>
<line x1="668.7" y1="441.9" x2="668.7" y2="443.7" stroke="#3a3a3a" stroke-width="0.7"/>
<line x1="688.5" y1="441.9" x2="688.5" y2="443.7" stroke="#3a3a3a" stroke-width="0.7"/>
<line x1="708.3" y1="441.9" x2="708.3" y2="443.7" stroke="#3a3a3a" stroke-width="0.7"/>
<line x1="728.1" y1="441.9" x2="728.1" y2="443.7" stroke="#3a3a3a" stroke-width="0.7"/>
<text x="649.2" y="610" font-size="9.6" fill="#222" font-family='"Liberation Serif", "Times New Roman", serif' text-anchor="middle" textLength="32.1" lengthAdjust="spacingAndGlyphs">Time (h)</text>
<text x="0" y="0" font-size="9.6" fill="#222" font-family='"Liberation Serif", "Times New Roman", serif' text-anchor="middle" textLength="23.8" lengthAdjust="spacingAndGlyphs" transform="translate(545.2,516) rotate(-90)">Q (%)</text>
<line x1="664.5" y1="509.8" x2="681.7" y2="509.8" stroke="#8c8c8c" stroke-width="0.9"/><rect x="671.48" y="508.18" width="3.24" height="3.24" fill="#8c8c8c"/><text x="684.8" y="513.03" font-size="9.8" fill="#222" font-family='"Liberation Serif", "Times New Roman", serif'>F<tspan font-size="6.47" dy="2.45">S1L4-PEG</tspan></text>
<line x1="664.5" y1="522.5" x2="681.7" y2="522.5" stroke="#0f6a7e" stroke-width="0.9"/><circle cx="673.1" cy="522.5" r="1.8" fill="#0f6a7e"/><text x="684.8" y="525.73" font-size="9.8" fill="#222" font-family='"Liberation Serif", "Times New Roman", serif'>F<tspan font-size="6.47" dy="2.45">S1L4-GLY</tspan></text>
<line x1="664.5" y1="537" x2="681.7" y2="537" stroke="#9a8712" stroke-width="0.9"/><polygon points="673.1,534.93 671.12,538.53 675.08,538.53" fill="#9a8712"/><text x="684.8" y="540.23" font-size="9.8" fill="#222" font-family='"Liberation Serif", "Times New Roman", serif'>F<tspan font-size="6.47" dy="2.45">S1L4-TEC</tspan></text>
</svg>
<div class="ln bt" id="l0" style="top:691.10px;font-size:9.80px;left:50.00px;word-spacing:1.033px;">current at 50 mA. The diffraction angles (2θ) were scanned from 5° to</div>
<div class="ln bt" id="l1" style="top:705.00px;font-size:9.80px;left:50.00px;word-spacing:0.981px;">50° at a rate of 6°/min.</div>
<div class="ln bt hh" id="l2" style="top:733.20px;font-size:9.80px;left:50.00px;word-spacing:2.130px;"><i>2.2.11.&nbsp;&nbsp; Texture analysis</i></div>
<div class="ln bt" id="l3" style="top:747.60px;font-size:9.80px;left:66.60px;word-spacing:1.983px;">Tensile test: The tensile test of the texture analyzer was used to</div>
<div class="ln bt" id="l4" style="top:761.50px;font-size:9.80px;left:50.00px;word-spacing:0.610px;">evaluate the tensile properties and stability of the MH-<i>SS</i> and to deter-</div>
<div class="ln bt" id="l5" style="top:775.40px;font-size:9.80px;left:50.00px;word-spacing:0.274px;">mine whether the swelling pressure or high internal osmotic pressure of</div>
<div class="ln bt" id="l6" style="top:789.30px;font-size:9.80px;left:50.00px;word-spacing:0.377px;">the polymer during the dissolution process of the MH-<i>CSS</i> would cause</div>
<div class="ln bt" id="l7" style="top:803.10px;font-size:9.80px;left:50.00px;word-spacing:0.945px;">the MH-<i>SS</i> to break. The sample was prepared as a strip as shown in</div>
<div class="ln bt" id="l8" style="top:817.00px;font-size:9.80px;left:50.00px;word-spacing:-0.198px;"><span class="lk">Fig. 3</span>A, subjected to dissolution test conditions, and removed after <b>12</b> h.</div>
<div class="ln bt" id="l9" style="top:830.80px;font-size:9.80px;left:50.00px;word-spacing:3.018px;">Tensile testing was performed using a TA-XT plus texture analyzer</div>
<div class="ln bt" id="l10" style="top:844.70px;font-size:9.80px;left:50.00px;word-spacing:0.539px;">equipped with an A/TG probe (Pekin Elmer, America). The impregnated</div>
<div class="ln bt" id="l11" style="top:858.60px;font-size:9.80px;left:50.00px;word-spacing:-0.214px;">MH-<i>SS</i> was tensioned at equal lengths from top to bottom, with a 30-mm</div>
<div class="ln bt" id="l12" style="top:872.60px;font-size:9.80px;left:50.00px;word-spacing:2.492px;">reserve in the middle. The elongation at break (F<sub>b</sub>) of the film was</div>
<div class="ln bt" id="l13" style="top:886.60px;font-size:9.80px;left:50.00px;word-spacing:0.781px;">measured at a tensile speed of 0.5 mm/s, and tensile strength (σ) was</div>
<div class="ln bt" id="l14" style="top:900.70px;font-size:9.80px;left:50.00px;word-spacing:0.966px;">calculated using Equation II:</div>
<div class="ln bt" id="l15" style="top:922.00px;font-size:9.80px;left:50.00px;"><i>σ</i> = <i>F</i><sub>b</sub>/<i>S</i><sub>0</sub></div>
<div class="ln bt" id="l16" style="top:922.00px;font-size:9.80px;left:372.30px;">(2)</div>
<div class="ln bt" id="l17" style="top:947.80px;font-size:9.80px;left:50.00px;word-spacing:2.470px;">where <i>F</i><sub>b</sub> is the maximum force the strip film could withstand when</div>
<div class="ln bt" id="l18" style="top:961.80px;font-size:9.80px;left:50.00px;word-spacing:-0.086px;">stretched (expressed in N) and <i>S</i><sub>0</sub> is the cross-sectional area of the strip</div>
<div class="ln bt" id="l19" style="top:975.70px;font-size:9.80px;left:50.00px;word-spacing:0.101px;">(expressed in mm<sup>2</sup>). The unit of tensile strength is expressed in MPa.</div>
<div class="ln bt" id="l20" style="top:691.60px;font-size:9.80px;left:425.80px;word-spacing:0.637px;">Puncture test: The hardness of the MH-<i>SS</i> was assessed using the</div>
<div class="ln bt" id="l21" style="top:705.40px;font-size:9.80px;left:408.80px;word-spacing:0.287px;">puncture test. The MH-<i>SS</i> was printed in a strip form with two layers as</div>
<div class="ln bt" id="l22" style="top:719.40px;font-size:9.80px;left:408.80px;word-spacing:0.404px;">shown in <span class="lk">Fig. 3</span>B, subjected to dissolution test conditions, and removed</div>
<div class="ln bt" id="l23" style="top:733.40px;font-size:9.80px;left:408.80px;word-spacing:0.582px;">after <b>12</b> h. MH-<i>SS</i> was placed on the A/TG base, leaving <b>10</b> mm in the</div>
<div class="ln bt" id="l24" style="top:747.10px;font-size:9.80px;left:408.80px;word-spacing:-0.618px;">center, and a P/2 probe was used for testing. The test speed was <b>1.0</b> mm/</div>
<div class="ln bt" id="l25" style="top:761.10px;font-size:9.80px;left:408.80px;word-spacing:-0.513px;">s, and the test was stopped when the puncture displacement was <b>10</b> mm.</div>
<div class="ln bt" id="l26" style="top:775.10px;font-size:9.80px;left:408.80px;word-spacing:0.097px;">The puncture force was recorded. The number of samples was three.</div>
<div class="ln bt" id="l27" style="top:789.00px;font-size:9.80px;left:425.80px;word-spacing:-0.951px;">Hardness: As the hardness of MH-<i>CSS</i> exceeded the upper limit of the</div>
<div class="ln bt" id="l28" style="top:803.00px;font-size:9.80px;left:408.80px;word-spacing:0.228px;">hardness tester (&gt;200 N), a texture analyzer was used to determine the</div>
<div class="ln bt" id="l29" style="top:817.00px;font-size:9.80px;left:408.80px;word-spacing:-0.274px;">hardness of 3D-printed MH-<i>CSS</i>. Six tablets of the reference formulation</div>
<div class="ln bt" id="l30" style="top:830.90px;font-size:9.80px;left:408.80px;word-spacing:1.091px;">(Glucophage® XR, Merck KgaA) and 3D-printed MH-<i>CSS</i> were placed</div>
<div class="ln bt" id="l31" style="top:844.80px;font-size:9.80px;left:408.80px;word-spacing:1.178px;">vertically directly under the P/6 probe of the texture analyzer, and the</div>
<div class="ln bt" id="l32" style="top:858.70px;font-size:9.80px;left:408.80px;word-spacing:-0.521px;">maximum load forces were tested in the radial direction at a test speed of</div>
<div class="ln bt" id="l33" style="top:872.70px;font-size:9.80px;left:408.80px;word-spacing:3.128px;"><b>1.0</b> mm/s.</div>
<div class="ln bt hh" id="l34" style="top:900.80px;font-size:9.80px;left:408.80px;word-spacing:0.088px;"><i>2.2.12.&nbsp;&nbsp; Field emission scanning electron microscopy (FE-SEM)</i></div>
<div class="ln bt" id="l35" style="top:914.50px;font-size:9.80px;left:425.80px;word-spacing:-0.838px;">FE-SEM uses high-energy electron beams to image samples by faster</div>
<div class="ln bt" id="l36" style="top:928.60px;font-size:9.80px;left:408.80px;word-spacing:1.053px;">scanning, providing a microscopic image of the surface morphology of</div>
<div class="ln bt" id="l37" style="top:942.30px;font-size:9.80px;left:408.80px;word-spacing:1.076px;">solids. The preparations were fixed on an aluminum disc with conduc-</div>
<div class="ln bt" id="l38" style="top:956.00px;font-size:9.80px;left:408.80px;word-spacing:1.833px;">tive carbon, and its surface was evenly sprayed with gold powder to</div>
<div class="ln bt" id="l39" style="top:970.00px;font-size:9.80px;left:408.80px;word-spacing:2.394px;">increase conductivity. A Merlin FE-SEM equipment (Zeiss, Germany)</div>
<div class="ln cap" id="l40" style="top:623.99px;font-size:8.40px;left:50.60px;word-spacing:-0.067px;">Fig. 3.&nbsp; Optimization and evaluation of MH-SS. (A) Schematic of tensile test. (B) Schematic of puncture test. (C) Tensile test curve of different proportions of RL and</div>
<div class="ln cap" id="l41" style="top:636.59px;font-size:8.40px;left:50.60px;word-spacing:-0.428px;">RS. (D) Penetration force of different proportions of RL and RS. (E) Tensile strength and elongation at break of different proportions of RL and RS. (F) Swelling ratio of</div>
<div class="ln cap" id="l42" style="top:649.79px;font-size:8.40px;left:50.60px;word-spacing:0.149px;">different proportions of RL and RS. (G) Dissolution results. (H) Effect of plasticizer type on tensile strength and elongation at break. (I) Effect of plasticizer type on</div>
<div class="ln cap" id="l43" style="top:662.39px;font-size:8.40px;left:50.60px;word-spacing:0.810px;">swelling ratio. (J) Effect of plasticizer type on dissolution.</div>
<div class="ln hd" id="l44" style="top:47.13px;font-size:8.00px;left:50.00px;word-spacing:0.474px;"><i>Z. Liu et al.</i></div>
<div class="ln hd" id="l45" style="top:47.13px;font-size:8.00px;left:600.70px;word-spacing:1.787px;"><i>Materials Today Bio 27 (2024) 101153</i></div>
<div class="ln pg" id="l46" style="top:1008.13px;font-size:8.00px;left:394.5px;">5</div>
</body></html>
